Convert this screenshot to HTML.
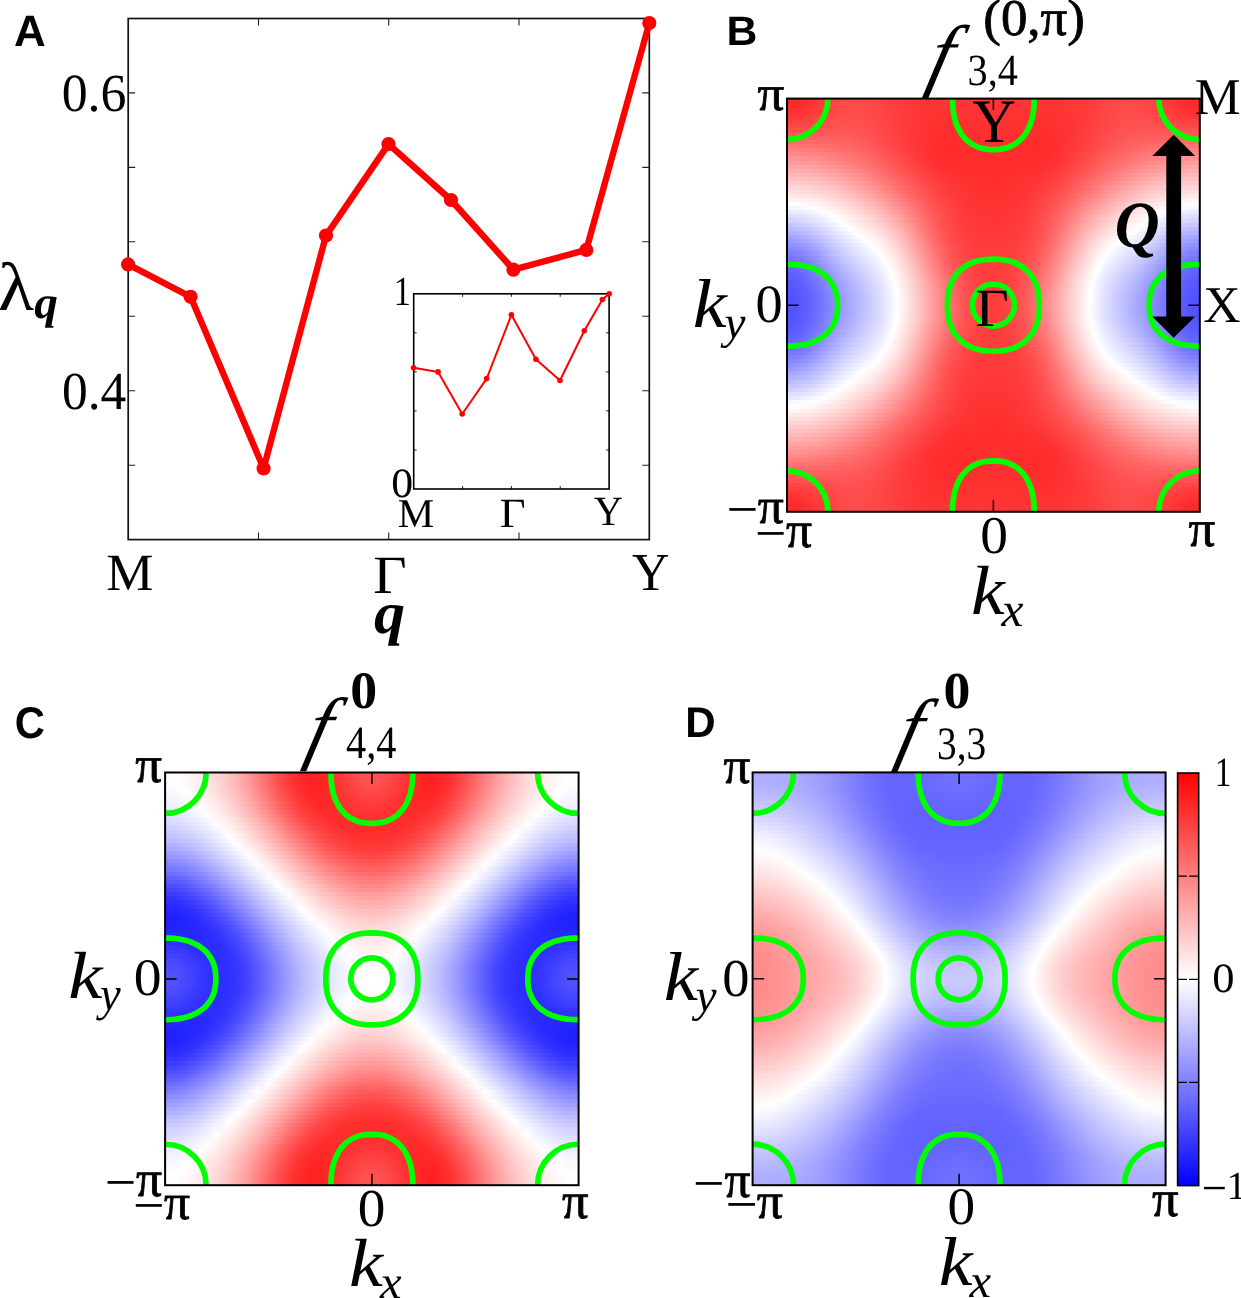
<!DOCTYPE html><html><head><meta charset="utf-8"><title>Figure</title><style>html,body{margin:0;padding:0;background:#fff}svg{display:block}</style></head><body><svg width="1241" height="1298" viewBox="0 0 1241 1298" text-rendering="geometricPrecision"><rect width="1241" height="1298" fill="#fff"/><defs><clipPath id="cp"><rect x="0" y="0" width="413.0" height="413.0"/></clipPath><g id="fs" fill="none" stroke="#00ff00" stroke-width="5.7" clip-path="url(#cp)"><circle cx="206.5" cy="206.5" r="21.0"/><path d="M252.5 206.5L252.3 212.0L251.9 216.5L251.1 220.7L250.1 224.6L248.7 228.3L247.1 231.7L245.2 234.9L243.0 237.8L240.5 240.5L237.8 243.0L234.9 245.2L231.7 247.1L228.3 248.7L224.6 250.1L220.7 251.1L216.5 251.9L212.0 252.3L206.5 252.5L201.0 252.3L196.5 251.9L192.3 251.1L188.4 250.1L184.7 248.7L181.3 247.1L178.1 245.2L175.2 243.0L172.5 240.5L170.0 237.8L167.8 234.9L165.9 231.7L164.3 228.3L162.9 224.6L161.9 220.7L161.1 216.5L160.7 212.0L160.5 206.5L160.7 201.0L161.1 196.5L161.9 192.3L162.9 188.4L164.3 184.7L165.9 181.3L167.8 178.1L170.0 175.2L172.5 172.5L175.2 170.0L178.1 167.8L181.3 165.9L184.7 164.3L188.4 162.9L192.3 161.9L196.5 161.1L201.0 160.7L206.5 160.5L212.0 160.7L216.5 161.1L220.7 161.9L224.6 162.9L228.3 164.3L231.7 165.9L234.9 167.8L237.8 170.0L240.5 172.5L243.0 175.2L245.2 178.1L247.1 181.3L248.7 184.7L250.1 188.4L251.1 192.3L251.9 196.5L252.3 201.0Z"/><path d="M50.7 206.5L50.5 211.4L50.0 215.4L49.2 219.1L48.0 222.6L46.5 225.8L44.7 228.8L42.6 231.7L40.2 234.3L37.5 236.7L34.5 238.9L31.3 240.8L27.7 242.5L24.0 244.0L19.9 245.2L15.7 246.1L11.1 246.8L6.1 247.2L0.0 247.3L-6.1 247.2L-11.1 246.8L-15.7 246.1L-19.9 245.2L-24.0 244.0L-27.7 242.5L-31.3 240.8L-34.5 238.9L-37.5 236.7L-40.2 234.3L-42.6 231.7L-44.7 228.8L-46.5 225.8L-48.0 222.6L-49.2 219.1L-50.0 215.4L-50.5 211.4L-50.7 206.5L-50.5 201.6L-50.0 197.6L-49.2 193.9L-48.0 190.4L-46.5 187.2L-44.7 184.2L-42.6 181.3L-40.2 178.7L-37.5 176.3L-34.5 174.1L-31.3 172.2L-27.7 170.5L-24.0 169.0L-19.9 167.8L-15.7 166.9L-11.1 166.2L-6.1 165.8L-0.0 165.7L6.1 165.8L11.1 166.2L15.7 166.9L19.9 167.8L24.0 169.0L27.7 170.5L31.3 172.2L34.5 174.1L37.5 176.3L40.2 178.7L42.6 181.3L44.7 184.2L46.5 187.2L48.0 190.4L49.2 193.9L50.0 197.6L50.5 201.6Z"/><path d="M463.7 206.5L463.5 211.4L463.0 215.4L462.2 219.1L461.0 222.6L459.5 225.8L457.7 228.8L455.6 231.7L453.2 234.3L450.5 236.7L447.5 238.9L444.3 240.8L440.7 242.5L437.0 244.0L432.9 245.2L428.7 246.1L424.1 246.8L419.1 247.2L413.0 247.3L406.9 247.2L401.9 246.8L397.3 246.1L393.1 245.2L389.0 244.0L385.3 242.5L381.7 240.8L378.5 238.9L375.5 236.7L372.8 234.3L370.4 231.7L368.3 228.8L366.5 225.8L365.0 222.6L363.8 219.1L363.0 215.4L362.5 211.4L362.3 206.5L362.5 201.6L363.0 197.6L363.8 193.9L365.0 190.4L366.5 187.2L368.3 184.2L370.4 181.3L372.8 178.7L375.5 176.3L378.5 174.1L381.7 172.2L385.3 170.5L389.0 169.0L393.1 167.8L397.3 166.9L401.9 166.2L406.9 165.8L413.0 165.7L419.1 165.8L424.1 166.2L428.7 166.9L432.9 167.8L437.0 169.0L440.7 170.5L444.3 172.2L447.5 174.1L450.5 176.3L453.2 178.7L455.6 181.3L457.7 184.2L459.5 187.2L461.0 190.4L462.2 193.9L463.0 197.6L463.5 201.6Z"/><path d="M247.3 0.0L247.2 6.1L246.8 11.1L246.1 15.7L245.2 20.0L244.0 24.1L242.5 27.9L240.8 31.4L238.9 34.7L236.7 37.7L234.3 40.4L231.7 42.8L228.8 44.9L225.8 46.7L222.6 48.2L219.1 49.4L215.4 50.2L211.4 50.7L206.5 50.9L201.6 50.7L197.6 50.2L193.9 49.4L190.4 48.2L187.2 46.7L184.2 44.9L181.3 42.8L178.7 40.4L176.3 37.7L174.1 34.7L172.2 31.4L170.5 27.9L169.0 24.1L167.8 20.0L166.9 15.7L166.2 11.1L165.8 6.1L165.7 0.0L165.8 -6.1L166.2 -11.1L166.9 -15.7L167.8 -20.0L169.0 -24.1L170.5 -27.9L172.2 -31.4L174.1 -34.7L176.3 -37.7L178.7 -40.4L181.3 -42.8L184.2 -44.9L187.2 -46.7L190.4 -48.2L193.9 -49.4L197.6 -50.2L201.6 -50.7L206.5 -50.9L211.4 -50.7L215.4 -50.2L219.1 -49.4L222.6 -48.2L225.8 -46.7L228.8 -44.9L231.7 -42.8L234.3 -40.4L236.7 -37.7L238.9 -34.7L240.8 -31.4L242.5 -27.9L244.0 -24.1L245.2 -20.0L246.1 -15.7L246.8 -11.1L247.2 -6.1Z"/><path d="M247.3 413.0L247.2 419.1L246.8 424.1L246.1 428.7L245.2 433.0L244.0 437.1L242.5 440.9L240.8 444.4L238.9 447.7L236.7 450.7L234.3 453.4L231.7 455.8L228.8 457.9L225.8 459.7L222.6 461.2L219.1 462.4L215.4 463.2L211.4 463.7L206.5 463.9L201.6 463.7L197.6 463.2L193.9 462.4L190.4 461.2L187.2 459.7L184.2 457.9L181.3 455.8L178.7 453.4L176.3 450.7L174.1 447.7L172.2 444.4L170.5 440.9L169.0 437.1L167.8 433.0L166.9 428.7L166.2 424.1L165.8 419.1L165.7 413.0L165.8 406.9L166.2 401.9L166.9 397.3L167.8 393.0L169.0 388.9L170.5 385.1L172.2 381.6L174.1 378.3L176.3 375.3L178.7 372.6L181.3 370.2L184.2 368.1L187.2 366.3L190.4 364.8L193.9 363.6L197.6 362.8L201.6 362.3L206.5 362.1L211.4 362.3L215.4 362.8L219.1 363.6L222.6 364.8L225.8 366.3L228.8 368.1L231.7 370.2L234.3 372.6L236.7 375.3L238.9 378.3L240.8 381.6L242.5 385.1L244.0 388.9L245.2 393.0L246.1 397.3L246.8 401.9L247.2 406.9Z"/><circle cx="0" cy="0" r="41"/><circle cx="0" cy="413.0" r="41"/><circle cx="413.0" cy="0" r="41"/><circle cx="413.0" cy="413.0" r="41"/></g><linearGradient id="b0" gradientUnits="userSpaceOnUse" x1="993.40" x2="1199.80" y1="0" y2="0" spreadMethod="reflect"><stop offset="0" stop-color="#ff3333"/><stop offset="0.05" stop-color="#ff3434"/><stop offset="0.1" stop-color="#ff3434"/><stop offset="0.15" stop-color="#ff3434"/><stop offset="0.2" stop-color="#ff3434"/><stop offset="0.25" stop-color="#ff3434"/><stop offset="0.3" stop-color="#ff3434"/><stop offset="0.35" stop-color="#ff3636"/><stop offset="0.4" stop-color="#ff3838"/><stop offset="0.45" stop-color="#ff3c3c"/><stop offset="0.5" stop-color="#ff4040"/><stop offset="0.55" stop-color="#ff4545"/><stop offset="0.6" stop-color="#ff4949"/><stop offset="0.65" stop-color="#ff4b4b"/><stop offset="0.7" stop-color="#ff4b4b"/><stop offset="0.75" stop-color="#ff4747"/><stop offset="0.8" stop-color="#ff4040"/><stop offset="0.85" stop-color="#ff3838"/><stop offset="0.9" stop-color="#ff3030"/><stop offset="0.95" stop-color="#ff2b2b"/><stop offset="1" stop-color="#ff2929"/></linearGradient><linearGradient id="b1" gradientUnits="userSpaceOnUse" x1="993.40" x2="1199.80" y1="0" y2="0" spreadMethod="reflect"><stop offset="0" stop-color="#ff3333"/><stop offset="0.05" stop-color="#ff3333"/><stop offset="0.1" stop-color="#ff3434"/><stop offset="0.15" stop-color="#ff3434"/><stop offset="0.2" stop-color="#ff3434"/><stop offset="0.25" stop-color="#ff3434"/><stop offset="0.3" stop-color="#ff3434"/><stop offset="0.35" stop-color="#ff3535"/><stop offset="0.4" stop-color="#ff3838"/><stop offset="0.45" stop-color="#ff3c3c"/><stop offset="0.5" stop-color="#ff4040"/><stop offset="0.55" stop-color="#ff4545"/><stop offset="0.6" stop-color="#ff4949"/><stop offset="0.65" stop-color="#ff4c4c"/><stop offset="0.7" stop-color="#ff4b4b"/><stop offset="0.75" stop-color="#ff4747"/><stop offset="0.8" stop-color="#ff4141"/><stop offset="0.85" stop-color="#ff3939"/><stop offset="0.9" stop-color="#ff3131"/><stop offset="0.95" stop-color="#ff2c2c"/><stop offset="1" stop-color="#ff2a2a"/></linearGradient><linearGradient id="b2" gradientUnits="userSpaceOnUse" x1="993.40" x2="1199.80" y1="0" y2="0" spreadMethod="reflect"><stop offset="0" stop-color="#ff3333"/><stop offset="0.05" stop-color="#ff3333"/><stop offset="0.1" stop-color="#ff3333"/><stop offset="0.15" stop-color="#ff3333"/><stop offset="0.2" stop-color="#ff3333"/><stop offset="0.25" stop-color="#ff3333"/><stop offset="0.3" stop-color="#ff3434"/><stop offset="0.35" stop-color="#ff3535"/><stop offset="0.4" stop-color="#ff3838"/><stop offset="0.45" stop-color="#ff3c3c"/><stop offset="0.5" stop-color="#ff4040"/><stop offset="0.55" stop-color="#ff4646"/><stop offset="0.6" stop-color="#ff4a4a"/><stop offset="0.65" stop-color="#ff4c4c"/><stop offset="0.7" stop-color="#ff4b4b"/><stop offset="0.75" stop-color="#ff4848"/><stop offset="0.8" stop-color="#ff4242"/><stop offset="0.85" stop-color="#ff3b3b"/><stop offset="0.9" stop-color="#ff3434"/><stop offset="0.95" stop-color="#ff2f2f"/><stop offset="1" stop-color="#ff2d2d"/></linearGradient><linearGradient id="b3" gradientUnits="userSpaceOnUse" x1="993.40" x2="1199.80" y1="0" y2="0" spreadMethod="reflect"><stop offset="0" stop-color="#ff3333"/><stop offset="0.05" stop-color="#ff3333"/><stop offset="0.1" stop-color="#ff3333"/><stop offset="0.15" stop-color="#ff3333"/><stop offset="0.2" stop-color="#ff3232"/><stop offset="0.25" stop-color="#ff3232"/><stop offset="0.3" stop-color="#ff3333"/><stop offset="0.35" stop-color="#ff3535"/><stop offset="0.4" stop-color="#ff3838"/><stop offset="0.45" stop-color="#ff3c3c"/><stop offset="0.5" stop-color="#ff4141"/><stop offset="0.55" stop-color="#ff4646"/><stop offset="0.6" stop-color="#ff4a4a"/><stop offset="0.65" stop-color="#ff4d4d"/><stop offset="0.7" stop-color="#ff4c4c"/><stop offset="0.75" stop-color="#ff4949"/><stop offset="0.8" stop-color="#ff4444"/><stop offset="0.85" stop-color="#ff3e3e"/><stop offset="0.9" stop-color="#ff3838"/><stop offset="0.95" stop-color="#ff3333"/><stop offset="1" stop-color="#ff3131"/></linearGradient><linearGradient id="b4" gradientUnits="userSpaceOnUse" x1="993.40" x2="1199.80" y1="0" y2="0" spreadMethod="reflect"><stop offset="0" stop-color="#ff3333"/><stop offset="0.05" stop-color="#ff3333"/><stop offset="0.1" stop-color="#ff3232"/><stop offset="0.15" stop-color="#ff3232"/><stop offset="0.2" stop-color="#ff3131"/><stop offset="0.25" stop-color="#ff3131"/><stop offset="0.3" stop-color="#ff3232"/><stop offset="0.35" stop-color="#ff3434"/><stop offset="0.4" stop-color="#ff3737"/><stop offset="0.45" stop-color="#ff3c3c"/><stop offset="0.5" stop-color="#ff4141"/><stop offset="0.55" stop-color="#ff4646"/><stop offset="0.6" stop-color="#ff4b4b"/><stop offset="0.65" stop-color="#ff4e4e"/><stop offset="0.7" stop-color="#ff4e4e"/><stop offset="0.75" stop-color="#ff4c4c"/><stop offset="0.8" stop-color="#ff4747"/><stop offset="0.85" stop-color="#ff4242"/><stop offset="0.9" stop-color="#ff3c3c"/><stop offset="0.95" stop-color="#ff3838"/><stop offset="1" stop-color="#ff3737"/></linearGradient><linearGradient id="b5" gradientUnits="userSpaceOnUse" x1="993.40" x2="1199.80" y1="0" y2="0" spreadMethod="reflect"><stop offset="0" stop-color="#ff3232"/><stop offset="0.05" stop-color="#ff3232"/><stop offset="0.1" stop-color="#ff3232"/><stop offset="0.15" stop-color="#ff3131"/><stop offset="0.2" stop-color="#ff3030"/><stop offset="0.25" stop-color="#ff3030"/><stop offset="0.3" stop-color="#ff3131"/><stop offset="0.35" stop-color="#ff3434"/><stop offset="0.4" stop-color="#ff3737"/><stop offset="0.45" stop-color="#ff3c3c"/><stop offset="0.5" stop-color="#ff4242"/><stop offset="0.55" stop-color="#ff4747"/><stop offset="0.6" stop-color="#ff4c4c"/><stop offset="0.65" stop-color="#ff4f4f"/><stop offset="0.7" stop-color="#ff5050"/><stop offset="0.75" stop-color="#ff4e4e"/><stop offset="0.8" stop-color="#ff4b4b"/><stop offset="0.85" stop-color="#ff4646"/><stop offset="0.9" stop-color="#ff4242"/><stop offset="0.95" stop-color="#ff3f3f"/><stop offset="1" stop-color="#ff3e3e"/></linearGradient><linearGradient id="b6" gradientUnits="userSpaceOnUse" x1="993.40" x2="1199.80" y1="0" y2="0" spreadMethod="reflect"><stop offset="0" stop-color="#ff3232"/><stop offset="0.05" stop-color="#ff3232"/><stop offset="0.1" stop-color="#ff3131"/><stop offset="0.15" stop-color="#ff3030"/><stop offset="0.2" stop-color="#ff2f2f"/><stop offset="0.25" stop-color="#ff2f2f"/><stop offset="0.3" stop-color="#ff3030"/><stop offset="0.35" stop-color="#ff3333"/><stop offset="0.4" stop-color="#ff3737"/><stop offset="0.45" stop-color="#ff3c3c"/><stop offset="0.5" stop-color="#ff4242"/><stop offset="0.55" stop-color="#ff4848"/><stop offset="0.6" stop-color="#ff4d4d"/><stop offset="0.65" stop-color="#ff5050"/><stop offset="0.7" stop-color="#ff5252"/><stop offset="0.75" stop-color="#ff5151"/><stop offset="0.8" stop-color="#ff4f4f"/><stop offset="0.85" stop-color="#ff4c4c"/><stop offset="0.9" stop-color="#ff4949"/><stop offset="0.95" stop-color="#ff4646"/><stop offset="1" stop-color="#ff4646"/></linearGradient><linearGradient id="b7" gradientUnits="userSpaceOnUse" x1="993.40" x2="1199.80" y1="0" y2="0" spreadMethod="reflect"><stop offset="0" stop-color="#ff3131"/><stop offset="0.05" stop-color="#ff3131"/><stop offset="0.1" stop-color="#ff3030"/><stop offset="0.15" stop-color="#ff2f2f"/><stop offset="0.2" stop-color="#ff2e2e"/><stop offset="0.25" stop-color="#ff2e2e"/><stop offset="0.3" stop-color="#ff3030"/><stop offset="0.35" stop-color="#ff3333"/><stop offset="0.4" stop-color="#ff3737"/><stop offset="0.45" stop-color="#ff3d3d"/><stop offset="0.5" stop-color="#ff4343"/><stop offset="0.55" stop-color="#ff4949"/><stop offset="0.6" stop-color="#ff4f4f"/><stop offset="0.65" stop-color="#ff5252"/><stop offset="0.7" stop-color="#ff5555"/><stop offset="0.75" stop-color="#ff5555"/><stop offset="0.8" stop-color="#ff5454"/><stop offset="0.85" stop-color="#ff5252"/><stop offset="0.9" stop-color="#ff5050"/><stop offset="0.95" stop-color="#ff4f4f"/><stop offset="1" stop-color="#ff4e4e"/></linearGradient><linearGradient id="b8" gradientUnits="userSpaceOnUse" x1="993.40" x2="1199.80" y1="0" y2="0" spreadMethod="reflect"><stop offset="0" stop-color="#ff3131"/><stop offset="0.05" stop-color="#ff3030"/><stop offset="0.1" stop-color="#ff2f2f"/><stop offset="0.15" stop-color="#ff2e2e"/><stop offset="0.2" stop-color="#ff2d2d"/><stop offset="0.25" stop-color="#ff2d2d"/><stop offset="0.3" stop-color="#ff2f2f"/><stop offset="0.35" stop-color="#ff3333"/><stop offset="0.4" stop-color="#ff3838"/><stop offset="0.45" stop-color="#ff3e3e"/><stop offset="0.5" stop-color="#ff4545"/><stop offset="0.55" stop-color="#ff4b4b"/><stop offset="0.6" stop-color="#ff5151"/><stop offset="0.65" stop-color="#ff5555"/><stop offset="0.7" stop-color="#ff5858"/><stop offset="0.75" stop-color="#ff5959"/><stop offset="0.8" stop-color="#ff5959"/><stop offset="0.85" stop-color="#ff5959"/><stop offset="0.9" stop-color="#ff5858"/><stop offset="0.95" stop-color="#ff5757"/><stop offset="1" stop-color="#ff5757"/></linearGradient><linearGradient id="b9" gradientUnits="userSpaceOnUse" x1="993.40" x2="1199.80" y1="0" y2="0" spreadMethod="reflect"><stop offset="0" stop-color="#ff3030"/><stop offset="0.05" stop-color="#ff3030"/><stop offset="0.1" stop-color="#ff2f2f"/><stop offset="0.15" stop-color="#ff2d2d"/><stop offset="0.2" stop-color="#ff2c2c"/><stop offset="0.25" stop-color="#ff2d2d"/><stop offset="0.3" stop-color="#ff2f2f"/><stop offset="0.35" stop-color="#ff3333"/><stop offset="0.4" stop-color="#ff3838"/><stop offset="0.45" stop-color="#ff3f3f"/><stop offset="0.5" stop-color="#ff4646"/><stop offset="0.55" stop-color="#ff4d4d"/><stop offset="0.6" stop-color="#ff5353"/><stop offset="0.65" stop-color="#ff5858"/><stop offset="0.7" stop-color="#ff5c5c"/><stop offset="0.75" stop-color="#ff5e5e"/><stop offset="0.8" stop-color="#ff5f5f"/><stop offset="0.85" stop-color="#ff6060"/><stop offset="0.9" stop-color="#ff6161"/><stop offset="0.95" stop-color="#ff6161"/><stop offset="1" stop-color="#ff6161"/></linearGradient><linearGradient id="b10" gradientUnits="userSpaceOnUse" x1="993.40" x2="1199.80" y1="0" y2="0" spreadMethod="reflect"><stop offset="0" stop-color="#ff3030"/><stop offset="0.05" stop-color="#ff2f2f"/><stop offset="0.1" stop-color="#ff2e2e"/><stop offset="0.15" stop-color="#ff2d2d"/><stop offset="0.2" stop-color="#ff2c2c"/><stop offset="0.25" stop-color="#ff2c2c"/><stop offset="0.3" stop-color="#ff2f2f"/><stop offset="0.35" stop-color="#ff3333"/><stop offset="0.4" stop-color="#ff3939"/><stop offset="0.45" stop-color="#ff4040"/><stop offset="0.5" stop-color="#ff4848"/><stop offset="0.55" stop-color="#ff4f4f"/><stop offset="0.6" stop-color="#ff5656"/><stop offset="0.65" stop-color="#ff5c5c"/><stop offset="0.7" stop-color="#ff6060"/><stop offset="0.75" stop-color="#ff6363"/><stop offset="0.8" stop-color="#ff6666"/><stop offset="0.85" stop-color="#ff6868"/><stop offset="0.9" stop-color="#ff6a6a"/><stop offset="0.95" stop-color="#ff6a6a"/><stop offset="1" stop-color="#ff6b6b"/></linearGradient><linearGradient id="b11" gradientUnits="userSpaceOnUse" x1="993.40" x2="1199.80" y1="0" y2="0" spreadMethod="reflect"><stop offset="0" stop-color="#ff2f2f"/><stop offset="0.05" stop-color="#ff2f2f"/><stop offset="0.1" stop-color="#ff2e2e"/><stop offset="0.15" stop-color="#ff2c2c"/><stop offset="0.2" stop-color="#ff2b2b"/><stop offset="0.25" stop-color="#ff2c2c"/><stop offset="0.3" stop-color="#ff2f2f"/><stop offset="0.35" stop-color="#ff3434"/><stop offset="0.4" stop-color="#ff3a3a"/><stop offset="0.45" stop-color="#ff4242"/><stop offset="0.5" stop-color="#ff4a4a"/><stop offset="0.55" stop-color="#ff5252"/><stop offset="0.6" stop-color="#ff5a5a"/><stop offset="0.65" stop-color="#ff6060"/><stop offset="0.7" stop-color="#ff6565"/><stop offset="0.75" stop-color="#ff6969"/><stop offset="0.8" stop-color="#ff6d6d"/><stop offset="0.85" stop-color="#ff7070"/><stop offset="0.9" stop-color="#ff7373"/><stop offset="0.95" stop-color="#ff7474"/><stop offset="1" stop-color="#ff7575"/></linearGradient><linearGradient id="b12" gradientUnits="userSpaceOnUse" x1="993.40" x2="1199.80" y1="0" y2="0" spreadMethod="reflect"><stop offset="0" stop-color="#ff2f2f"/><stop offset="0.05" stop-color="#ff2f2f"/><stop offset="0.1" stop-color="#ff2d2d"/><stop offset="0.15" stop-color="#ff2c2c"/><stop offset="0.2" stop-color="#ff2b2b"/><stop offset="0.25" stop-color="#ff2c2c"/><stop offset="0.3" stop-color="#ff2f2f"/><stop offset="0.35" stop-color="#ff3535"/><stop offset="0.4" stop-color="#ff3c3c"/><stop offset="0.45" stop-color="#ff4444"/><stop offset="0.5" stop-color="#ff4d4d"/><stop offset="0.55" stop-color="#ff5656"/><stop offset="0.6" stop-color="#ff5e5e"/><stop offset="0.65" stop-color="#ff6464"/><stop offset="0.7" stop-color="#ff6b6b"/><stop offset="0.75" stop-color="#ff7070"/><stop offset="0.8" stop-color="#ff7575"/><stop offset="0.85" stop-color="#ff7979"/><stop offset="0.9" stop-color="#ff7c7c"/><stop offset="0.95" stop-color="#ff7e7e"/><stop offset="1" stop-color="#ff7f7f"/></linearGradient><linearGradient id="b13" gradientUnits="userSpaceOnUse" x1="993.40" x2="1199.80" y1="0" y2="0" spreadMethod="reflect"><stop offset="0" stop-color="#ff2f2f"/><stop offset="0.05" stop-color="#ff2e2e"/><stop offset="0.1" stop-color="#ff2d2d"/><stop offset="0.15" stop-color="#ff2c2c"/><stop offset="0.2" stop-color="#ff2c2c"/><stop offset="0.25" stop-color="#ff2d2d"/><stop offset="0.3" stop-color="#ff3131"/><stop offset="0.35" stop-color="#ff3636"/><stop offset="0.4" stop-color="#ff3e3e"/><stop offset="0.45" stop-color="#ff4747"/><stop offset="0.5" stop-color="#ff5050"/><stop offset="0.55" stop-color="#ff5a5a"/><stop offset="0.6" stop-color="#ff6262"/><stop offset="0.65" stop-color="#ff6a6a"/><stop offset="0.7" stop-color="#ff7171"/><stop offset="0.75" stop-color="#ff7777"/><stop offset="0.8" stop-color="#ff7d7d"/><stop offset="0.85" stop-color="#ff8282"/><stop offset="0.9" stop-color="#ff8585"/><stop offset="0.95" stop-color="#ff8888"/><stop offset="1" stop-color="#ff8989"/></linearGradient><linearGradient id="b14" gradientUnits="userSpaceOnUse" x1="993.40" x2="1199.80" y1="0" y2="0" spreadMethod="reflect"><stop offset="0" stop-color="#ff2e2e"/><stop offset="0.05" stop-color="#ff2e2e"/><stop offset="0.1" stop-color="#ff2d2d"/><stop offset="0.15" stop-color="#ff2c2c"/><stop offset="0.2" stop-color="#ff2c2c"/><stop offset="0.25" stop-color="#ff2e2e"/><stop offset="0.3" stop-color="#ff3232"/><stop offset="0.35" stop-color="#ff3838"/><stop offset="0.4" stop-color="#ff4141"/><stop offset="0.45" stop-color="#ff4a4a"/><stop offset="0.5" stop-color="#ff5454"/><stop offset="0.55" stop-color="#ff5e5e"/><stop offset="0.6" stop-color="#ff6767"/><stop offset="0.65" stop-color="#ff7070"/><stop offset="0.7" stop-color="#ff7878"/><stop offset="0.75" stop-color="#ff7f7f"/><stop offset="0.8" stop-color="#ff8585"/><stop offset="0.85" stop-color="#ff8b8b"/><stop offset="0.9" stop-color="#ff8f8f"/><stop offset="0.95" stop-color="#ff9292"/><stop offset="1" stop-color="#ff9393"/></linearGradient><linearGradient id="b15" gradientUnits="userSpaceOnUse" x1="993.40" x2="1199.80" y1="0" y2="0" spreadMethod="reflect"><stop offset="0" stop-color="#ff2e2e"/><stop offset="0.05" stop-color="#ff2e2e"/><stop offset="0.1" stop-color="#ff2d2d"/><stop offset="0.15" stop-color="#ff2d2d"/><stop offset="0.2" stop-color="#ff2d2d"/><stop offset="0.25" stop-color="#ff3030"/><stop offset="0.3" stop-color="#ff3434"/><stop offset="0.35" stop-color="#ff3b3b"/><stop offset="0.4" stop-color="#ff4444"/><stop offset="0.45" stop-color="#ff4e4e"/><stop offset="0.5" stop-color="#ff5858"/><stop offset="0.55" stop-color="#ff6363"/><stop offset="0.6" stop-color="#ff6d6d"/><stop offset="0.65" stop-color="#ff7676"/><stop offset="0.7" stop-color="#ff7f7f"/><stop offset="0.75" stop-color="#ff8787"/><stop offset="0.8" stop-color="#ff8e8e"/><stop offset="0.85" stop-color="#ff9494"/><stop offset="0.9" stop-color="#ff9898"/><stop offset="0.95" stop-color="#ff9b9b"/><stop offset="1" stop-color="#ff9c9c"/></linearGradient><linearGradient id="b16" gradientUnits="userSpaceOnUse" x1="993.40" x2="1199.80" y1="0" y2="0" spreadMethod="reflect"><stop offset="0" stop-color="#ff2e2e"/><stop offset="0.05" stop-color="#ff2e2e"/><stop offset="0.1" stop-color="#ff2d2d"/><stop offset="0.15" stop-color="#ff2d2d"/><stop offset="0.2" stop-color="#ff2e2e"/><stop offset="0.25" stop-color="#ff3131"/><stop offset="0.3" stop-color="#ff3636"/><stop offset="0.35" stop-color="#ff3e3e"/><stop offset="0.4" stop-color="#ff4747"/><stop offset="0.45" stop-color="#ff5252"/><stop offset="0.5" stop-color="#ff5d5d"/><stop offset="0.55" stop-color="#ff6868"/><stop offset="0.6" stop-color="#ff7373"/><stop offset="0.65" stop-color="#ff7d7d"/><stop offset="0.7" stop-color="#ff8686"/><stop offset="0.75" stop-color="#ff8f8f"/><stop offset="0.8" stop-color="#ff9696"/><stop offset="0.85" stop-color="#ff9d9d"/><stop offset="0.9" stop-color="#ffa2a2"/><stop offset="0.95" stop-color="#ffa5a5"/><stop offset="1" stop-color="#ffa6a6"/></linearGradient><linearGradient id="b17" gradientUnits="userSpaceOnUse" x1="993.40" x2="1199.80" y1="0" y2="0" spreadMethod="reflect"><stop offset="0" stop-color="#ff2e2e"/><stop offset="0.05" stop-color="#ff2e2e"/><stop offset="0.1" stop-color="#ff2e2e"/><stop offset="0.15" stop-color="#ff2e2e"/><stop offset="0.2" stop-color="#ff3030"/><stop offset="0.25" stop-color="#ff3333"/><stop offset="0.3" stop-color="#ff3939"/><stop offset="0.35" stop-color="#ff4141"/><stop offset="0.4" stop-color="#ff4b4b"/><stop offset="0.45" stop-color="#ff5656"/><stop offset="0.5" stop-color="#ff6262"/><stop offset="0.55" stop-color="#ff6e6e"/><stop offset="0.6" stop-color="#ff7a7a"/><stop offset="0.65" stop-color="#ff8585"/><stop offset="0.7" stop-color="#ff8f8f"/><stop offset="0.75" stop-color="#ff9898"/><stop offset="0.8" stop-color="#ff9f9f"/><stop offset="0.85" stop-color="#ffa6a6"/><stop offset="0.9" stop-color="#ffabab"/><stop offset="0.95" stop-color="#ffaeae"/><stop offset="1" stop-color="#ffafaf"/></linearGradient><linearGradient id="b18" gradientUnits="userSpaceOnUse" x1="993.40" x2="1199.80" y1="0" y2="0" spreadMethod="reflect"><stop offset="0" stop-color="#ff2e2e"/><stop offset="0.05" stop-color="#ff2e2e"/><stop offset="0.1" stop-color="#ff2e2e"/><stop offset="0.15" stop-color="#ff2f2f"/><stop offset="0.2" stop-color="#ff3232"/><stop offset="0.25" stop-color="#ff3636"/><stop offset="0.3" stop-color="#ff3c3c"/><stop offset="0.35" stop-color="#ff4545"/><stop offset="0.4" stop-color="#ff4f4f"/><stop offset="0.45" stop-color="#ff5b5b"/><stop offset="0.5" stop-color="#ff6868"/><stop offset="0.55" stop-color="#ff7474"/><stop offset="0.6" stop-color="#ff8181"/><stop offset="0.65" stop-color="#ff8c8c"/><stop offset="0.7" stop-color="#ff9797"/><stop offset="0.75" stop-color="#ffa0a0"/><stop offset="0.8" stop-color="#ffa9a9"/><stop offset="0.85" stop-color="#ffafaf"/><stop offset="0.9" stop-color="#ffb4b4"/><stop offset="0.95" stop-color="#ffb8b8"/><stop offset="1" stop-color="#ffb9b9"/></linearGradient><linearGradient id="b19" gradientUnits="userSpaceOnUse" x1="993.40" x2="1199.80" y1="0" y2="0" spreadMethod="reflect"><stop offset="0" stop-color="#ff2e2e"/><stop offset="0.05" stop-color="#ff2f2f"/><stop offset="0.1" stop-color="#ff2f2f"/><stop offset="0.15" stop-color="#ff3131"/><stop offset="0.2" stop-color="#ff3333"/><stop offset="0.25" stop-color="#ff3838"/><stop offset="0.3" stop-color="#ff3f3f"/><stop offset="0.35" stop-color="#ff4949"/><stop offset="0.4" stop-color="#ff5454"/><stop offset="0.45" stop-color="#ff6060"/><stop offset="0.5" stop-color="#ff6e6e"/><stop offset="0.55" stop-color="#ff7b7b"/><stop offset="0.6" stop-color="#ff8888"/><stop offset="0.65" stop-color="#ff9494"/><stop offset="0.7" stop-color="#ffa0a0"/><stop offset="0.75" stop-color="#ffa9a9"/><stop offset="0.8" stop-color="#ffb2b2"/><stop offset="0.85" stop-color="#ffb9b9"/><stop offset="0.9" stop-color="#ffbebe"/><stop offset="0.95" stop-color="#ffc1c1"/><stop offset="1" stop-color="#ffc2c2"/></linearGradient><linearGradient id="b20" gradientUnits="userSpaceOnUse" x1="993.40" x2="1199.80" y1="0" y2="0" spreadMethod="reflect"><stop offset="0" stop-color="#ff2f2f"/><stop offset="0.05" stop-color="#ff2f2f"/><stop offset="0.1" stop-color="#ff3030"/><stop offset="0.15" stop-color="#ff3232"/><stop offset="0.2" stop-color="#ff3535"/><stop offset="0.25" stop-color="#ff3b3b"/><stop offset="0.3" stop-color="#ff4343"/><stop offset="0.35" stop-color="#ff4d4d"/><stop offset="0.4" stop-color="#ff5959"/><stop offset="0.45" stop-color="#ff6666"/><stop offset="0.5" stop-color="#ff7474"/><stop offset="0.55" stop-color="#ff8282"/><stop offset="0.6" stop-color="#ff9090"/><stop offset="0.65" stop-color="#ff9d9d"/><stop offset="0.7" stop-color="#ffa8a8"/><stop offset="0.75" stop-color="#ffb2b2"/><stop offset="0.8" stop-color="#ffbbbb"/><stop offset="0.85" stop-color="#ffc2c2"/><stop offset="0.9" stop-color="#ffc7c7"/><stop offset="0.95" stop-color="#ffcaca"/><stop offset="1" stop-color="#ffcbcb"/></linearGradient><linearGradient id="b21" gradientUnits="userSpaceOnUse" x1="993.40" x2="1199.80" y1="0" y2="0" spreadMethod="reflect"><stop offset="0" stop-color="#ff2f2f"/><stop offset="0.05" stop-color="#ff3030"/><stop offset="0.1" stop-color="#ff3131"/><stop offset="0.15" stop-color="#ff3333"/><stop offset="0.2" stop-color="#ff3737"/><stop offset="0.25" stop-color="#ff3e3e"/><stop offset="0.3" stop-color="#ff4646"/><stop offset="0.35" stop-color="#ff5151"/><stop offset="0.4" stop-color="#ff5e5e"/><stop offset="0.45" stop-color="#ff6c6c"/><stop offset="0.5" stop-color="#ff7b7b"/><stop offset="0.55" stop-color="#ff8a8a"/><stop offset="0.6" stop-color="#ff9898"/><stop offset="0.65" stop-color="#ffa5a5"/><stop offset="0.7" stop-color="#ffb1b1"/><stop offset="0.75" stop-color="#ffbcbc"/><stop offset="0.8" stop-color="#ffc4c4"/><stop offset="0.85" stop-color="#ffcbcb"/><stop offset="0.9" stop-color="#ffd1d1"/><stop offset="0.95" stop-color="#ffd4d4"/><stop offset="1" stop-color="#ffd5d5"/></linearGradient><linearGradient id="b22" gradientUnits="userSpaceOnUse" x1="993.40" x2="1199.80" y1="0" y2="0" spreadMethod="reflect"><stop offset="0" stop-color="#ff3030"/><stop offset="0.05" stop-color="#ff3030"/><stop offset="0.1" stop-color="#ff3232"/><stop offset="0.15" stop-color="#ff3535"/><stop offset="0.2" stop-color="#ff3939"/><stop offset="0.25" stop-color="#ff4040"/><stop offset="0.3" stop-color="#ff4a4a"/><stop offset="0.35" stop-color="#ff5656"/><stop offset="0.4" stop-color="#ff6363"/><stop offset="0.45" stop-color="#ff7272"/><stop offset="0.5" stop-color="#ff8282"/><stop offset="0.55" stop-color="#ff9191"/><stop offset="0.6" stop-color="#ffa0a0"/><stop offset="0.65" stop-color="#ffaeae"/><stop offset="0.7" stop-color="#ffbaba"/><stop offset="0.75" stop-color="#ffc5c5"/><stop offset="0.8" stop-color="#ffcece"/><stop offset="0.85" stop-color="#ffd5d5"/><stop offset="0.9" stop-color="#ffdada"/><stop offset="0.95" stop-color="#ffdede"/><stop offset="1" stop-color="#ffdfdf"/></linearGradient><linearGradient id="b23" gradientUnits="userSpaceOnUse" x1="993.40" x2="1199.80" y1="0" y2="0" spreadMethod="reflect"><stop offset="0" stop-color="#ff3030"/><stop offset="0.05" stop-color="#ff3131"/><stop offset="0.1" stop-color="#ff3333"/><stop offset="0.15" stop-color="#ff3636"/><stop offset="0.2" stop-color="#ff3b3b"/><stop offset="0.25" stop-color="#ff4343"/><stop offset="0.3" stop-color="#ff4d4d"/><stop offset="0.35" stop-color="#ff5a5a"/><stop offset="0.4" stop-color="#ff6969"/><stop offset="0.45" stop-color="#ff7979"/><stop offset="0.5" stop-color="#ff8989"/><stop offset="0.55" stop-color="#ff9999"/><stop offset="0.6" stop-color="#ffa8a8"/><stop offset="0.65" stop-color="#ffb6b6"/><stop offset="0.7" stop-color="#ffc3c3"/><stop offset="0.75" stop-color="#ffcece"/><stop offset="0.8" stop-color="#ffd7d7"/><stop offset="0.85" stop-color="#ffdede"/><stop offset="0.9" stop-color="#ffe4e4"/><stop offset="0.95" stop-color="#ffe8e8"/><stop offset="1" stop-color="#ffe9e9"/></linearGradient><linearGradient id="b24" gradientUnits="userSpaceOnUse" x1="993.40" x2="1199.80" y1="0" y2="0" spreadMethod="reflect"><stop offset="0" stop-color="#ff3131"/><stop offset="0.05" stop-color="#ff3232"/><stop offset="0.1" stop-color="#ff3333"/><stop offset="0.15" stop-color="#ff3737"/><stop offset="0.2" stop-color="#ff3d3d"/><stop offset="0.25" stop-color="#ff4646"/><stop offset="0.3" stop-color="#ff5151"/><stop offset="0.35" stop-color="#ff5f5f"/><stop offset="0.4" stop-color="#ff6f6f"/><stop offset="0.45" stop-color="#ff8080"/><stop offset="0.5" stop-color="#ff9191"/><stop offset="0.55" stop-color="#ffa1a1"/><stop offset="0.6" stop-color="#ffb1b1"/><stop offset="0.65" stop-color="#ffbfbf"/><stop offset="0.7" stop-color="#ffcbcb"/><stop offset="0.75" stop-color="#ffd6d6"/><stop offset="0.8" stop-color="#ffe0e0"/><stop offset="0.85" stop-color="#ffe8e8"/><stop offset="0.9" stop-color="#ffeeee"/><stop offset="0.95" stop-color="#fff2f2"/><stop offset="1" stop-color="#fff3f3"/></linearGradient><linearGradient id="b25" gradientUnits="userSpaceOnUse" x1="993.40" x2="1199.80" y1="0" y2="0" spreadMethod="reflect"><stop offset="0" stop-color="#ff3232"/><stop offset="0.05" stop-color="#ff3232"/><stop offset="0.1" stop-color="#ff3434"/><stop offset="0.15" stop-color="#ff3838"/><stop offset="0.2" stop-color="#ff3f3f"/><stop offset="0.25" stop-color="#ff4848"/><stop offset="0.3" stop-color="#ff5454"/><stop offset="0.35" stop-color="#ff6464"/><stop offset="0.4" stop-color="#ff7575"/><stop offset="0.45" stop-color="#ff8787"/><stop offset="0.5" stop-color="#ff9898"/><stop offset="0.55" stop-color="#ffa9a9"/><stop offset="0.6" stop-color="#ffb9b9"/><stop offset="0.65" stop-color="#ffc7c7"/><stop offset="0.7" stop-color="#ffd4d4"/><stop offset="0.75" stop-color="#ffdfdf"/><stop offset="0.8" stop-color="#ffe9e9"/><stop offset="0.85" stop-color="#fff2f2"/><stop offset="0.9" stop-color="#fff8f8"/><stop offset="0.95" stop-color="#fffdfd"/><stop offset="1" stop-color="#fffefe"/></linearGradient><linearGradient id="b26" gradientUnits="userSpaceOnUse" x1="993.40" x2="1199.80" y1="0" y2="0" spreadMethod="reflect"><stop offset="0" stop-color="#ff3333"/><stop offset="0.05" stop-color="#ff3333"/><stop offset="0.1" stop-color="#ff3535"/><stop offset="0.15" stop-color="#ff3939"/><stop offset="0.2" stop-color="#ff4040"/><stop offset="0.25" stop-color="#ff4a4a"/><stop offset="0.3" stop-color="#ff5858"/><stop offset="0.35" stop-color="#ff6868"/><stop offset="0.4" stop-color="#ff7b7b"/><stop offset="0.45" stop-color="#ff8e8e"/><stop offset="0.5" stop-color="#ffa0a0"/><stop offset="0.55" stop-color="#ffb1b1"/><stop offset="0.6" stop-color="#ffc1c1"/><stop offset="0.65" stop-color="#ffcfcf"/><stop offset="0.7" stop-color="#ffdcdc"/><stop offset="0.75" stop-color="#ffe7e7"/><stop offset="0.8" stop-color="#fff2f2"/><stop offset="0.85" stop-color="#fffbfb"/><stop offset="0.8736" stop-color="#ffffff"/><stop offset="0.9" stop-color="#fbfbff"/><stop offset="0.95" stop-color="#f7f7ff"/><stop offset="1" stop-color="#f5f5ff"/></linearGradient><linearGradient id="b27" gradientUnits="userSpaceOnUse" x1="993.40" x2="1199.80" y1="0" y2="0" spreadMethod="reflect"><stop offset="0" stop-color="#ff3333"/><stop offset="0.05" stop-color="#ff3434"/><stop offset="0.1" stop-color="#ff3636"/><stop offset="0.15" stop-color="#ff3a3a"/><stop offset="0.2" stop-color="#ff4242"/><stop offset="0.25" stop-color="#ff4d4d"/><stop offset="0.3" stop-color="#ff5b5b"/><stop offset="0.35" stop-color="#ff6d6d"/><stop offset="0.4" stop-color="#ff8181"/><stop offset="0.45" stop-color="#ff9595"/><stop offset="0.5" stop-color="#ffa8a8"/><stop offset="0.55" stop-color="#ffb9b9"/><stop offset="0.6" stop-color="#ffc9c9"/><stop offset="0.65" stop-color="#ffd7d7"/><stop offset="0.7" stop-color="#ffe4e4"/><stop offset="0.75" stop-color="#fff0f0"/><stop offset="0.8" stop-color="#fffbfb"/><stop offset="0.82" stop-color="#ffffff"/><stop offset="0.85" stop-color="#f9f9ff"/><stop offset="0.9" stop-color="#f1f1ff"/><stop offset="0.95" stop-color="#ebebff"/><stop offset="1" stop-color="#eaeaff"/></linearGradient><linearGradient id="b28" gradientUnits="userSpaceOnUse" x1="993.40" x2="1199.80" y1="0" y2="0" spreadMethod="reflect"><stop offset="0" stop-color="#ff3434"/><stop offset="0.05" stop-color="#ff3535"/><stop offset="0.1" stop-color="#ff3737"/><stop offset="0.15" stop-color="#ff3b3b"/><stop offset="0.2" stop-color="#ff4343"/><stop offset="0.25" stop-color="#ff4f4f"/><stop offset="0.3" stop-color="#ff5f5f"/><stop offset="0.35" stop-color="#ff7272"/><stop offset="0.4" stop-color="#ff8686"/><stop offset="0.45" stop-color="#ff9c9c"/><stop offset="0.5" stop-color="#ffafaf"/><stop offset="0.55" stop-color="#ffc1c1"/><stop offset="0.6" stop-color="#ffd1d1"/><stop offset="0.65" stop-color="#ffdfdf"/><stop offset="0.7" stop-color="#ffebeb"/><stop offset="0.75" stop-color="#fff8f8"/><stop offset="0.781" stop-color="#ffffff"/><stop offset="0.8" stop-color="#fbfbff"/><stop offset="0.85" stop-color="#efefff"/><stop offset="0.9" stop-color="#e6e6ff"/><stop offset="0.95" stop-color="#e0e0ff"/><stop offset="1" stop-color="#dedeff"/></linearGradient><linearGradient id="b29" gradientUnits="userSpaceOnUse" x1="993.40" x2="1199.80" y1="0" y2="0" spreadMethod="reflect"><stop offset="0" stop-color="#ff3535"/><stop offset="0.05" stop-color="#ff3636"/><stop offset="0.1" stop-color="#ff3838"/><stop offset="0.15" stop-color="#ff3c3c"/><stop offset="0.2" stop-color="#ff4545"/><stop offset="0.25" stop-color="#ff5151"/><stop offset="0.3" stop-color="#ff6262"/><stop offset="0.35" stop-color="#ff7676"/><stop offset="0.4" stop-color="#ff8c8c"/><stop offset="0.45" stop-color="#ffa3a3"/><stop offset="0.5" stop-color="#ffb7b7"/><stop offset="0.55" stop-color="#ffc9c9"/><stop offset="0.6" stop-color="#ffd9d9"/><stop offset="0.65" stop-color="#ffe6e6"/><stop offset="0.7" stop-color="#fff3f3"/><stop offset="0.7485" stop-color="#ffffff"/><stop offset="0.75" stop-color="#ffffff"/><stop offset="0.8" stop-color="#f2f2ff"/><stop offset="0.85" stop-color="#e6e6ff"/><stop offset="0.9" stop-color="#dcdcff"/><stop offset="0.95" stop-color="#d5d5ff"/><stop offset="1" stop-color="#d2d2ff"/></linearGradient><linearGradient id="b30" gradientUnits="userSpaceOnUse" x1="993.40" x2="1199.80" y1="0" y2="0" spreadMethod="reflect"><stop offset="0" stop-color="#ff3636"/><stop offset="0.05" stop-color="#ff3737"/><stop offset="0.1" stop-color="#ff3939"/><stop offset="0.15" stop-color="#ff3d3d"/><stop offset="0.2" stop-color="#ff4646"/><stop offset="0.25" stop-color="#ff5353"/><stop offset="0.3" stop-color="#ff6565"/><stop offset="0.35" stop-color="#ff7b7b"/><stop offset="0.4" stop-color="#ff9292"/><stop offset="0.45" stop-color="#ffa9a9"/><stop offset="0.5" stop-color="#ffbfbf"/><stop offset="0.55" stop-color="#ffd1d1"/><stop offset="0.6" stop-color="#ffe0e0"/><stop offset="0.65" stop-color="#ffeded"/><stop offset="0.7" stop-color="#fffafa"/><stop offset="0.7194" stop-color="#ffffff"/><stop offset="0.75" stop-color="#f7f7ff"/><stop offset="0.8" stop-color="#eaeaff"/><stop offset="0.85" stop-color="#dcdcff"/><stop offset="0.9" stop-color="#d1d1ff"/><stop offset="0.95" stop-color="#c9c9ff"/><stop offset="1" stop-color="#c6c6ff"/></linearGradient><linearGradient id="b31" gradientUnits="userSpaceOnUse" x1="993.40" x2="1199.80" y1="0" y2="0" spreadMethod="reflect"><stop offset="0" stop-color="#ff3737"/><stop offset="0.05" stop-color="#ff3737"/><stop offset="0.1" stop-color="#ff3939"/><stop offset="0.15" stop-color="#ff3e3e"/><stop offset="0.2" stop-color="#ff4747"/><stop offset="0.25" stop-color="#ff5555"/><stop offset="0.3" stop-color="#ff6868"/><stop offset="0.35" stop-color="#ff7f7f"/><stop offset="0.4" stop-color="#ff9898"/><stop offset="0.45" stop-color="#ffb0b0"/><stop offset="0.5" stop-color="#ffc6c6"/><stop offset="0.55" stop-color="#ffd8d8"/><stop offset="0.6" stop-color="#ffe7e7"/><stop offset="0.65" stop-color="#fff4f4"/><stop offset="0.6919" stop-color="#ffffff"/><stop offset="0.7" stop-color="#fdfdff"/><stop offset="0.75" stop-color="#f0f0ff"/><stop offset="0.8" stop-color="#e1e1ff"/><stop offset="0.85" stop-color="#d3d3ff"/><stop offset="0.9" stop-color="#c6c6ff"/><stop offset="0.95" stop-color="#bebeff"/><stop offset="1" stop-color="#bbbbff"/></linearGradient><linearGradient id="b32" gradientUnits="userSpaceOnUse" x1="993.40" x2="1199.80" y1="0" y2="0" spreadMethod="reflect"><stop offset="0" stop-color="#ff3838"/><stop offset="0.05" stop-color="#ff3838"/><stop offset="0.1" stop-color="#ff3a3a"/><stop offset="0.15" stop-color="#ff3f3f"/><stop offset="0.2" stop-color="#ff4949"/><stop offset="0.25" stop-color="#ff5858"/><stop offset="0.3" stop-color="#ff6c6c"/><stop offset="0.35" stop-color="#ff8484"/><stop offset="0.4" stop-color="#ff9e9e"/><stop offset="0.45" stop-color="#ffb7b7"/><stop offset="0.5" stop-color="#ffcdcd"/><stop offset="0.55" stop-color="#ffdfdf"/><stop offset="0.6" stop-color="#ffeeee"/><stop offset="0.65" stop-color="#fffbfb"/><stop offset="0.665" stop-color="#ffffff"/><stop offset="0.7" stop-color="#f6f6ff"/><stop offset="0.75" stop-color="#e8e8ff"/><stop offset="0.8" stop-color="#d9d9ff"/><stop offset="0.85" stop-color="#cacaff"/><stop offset="0.9" stop-color="#bcbcff"/><stop offset="0.95" stop-color="#b3b3ff"/><stop offset="1" stop-color="#afafff"/></linearGradient><linearGradient id="b33" gradientUnits="userSpaceOnUse" x1="993.40" x2="1199.80" y1="0" y2="0" spreadMethod="reflect"><stop offset="0" stop-color="#ff3838"/><stop offset="0.05" stop-color="#ff3939"/><stop offset="0.1" stop-color="#ff3b3b"/><stop offset="0.15" stop-color="#ff4040"/><stop offset="0.2" stop-color="#ff4a4a"/><stop offset="0.25" stop-color="#ff5a5a"/><stop offset="0.3" stop-color="#ff6f6f"/><stop offset="0.35" stop-color="#ff8888"/><stop offset="0.4" stop-color="#ffa3a3"/><stop offset="0.45" stop-color="#ffbdbd"/><stop offset="0.5" stop-color="#ffd4d4"/><stop offset="0.55" stop-color="#ffe6e6"/><stop offset="0.6" stop-color="#fff5f5"/><stop offset="0.6386" stop-color="#ffffff"/><stop offset="0.65" stop-color="#fcfcff"/><stop offset="0.7" stop-color="#efefff"/><stop offset="0.75" stop-color="#e1e1ff"/><stop offset="0.8" stop-color="#d1d1ff"/><stop offset="0.85" stop-color="#c1c1ff"/><stop offset="0.9" stop-color="#b2b2ff"/><stop offset="0.95" stop-color="#a8a8ff"/><stop offset="1" stop-color="#a4a4ff"/></linearGradient><linearGradient id="b34" gradientUnits="userSpaceOnUse" x1="993.40" x2="1199.80" y1="0" y2="0" spreadMethod="reflect"><stop offset="0" stop-color="#ff3939"/><stop offset="0.05" stop-color="#ff3a3a"/><stop offset="0.1" stop-color="#ff3c3c"/><stop offset="0.15" stop-color="#ff4242"/><stop offset="0.2" stop-color="#ff4c4c"/><stop offset="0.25" stop-color="#ff5c5c"/><stop offset="0.3" stop-color="#ff7373"/><stop offset="0.35" stop-color="#ff8d8d"/><stop offset="0.4" stop-color="#ffa9a9"/><stop offset="0.45" stop-color="#ffc3c3"/><stop offset="0.5" stop-color="#ffdada"/><stop offset="0.55" stop-color="#ffeded"/><stop offset="0.6" stop-color="#fffcfc"/><stop offset="0.6132" stop-color="#ffffff"/><stop offset="0.65" stop-color="#f6f6ff"/><stop offset="0.7" stop-color="#e9e9ff"/><stop offset="0.75" stop-color="#dadaff"/><stop offset="0.8" stop-color="#c9c9ff"/><stop offset="0.85" stop-color="#b8b8ff"/><stop offset="0.9" stop-color="#a8a8ff"/><stop offset="0.95" stop-color="#9d9dff"/><stop offset="1" stop-color="#9999ff"/></linearGradient><linearGradient id="b35" gradientUnits="userSpaceOnUse" x1="993.40" x2="1199.80" y1="0" y2="0" spreadMethod="reflect"><stop offset="0" stop-color="#ff3a3a"/><stop offset="0.05" stop-color="#ff3a3a"/><stop offset="0.1" stop-color="#ff3d3d"/><stop offset="0.15" stop-color="#ff4343"/><stop offset="0.2" stop-color="#ff4e4e"/><stop offset="0.25" stop-color="#ff5f5f"/><stop offset="0.3" stop-color="#ff7676"/><stop offset="0.35" stop-color="#ff9191"/><stop offset="0.4" stop-color="#ffaeae"/><stop offset="0.45" stop-color="#ffc9c9"/><stop offset="0.5" stop-color="#ffe0e0"/><stop offset="0.55" stop-color="#fff3f3"/><stop offset="0.5897" stop-color="#ffffff"/><stop offset="0.6" stop-color="#fcfcff"/><stop offset="0.65" stop-color="#efefff"/><stop offset="0.7" stop-color="#e2e2ff"/><stop offset="0.75" stop-color="#d3d3ff"/><stop offset="0.8" stop-color="#c2c2ff"/><stop offset="0.85" stop-color="#afafff"/><stop offset="0.9" stop-color="#9f9fff"/><stop offset="0.95" stop-color="#9393ff"/><stop offset="1" stop-color="#8f8fff"/></linearGradient><linearGradient id="b36" gradientUnits="userSpaceOnUse" x1="993.40" x2="1199.80" y1="0" y2="0" spreadMethod="reflect"><stop offset="0" stop-color="#ff3a3a"/><stop offset="0.05" stop-color="#ff3b3b"/><stop offset="0.1" stop-color="#ff3e3e"/><stop offset="0.15" stop-color="#ff4545"/><stop offset="0.2" stop-color="#ff5050"/><stop offset="0.25" stop-color="#ff6262"/><stop offset="0.3" stop-color="#ff7a7a"/><stop offset="0.35" stop-color="#ff9696"/><stop offset="0.4" stop-color="#ffb3b3"/><stop offset="0.45" stop-color="#ffcfcf"/><stop offset="0.5" stop-color="#ffe6e6"/><stop offset="0.55" stop-color="#fff9f9"/><stop offset="0.5688" stop-color="#ffffff"/><stop offset="0.6" stop-color="#f6f6ff"/><stop offset="0.65" stop-color="#e9e9ff"/><stop offset="0.7" stop-color="#dcdcff"/><stop offset="0.75" stop-color="#ccccff"/><stop offset="0.8" stop-color="#babaff"/><stop offset="0.85" stop-color="#a7a7ff"/><stop offset="0.9" stop-color="#9696ff"/><stop offset="0.95" stop-color="#8a8aff"/><stop offset="1" stop-color="#8686ff"/></linearGradient><linearGradient id="b37" gradientUnits="userSpaceOnUse" x1="993.40" x2="1199.80" y1="0" y2="0" spreadMethod="reflect"><stop offset="0" stop-color="#ff3b3b"/><stop offset="0.05" stop-color="#ff3c3c"/><stop offset="0.1" stop-color="#ff3f3f"/><stop offset="0.15" stop-color="#ff4646"/><stop offset="0.2" stop-color="#ff5353"/><stop offset="0.25" stop-color="#ff6565"/><stop offset="0.3" stop-color="#ff7e7e"/><stop offset="0.35" stop-color="#ff9b9b"/><stop offset="0.4" stop-color="#ffb8b8"/><stop offset="0.45" stop-color="#ffd4d4"/><stop offset="0.5" stop-color="#ffecec"/><stop offset="0.55" stop-color="#ffffff"/><stop offset="0.5509" stop-color="#ffffff"/><stop offset="0.6" stop-color="#f0f0ff"/><stop offset="0.65" stop-color="#e3e3ff"/><stop offset="0.7" stop-color="#d6d6ff"/><stop offset="0.75" stop-color="#c6c6ff"/><stop offset="0.8" stop-color="#b3b3ff"/><stop offset="0.85" stop-color="#9f9fff"/><stop offset="0.9" stop-color="#8e8eff"/><stop offset="0.95" stop-color="#8181ff"/><stop offset="1" stop-color="#7d7dff"/></linearGradient><linearGradient id="b38" gradientUnits="userSpaceOnUse" x1="993.40" x2="1199.80" y1="0" y2="0" spreadMethod="reflect"><stop offset="0" stop-color="#ff3b3b"/><stop offset="0.05" stop-color="#ff3c3c"/><stop offset="0.1" stop-color="#ff4040"/><stop offset="0.15" stop-color="#ff4848"/><stop offset="0.2" stop-color="#ff5555"/><stop offset="0.25" stop-color="#ff6969"/><stop offset="0.3" stop-color="#ff8282"/><stop offset="0.35" stop-color="#ff9f9f"/><stop offset="0.4" stop-color="#ffbdbd"/><stop offset="0.45" stop-color="#ffd9d9"/><stop offset="0.5" stop-color="#fff1f1"/><stop offset="0.5355" stop-color="#ffffff"/><stop offset="0.55" stop-color="#fafaff"/><stop offset="0.6" stop-color="#ebebff"/><stop offset="0.65" stop-color="#dedeff"/><stop offset="0.7" stop-color="#d0d0ff"/><stop offset="0.75" stop-color="#bfbfff"/><stop offset="0.8" stop-color="#acacff"/><stop offset="0.85" stop-color="#9898ff"/><stop offset="0.9" stop-color="#8686ff"/><stop offset="0.95" stop-color="#7a7aff"/><stop offset="1" stop-color="#7575ff"/></linearGradient><linearGradient id="b39" gradientUnits="userSpaceOnUse" x1="993.40" x2="1199.80" y1="0" y2="0" spreadMethod="reflect"><stop offset="0" stop-color="#ff3c3c"/><stop offset="0.05" stop-color="#ff3d3d"/><stop offset="0.1" stop-color="#ff4141"/><stop offset="0.15" stop-color="#ff4a4a"/><stop offset="0.2" stop-color="#ff5858"/><stop offset="0.25" stop-color="#ff6c6c"/><stop offset="0.3" stop-color="#ff8686"/><stop offset="0.35" stop-color="#ffa4a4"/><stop offset="0.4" stop-color="#ffc2c2"/><stop offset="0.45" stop-color="#ffdede"/><stop offset="0.5" stop-color="#fff6f6"/><stop offset="0.5225" stop-color="#ffffff"/><stop offset="0.55" stop-color="#f5f5ff"/><stop offset="0.6" stop-color="#e6e6ff"/><stop offset="0.65" stop-color="#d8d8ff"/><stop offset="0.7" stop-color="#cacaff"/><stop offset="0.75" stop-color="#b9b9ff"/><stop offset="0.8" stop-color="#a6a6ff"/><stop offset="0.85" stop-color="#9191ff"/><stop offset="0.9" stop-color="#7f7fff"/><stop offset="0.95" stop-color="#7373ff"/><stop offset="1" stop-color="#6e6eff"/></linearGradient><linearGradient id="b40" gradientUnits="userSpaceOnUse" x1="993.40" x2="1199.80" y1="0" y2="0" spreadMethod="reflect"><stop offset="0" stop-color="#ff3c3c"/><stop offset="0.05" stop-color="#ff3d3d"/><stop offset="0.1" stop-color="#ff4242"/><stop offset="0.15" stop-color="#ff4c4c"/><stop offset="0.2" stop-color="#ff5b5b"/><stop offset="0.25" stop-color="#ff7070"/><stop offset="0.3" stop-color="#ff8a8a"/><stop offset="0.35" stop-color="#ffa8a8"/><stop offset="0.4" stop-color="#ffc6c6"/><stop offset="0.45" stop-color="#ffe2e2"/><stop offset="0.5" stop-color="#fffafa"/><stop offset="0.5113" stop-color="#ffffff"/><stop offset="0.55" stop-color="#f1f1ff"/><stop offset="0.6" stop-color="#e1e1ff"/><stop offset="0.65" stop-color="#d3d3ff"/><stop offset="0.7" stop-color="#c4c4ff"/><stop offset="0.75" stop-color="#b3b3ff"/><stop offset="0.8" stop-color="#9f9fff"/><stop offset="0.85" stop-color="#8b8bff"/><stop offset="0.9" stop-color="#7979ff"/><stop offset="0.95" stop-color="#6c6cff"/><stop offset="1" stop-color="#6868ff"/></linearGradient><linearGradient id="b41" gradientUnits="userSpaceOnUse" x1="993.40" x2="1199.80" y1="0" y2="0" spreadMethod="reflect"><stop offset="0" stop-color="#ff3c3c"/><stop offset="0.05" stop-color="#ff3e3e"/><stop offset="0.1" stop-color="#ff4343"/><stop offset="0.15" stop-color="#ff4e4e"/><stop offset="0.2" stop-color="#ff5e5e"/><stop offset="0.25" stop-color="#ff7474"/><stop offset="0.3" stop-color="#ff8e8e"/><stop offset="0.35" stop-color="#ffacac"/><stop offset="0.4" stop-color="#ffcbcb"/><stop offset="0.45" stop-color="#ffe6e6"/><stop offset="0.5" stop-color="#fffefe"/><stop offset="0.5018" stop-color="#ffffff"/><stop offset="0.55" stop-color="#ececff"/><stop offset="0.6" stop-color="#ddddff"/><stop offset="0.65" stop-color="#ceceff"/><stop offset="0.7" stop-color="#bfbfff"/><stop offset="0.75" stop-color="#adadff"/><stop offset="0.8" stop-color="#9a9aff"/><stop offset="0.85" stop-color="#8585ff"/><stop offset="0.9" stop-color="#7373ff"/><stop offset="0.95" stop-color="#6767ff"/><stop offset="1" stop-color="#6363ff"/></linearGradient><linearGradient id="b42" gradientUnits="userSpaceOnUse" x1="993.40" x2="1199.80" y1="0" y2="0" spreadMethod="reflect"><stop offset="0" stop-color="#ff3c3c"/><stop offset="0.05" stop-color="#ff3e3e"/><stop offset="0.1" stop-color="#ff4444"/><stop offset="0.15" stop-color="#ff5050"/><stop offset="0.2" stop-color="#ff6161"/><stop offset="0.25" stop-color="#ff7777"/><stop offset="0.3" stop-color="#ff9292"/><stop offset="0.35" stop-color="#ffb0b0"/><stop offset="0.4" stop-color="#ffcece"/><stop offset="0.45" stop-color="#ffeaea"/><stop offset="0.4936" stop-color="#ffffff"/><stop offset="0.5" stop-color="#fcfcff"/><stop offset="0.55" stop-color="#e9e9ff"/><stop offset="0.6" stop-color="#d8d8ff"/><stop offset="0.65" stop-color="#c9c9ff"/><stop offset="0.7" stop-color="#babaff"/><stop offset="0.75" stop-color="#a8a8ff"/><stop offset="0.8" stop-color="#9494ff"/><stop offset="0.85" stop-color="#8080ff"/><stop offset="0.9" stop-color="#6f6fff"/><stop offset="0.95" stop-color="#6262ff"/><stop offset="1" stop-color="#5e5eff"/></linearGradient><linearGradient id="b43" gradientUnits="userSpaceOnUse" x1="993.40" x2="1199.80" y1="0" y2="0" spreadMethod="reflect"><stop offset="0" stop-color="#ff3c3c"/><stop offset="0.05" stop-color="#ff3f3f"/><stop offset="0.1" stop-color="#ff4545"/><stop offset="0.15" stop-color="#ff5252"/><stop offset="0.2" stop-color="#ff6363"/><stop offset="0.25" stop-color="#ff7b7b"/><stop offset="0.3" stop-color="#ff9696"/><stop offset="0.35" stop-color="#ffb4b4"/><stop offset="0.4" stop-color="#ffd2d2"/><stop offset="0.45" stop-color="#ffeded"/><stop offset="0.4866" stop-color="#ffffff"/><stop offset="0.5" stop-color="#f9f9ff"/><stop offset="0.55" stop-color="#e5e5ff"/><stop offset="0.6" stop-color="#d5d5ff"/><stop offset="0.65" stop-color="#c5c5ff"/><stop offset="0.7" stop-color="#b5b5ff"/><stop offset="0.75" stop-color="#a3a3ff"/><stop offset="0.8" stop-color="#8f8fff"/><stop offset="0.85" stop-color="#7c7cff"/><stop offset="0.9" stop-color="#6a6aff"/><stop offset="0.95" stop-color="#5f5fff"/><stop offset="1" stop-color="#5a5aff"/></linearGradient><linearGradient id="b44" gradientUnits="userSpaceOnUse" x1="993.40" x2="1199.80" y1="0" y2="0" spreadMethod="reflect"><stop offset="0" stop-color="#ff3c3c"/><stop offset="0.05" stop-color="#ff3f3f"/><stop offset="0.1" stop-color="#ff4646"/><stop offset="0.15" stop-color="#ff5353"/><stop offset="0.2" stop-color="#ff6666"/><stop offset="0.25" stop-color="#ff7e7e"/><stop offset="0.3" stop-color="#ff9999"/><stop offset="0.35" stop-color="#ffb7b7"/><stop offset="0.4" stop-color="#ffd5d5"/><stop offset="0.45" stop-color="#fff0f0"/><stop offset="0.4807" stop-color="#ffffff"/><stop offset="0.5" stop-color="#f6f6ff"/><stop offset="0.55" stop-color="#e3e3ff"/><stop offset="0.6" stop-color="#d2d2ff"/><stop offset="0.65" stop-color="#c2c2ff"/><stop offset="0.7" stop-color="#b1b1ff"/><stop offset="0.75" stop-color="#9f9fff"/><stop offset="0.8" stop-color="#8b8bff"/><stop offset="0.85" stop-color="#7878ff"/><stop offset="0.9" stop-color="#6767ff"/><stop offset="0.95" stop-color="#5b5bff"/><stop offset="1" stop-color="#5757ff"/></linearGradient><linearGradient id="b45" gradientUnits="userSpaceOnUse" x1="993.40" x2="1199.80" y1="0" y2="0" spreadMethod="reflect"><stop offset="0" stop-color="#ff3c3c"/><stop offset="0.05" stop-color="#ff3f3f"/><stop offset="0.1" stop-color="#ff4747"/><stop offset="0.15" stop-color="#ff5555"/><stop offset="0.2" stop-color="#ff6868"/><stop offset="0.25" stop-color="#ff8181"/><stop offset="0.3" stop-color="#ff9c9c"/><stop offset="0.35" stop-color="#ffbaba"/><stop offset="0.4" stop-color="#ffd7d7"/><stop offset="0.45" stop-color="#fff2f2"/><stop offset="0.4758" stop-color="#ffffff"/><stop offset="0.5" stop-color="#f4f4ff"/><stop offset="0.55" stop-color="#e0e0ff"/><stop offset="0.6" stop-color="#cfcfff"/><stop offset="0.65" stop-color="#bebeff"/><stop offset="0.7" stop-color="#adadff"/><stop offset="0.75" stop-color="#9b9bff"/><stop offset="0.8" stop-color="#8888ff"/><stop offset="0.85" stop-color="#7575ff"/><stop offset="0.9" stop-color="#6464ff"/><stop offset="0.95" stop-color="#5959ff"/><stop offset="1" stop-color="#5555ff"/></linearGradient><linearGradient id="b46" gradientUnits="userSpaceOnUse" x1="993.40" x2="1199.80" y1="0" y2="0" spreadMethod="reflect"><stop offset="0" stop-color="#ff3c3c"/><stop offset="0.05" stop-color="#ff3f3f"/><stop offset="0.1" stop-color="#ff4848"/><stop offset="0.15" stop-color="#ff5656"/><stop offset="0.2" stop-color="#ff6a6a"/><stop offset="0.25" stop-color="#ff8383"/><stop offset="0.3" stop-color="#ff9f9f"/><stop offset="0.35" stop-color="#ffbdbd"/><stop offset="0.4" stop-color="#ffdada"/><stop offset="0.45" stop-color="#fff4f4"/><stop offset="0.4719" stop-color="#ffffff"/><stop offset="0.5" stop-color="#f2f2ff"/><stop offset="0.55" stop-color="#dedeff"/><stop offset="0.6" stop-color="#cdcdff"/><stop offset="0.65" stop-color="#bcbcff"/><stop offset="0.7" stop-color="#ababff"/><stop offset="0.75" stop-color="#9898ff"/><stop offset="0.8" stop-color="#8585ff"/><stop offset="0.85" stop-color="#7272ff"/><stop offset="0.9" stop-color="#6262ff"/><stop offset="0.95" stop-color="#5757ff"/><stop offset="1" stop-color="#5353ff"/></linearGradient><linearGradient id="b47" gradientUnits="userSpaceOnUse" x1="993.40" x2="1199.80" y1="0" y2="0" spreadMethod="reflect"><stop offset="0" stop-color="#ff3c3c"/><stop offset="0.05" stop-color="#ff3f3f"/><stop offset="0.1" stop-color="#ff4848"/><stop offset="0.15" stop-color="#ff5757"/><stop offset="0.2" stop-color="#ff6c6c"/><stop offset="0.25" stop-color="#ff8585"/><stop offset="0.3" stop-color="#ffa1a1"/><stop offset="0.35" stop-color="#ffbebe"/><stop offset="0.4" stop-color="#ffdbdb"/><stop offset="0.45" stop-color="#fff6f6"/><stop offset="0.469" stop-color="#ffffff"/><stop offset="0.5" stop-color="#f1f1ff"/><stop offset="0.55" stop-color="#ddddff"/><stop offset="0.6" stop-color="#cbcbff"/><stop offset="0.65" stop-color="#babaff"/><stop offset="0.7" stop-color="#a8a8ff"/><stop offset="0.75" stop-color="#9696ff"/><stop offset="0.8" stop-color="#8383ff"/><stop offset="0.85" stop-color="#7070ff"/><stop offset="0.9" stop-color="#6060ff"/><stop offset="0.95" stop-color="#5656ff"/><stop offset="1" stop-color="#5252ff"/></linearGradient><linearGradient id="b48" gradientUnits="userSpaceOnUse" x1="993.40" x2="1199.80" y1="0" y2="0" spreadMethod="reflect"><stop offset="0" stop-color="#ff3c3c"/><stop offset="0.05" stop-color="#ff4040"/><stop offset="0.1" stop-color="#ff4949"/><stop offset="0.15" stop-color="#ff5858"/><stop offset="0.2" stop-color="#ff6d6d"/><stop offset="0.25" stop-color="#ff8686"/><stop offset="0.3" stop-color="#ffa2a2"/><stop offset="0.35" stop-color="#ffc0c0"/><stop offset="0.4" stop-color="#ffdcdc"/><stop offset="0.45" stop-color="#fff7f7"/><stop offset="0.467" stop-color="#ffffff"/><stop offset="0.5" stop-color="#f0f0ff"/><stop offset="0.55" stop-color="#dcdcff"/><stop offset="0.6" stop-color="#cacaff"/><stop offset="0.65" stop-color="#b8b8ff"/><stop offset="0.7" stop-color="#a7a7ff"/><stop offset="0.75" stop-color="#9494ff"/><stop offset="0.8" stop-color="#8181ff"/><stop offset="0.85" stop-color="#6f6fff"/><stop offset="0.9" stop-color="#5f5fff"/><stop offset="0.95" stop-color="#5555ff"/><stop offset="1" stop-color="#5151ff"/></linearGradient><linearGradient id="b49" gradientUnits="userSpaceOnUse" x1="993.40" x2="1199.80" y1="0" y2="0" spreadMethod="reflect"><stop offset="0" stop-color="#ff3c3c"/><stop offset="0.05" stop-color="#ff4040"/><stop offset="0.1" stop-color="#ff4949"/><stop offset="0.15" stop-color="#ff5858"/><stop offset="0.2" stop-color="#ff6d6d"/><stop offset="0.25" stop-color="#ff8787"/><stop offset="0.3" stop-color="#ffa3a3"/><stop offset="0.35" stop-color="#ffc0c0"/><stop offset="0.4" stop-color="#ffdddd"/><stop offset="0.45" stop-color="#fff7f7"/><stop offset="0.466" stop-color="#ffffff"/><stop offset="0.5" stop-color="#f0f0ff"/><stop offset="0.55" stop-color="#dbdbff"/><stop offset="0.6" stop-color="#c9c9ff"/><stop offset="0.65" stop-color="#b8b8ff"/><stop offset="0.7" stop-color="#a6a6ff"/><stop offset="0.75" stop-color="#9393ff"/><stop offset="0.8" stop-color="#8080ff"/><stop offset="0.85" stop-color="#6e6eff"/><stop offset="0.9" stop-color="#5f5fff"/><stop offset="0.95" stop-color="#5454ff"/><stop offset="1" stop-color="#5151ff"/></linearGradient><linearGradient id="c0" gradientUnits="userSpaceOnUse" x1="371.85" x2="578.60" y1="0" y2="0" spreadMethod="reflect"><stop offset="0" stop-color="#ff5353"/><stop offset="0.05" stop-color="#ff5050"/><stop offset="0.1" stop-color="#ff4646"/><stop offset="0.15" stop-color="#ff3838"/><stop offset="0.2" stop-color="#ff2b2b"/><stop offset="0.25" stop-color="#ff2222"/><stop offset="0.3" stop-color="#ff2121"/><stop offset="0.35" stop-color="#ff2828"/><stop offset="0.4" stop-color="#ff3737"/><stop offset="0.45" stop-color="#ff4c4c"/><stop offset="0.5" stop-color="#ff6666"/><stop offset="0.55" stop-color="#ff8181"/><stop offset="0.6" stop-color="#ff9a9a"/><stop offset="0.65" stop-color="#ffb1b1"/><stop offset="0.7" stop-color="#ffc5c5"/><stop offset="0.75" stop-color="#ffd6d6"/><stop offset="0.8" stop-color="#ffe4e4"/><stop offset="0.85" stop-color="#fff0f0"/><stop offset="0.9" stop-color="#fff8f8"/><stop offset="0.95" stop-color="#fffdfd"/><stop offset="1" stop-color="#ffffff"/></linearGradient><linearGradient id="c1" gradientUnits="userSpaceOnUse" x1="371.85" x2="578.60" y1="0" y2="0" spreadMethod="reflect"><stop offset="0" stop-color="#ff5252"/><stop offset="0.05" stop-color="#ff4f4f"/><stop offset="0.1" stop-color="#ff4545"/><stop offset="0.15" stop-color="#ff3838"/><stop offset="0.2" stop-color="#ff2b2b"/><stop offset="0.25" stop-color="#ff2323"/><stop offset="0.3" stop-color="#ff2121"/><stop offset="0.35" stop-color="#ff2828"/><stop offset="0.4" stop-color="#ff3838"/><stop offset="0.45" stop-color="#ff4d4d"/><stop offset="0.5" stop-color="#ff6767"/><stop offset="0.55" stop-color="#ff8181"/><stop offset="0.6" stop-color="#ff9b9b"/><stop offset="0.65" stop-color="#ffb2b2"/><stop offset="0.7" stop-color="#ffc6c6"/><stop offset="0.75" stop-color="#ffd7d7"/><stop offset="0.8" stop-color="#ffe5e5"/><stop offset="0.85" stop-color="#fff0f0"/><stop offset="0.9" stop-color="#fff9f9"/><stop offset="0.95" stop-color="#fffefe"/><stop offset="1" stop-color="#fefeff"/></linearGradient><linearGradient id="c2" gradientUnits="userSpaceOnUse" x1="371.85" x2="578.60" y1="0" y2="0" spreadMethod="reflect"><stop offset="0" stop-color="#ff5050"/><stop offset="0.05" stop-color="#ff4d4d"/><stop offset="0.1" stop-color="#ff4444"/><stop offset="0.15" stop-color="#ff3737"/><stop offset="0.2" stop-color="#ff2b2b"/><stop offset="0.25" stop-color="#ff2323"/><stop offset="0.3" stop-color="#ff2222"/><stop offset="0.35" stop-color="#ff2a2a"/><stop offset="0.4" stop-color="#ff3939"/><stop offset="0.45" stop-color="#ff4f4f"/><stop offset="0.5" stop-color="#ff6969"/><stop offset="0.55" stop-color="#ff8383"/><stop offset="0.6" stop-color="#ff9d9d"/><stop offset="0.65" stop-color="#ffb4b4"/><stop offset="0.7" stop-color="#ffc7c7"/><stop offset="0.75" stop-color="#ffd8d8"/><stop offset="0.8" stop-color="#ffe6e6"/><stop offset="0.85" stop-color="#fff1f1"/><stop offset="0.9" stop-color="#fffafa"/><stop offset="0.95" stop-color="#ffffff"/><stop offset="1" stop-color="#fdfdff"/></linearGradient><linearGradient id="c3" gradientUnits="userSpaceOnUse" x1="371.85" x2="578.60" y1="0" y2="0" spreadMethod="reflect"><stop offset="0" stop-color="#ff4e4e"/><stop offset="0.05" stop-color="#ff4a4a"/><stop offset="0.1" stop-color="#ff4141"/><stop offset="0.15" stop-color="#ff3535"/><stop offset="0.2" stop-color="#ff2a2a"/><stop offset="0.25" stop-color="#ff2323"/><stop offset="0.3" stop-color="#ff2323"/><stop offset="0.35" stop-color="#ff2c2c"/><stop offset="0.4" stop-color="#ff3c3c"/><stop offset="0.45" stop-color="#ff5252"/><stop offset="0.5" stop-color="#ff6b6b"/><stop offset="0.55" stop-color="#ff8686"/><stop offset="0.6" stop-color="#ff9f9f"/><stop offset="0.65" stop-color="#ffb6b6"/><stop offset="0.7" stop-color="#ffc9c9"/><stop offset="0.75" stop-color="#ffdada"/><stop offset="0.8" stop-color="#ffe8e8"/><stop offset="0.85" stop-color="#fff3f3"/><stop offset="0.9" stop-color="#fffbfb"/><stop offset="0.93" stop-color="#ffffff"/><stop offset="0.95" stop-color="#fdfdff"/><stop offset="1" stop-color="#fcfcff"/></linearGradient><linearGradient id="c4" gradientUnits="userSpaceOnUse" x1="371.85" x2="578.60" y1="0" y2="0" spreadMethod="reflect"><stop offset="0" stop-color="#ff4a4a"/><stop offset="0.05" stop-color="#ff4747"/><stop offset="0.1" stop-color="#ff3f3f"/><stop offset="0.15" stop-color="#ff3434"/><stop offset="0.2" stop-color="#ff2a2a"/><stop offset="0.25" stop-color="#ff2424"/><stop offset="0.3" stop-color="#ff2525"/><stop offset="0.35" stop-color="#ff2e2e"/><stop offset="0.4" stop-color="#ff3f3f"/><stop offset="0.45" stop-color="#ff5555"/><stop offset="0.5" stop-color="#ff6f6f"/><stop offset="0.55" stop-color="#ff8989"/><stop offset="0.6" stop-color="#ffa2a2"/><stop offset="0.65" stop-color="#ffb9b9"/><stop offset="0.7" stop-color="#ffcccc"/><stop offset="0.75" stop-color="#ffdcdc"/><stop offset="0.8" stop-color="#ffeaea"/><stop offset="0.85" stop-color="#fff5f5"/><stop offset="0.9" stop-color="#fffefe"/><stop offset="0.95" stop-color="#fbfbff"/><stop offset="1" stop-color="#f9f9ff"/></linearGradient><linearGradient id="c5" gradientUnits="userSpaceOnUse" x1="371.85" x2="578.60" y1="0" y2="0" spreadMethod="reflect"><stop offset="0" stop-color="#ff4646"/><stop offset="0.05" stop-color="#ff4343"/><stop offset="0.1" stop-color="#ff3c3c"/><stop offset="0.15" stop-color="#ff3232"/><stop offset="0.2" stop-color="#ff2929"/><stop offset="0.25" stop-color="#ff2525"/><stop offset="0.3" stop-color="#ff2727"/><stop offset="0.35" stop-color="#ff3131"/><stop offset="0.4" stop-color="#ff4343"/><stop offset="0.45" stop-color="#ff5a5a"/><stop offset="0.5" stop-color="#ff7373"/><stop offset="0.55" stop-color="#ff8d8d"/><stop offset="0.6" stop-color="#ffa6a6"/><stop offset="0.65" stop-color="#ffbcbc"/><stop offset="0.7" stop-color="#ffcfcf"/><stop offset="0.75" stop-color="#ffdfdf"/><stop offset="0.8" stop-color="#ffeded"/><stop offset="0.85" stop-color="#fff8f8"/><stop offset="0.9" stop-color="#fefeff"/><stop offset="0.95" stop-color="#f8f8ff"/><stop offset="1" stop-color="#f7f7ff"/></linearGradient><linearGradient id="c6" gradientUnits="userSpaceOnUse" x1="371.85" x2="578.60" y1="0" y2="0" spreadMethod="reflect"><stop offset="0" stop-color="#ff4242"/><stop offset="0.05" stop-color="#ff3f3f"/><stop offset="0.1" stop-color="#ff3939"/><stop offset="0.15" stop-color="#ff3030"/><stop offset="0.2" stop-color="#ff2929"/><stop offset="0.25" stop-color="#ff2626"/><stop offset="0.3" stop-color="#ff2a2a"/><stop offset="0.35" stop-color="#ff3535"/><stop offset="0.4" stop-color="#ff4747"/><stop offset="0.45" stop-color="#ff5e5e"/><stop offset="0.5" stop-color="#ff7878"/><stop offset="0.55" stop-color="#ff9292"/><stop offset="0.6" stop-color="#ffaaaa"/><stop offset="0.65" stop-color="#ffc0c0"/><stop offset="0.7" stop-color="#ffd3d3"/><stop offset="0.75" stop-color="#ffe3e3"/><stop offset="0.8" stop-color="#fff0f0"/><stop offset="0.85" stop-color="#fffbfb"/><stop offset="0.9" stop-color="#fafaff"/><stop offset="0.95" stop-color="#f5f5ff"/><stop offset="1" stop-color="#f3f3ff"/></linearGradient><linearGradient id="c7" gradientUnits="userSpaceOnUse" x1="371.85" x2="578.60" y1="0" y2="0" spreadMethod="reflect"><stop offset="0" stop-color="#ff3d3d"/><stop offset="0.05" stop-color="#ff3b3b"/><stop offset="0.1" stop-color="#ff3636"/><stop offset="0.15" stop-color="#ff2e2e"/><stop offset="0.2" stop-color="#ff2929"/><stop offset="0.25" stop-color="#ff2828"/><stop offset="0.3" stop-color="#ff2d2d"/><stop offset="0.35" stop-color="#ff3a3a"/><stop offset="0.4" stop-color="#ff4d4d"/><stop offset="0.45" stop-color="#ff6464"/><stop offset="0.5" stop-color="#ff7e7e"/><stop offset="0.55" stop-color="#ff9797"/><stop offset="0.6" stop-color="#ffafaf"/><stop offset="0.65" stop-color="#ffc5c5"/><stop offset="0.7" stop-color="#ffd7d7"/><stop offset="0.75" stop-color="#ffe7e7"/><stop offset="0.8" stop-color="#fff4f4"/><stop offset="0.85" stop-color="#ffffff"/><stop offset="0.9" stop-color="#f7f7ff"/><stop offset="0.95" stop-color="#f1f1ff"/><stop offset="1" stop-color="#f0f0ff"/></linearGradient><linearGradient id="c8" gradientUnits="userSpaceOnUse" x1="371.85" x2="578.60" y1="0" y2="0" spreadMethod="reflect"><stop offset="0" stop-color="#ff3939"/><stop offset="0.05" stop-color="#ff3737"/><stop offset="0.1" stop-color="#ff3333"/><stop offset="0.15" stop-color="#ff2d2d"/><stop offset="0.2" stop-color="#ff2929"/><stop offset="0.25" stop-color="#ff2a2a"/><stop offset="0.3" stop-color="#ff3131"/><stop offset="0.35" stop-color="#ff3f3f"/><stop offset="0.4" stop-color="#ff5353"/><stop offset="0.45" stop-color="#ff6a6a"/><stop offset="0.5" stop-color="#ff8484"/><stop offset="0.55" stop-color="#ff9d9d"/><stop offset="0.6" stop-color="#ffb5b5"/><stop offset="0.65" stop-color="#ffc9c9"/><stop offset="0.7" stop-color="#ffdbdb"/><stop offset="0.75" stop-color="#ffebeb"/><stop offset="0.8" stop-color="#fff8f8"/><stop offset="0.83" stop-color="#ffffff"/><stop offset="0.85" stop-color="#fbfbff"/><stop offset="0.9" stop-color="#f3f3ff"/><stop offset="0.95" stop-color="#ededff"/><stop offset="1" stop-color="#ebebff"/></linearGradient><linearGradient id="c9" gradientUnits="userSpaceOnUse" x1="371.85" x2="578.60" y1="0" y2="0" spreadMethod="reflect"><stop offset="0" stop-color="#ff3535"/><stop offset="0.05" stop-color="#ff3434"/><stop offset="0.1" stop-color="#ff3030"/><stop offset="0.15" stop-color="#ff2c2c"/><stop offset="0.2" stop-color="#ff2a2a"/><stop offset="0.25" stop-color="#ff2d2d"/><stop offset="0.3" stop-color="#ff3535"/><stop offset="0.35" stop-color="#ff4444"/><stop offset="0.4" stop-color="#ff5959"/><stop offset="0.45" stop-color="#ff7171"/><stop offset="0.5" stop-color="#ff8b8b"/><stop offset="0.55" stop-color="#ffa3a3"/><stop offset="0.6" stop-color="#ffbaba"/><stop offset="0.65" stop-color="#ffcfcf"/><stop offset="0.7" stop-color="#ffe0e0"/><stop offset="0.75" stop-color="#fff0f0"/><stop offset="0.8" stop-color="#fffdfd"/><stop offset="0.85" stop-color="#f6f6ff"/><stop offset="0.9" stop-color="#eeeeff"/><stop offset="0.95" stop-color="#e9e9ff"/><stop offset="1" stop-color="#e7e7ff"/></linearGradient><linearGradient id="c10" gradientUnits="userSpaceOnUse" x1="371.85" x2="578.60" y1="0" y2="0" spreadMethod="reflect"><stop offset="0" stop-color="#ff3232"/><stop offset="0.05" stop-color="#ff3131"/><stop offset="0.1" stop-color="#ff2e2e"/><stop offset="0.15" stop-color="#ff2c2c"/><stop offset="0.2" stop-color="#ff2c2c"/><stop offset="0.25" stop-color="#ff3030"/><stop offset="0.3" stop-color="#ff3b3b"/><stop offset="0.35" stop-color="#ff4b4b"/><stop offset="0.4" stop-color="#ff6060"/><stop offset="0.45" stop-color="#ff7878"/><stop offset="0.5" stop-color="#ff9191"/><stop offset="0.55" stop-color="#ffaaaa"/><stop offset="0.6" stop-color="#ffc0c0"/><stop offset="0.65" stop-color="#ffd4d4"/><stop offset="0.7" stop-color="#ffe5e5"/><stop offset="0.75" stop-color="#fff4f4"/><stop offset="0.8" stop-color="#fdfdff"/><stop offset="0.85" stop-color="#f2f2ff"/><stop offset="0.9" stop-color="#e9e9ff"/><stop offset="0.95" stop-color="#e4e4ff"/><stop offset="1" stop-color="#e2e2ff"/></linearGradient><linearGradient id="c11" gradientUnits="userSpaceOnUse" x1="371.85" x2="578.60" y1="0" y2="0" spreadMethod="reflect"><stop offset="0" stop-color="#ff2f2f"/><stop offset="0.05" stop-color="#ff2e2e"/><stop offset="0.1" stop-color="#ff2d2d"/><stop offset="0.15" stop-color="#ff2c2c"/><stop offset="0.2" stop-color="#ff2e2e"/><stop offset="0.25" stop-color="#ff3434"/><stop offset="0.3" stop-color="#ff4040"/><stop offset="0.35" stop-color="#ff5252"/><stop offset="0.4" stop-color="#ff6767"/><stop offset="0.45" stop-color="#ff8080"/><stop offset="0.5" stop-color="#ff9999"/><stop offset="0.55" stop-color="#ffb1b1"/><stop offset="0.6" stop-color="#ffc7c7"/><stop offset="0.65" stop-color="#ffdada"/><stop offset="0.7" stop-color="#ffebeb"/><stop offset="0.75" stop-color="#fffafa"/><stop offset="0.8" stop-color="#f7f7ff"/><stop offset="0.85" stop-color="#ececff"/><stop offset="0.9" stop-color="#e4e4ff"/><stop offset="0.95" stop-color="#dedeff"/><stop offset="1" stop-color="#dcdcff"/></linearGradient><linearGradient id="c12" gradientUnits="userSpaceOnUse" x1="371.85" x2="578.60" y1="0" y2="0" spreadMethod="reflect"><stop offset="0" stop-color="#ff2d2d"/><stop offset="0.05" stop-color="#ff2d2d"/><stop offset="0.1" stop-color="#ff2c2c"/><stop offset="0.15" stop-color="#ff2d2d"/><stop offset="0.2" stop-color="#ff3131"/><stop offset="0.25" stop-color="#ff3939"/><stop offset="0.3" stop-color="#ff4646"/><stop offset="0.35" stop-color="#ff5959"/><stop offset="0.4" stop-color="#ff6f6f"/><stop offset="0.45" stop-color="#ff8787"/><stop offset="0.5" stop-color="#ffa0a0"/><stop offset="0.55" stop-color="#ffb8b8"/><stop offset="0.6" stop-color="#ffcdcd"/><stop offset="0.65" stop-color="#ffe0e0"/><stop offset="0.7" stop-color="#fff0f0"/><stop offset="0.75" stop-color="#ffffff"/><stop offset="0.8" stop-color="#f2f2ff"/><stop offset="0.85" stop-color="#e7e7ff"/><stop offset="0.9" stop-color="#dedeff"/><stop offset="0.95" stop-color="#d8d8ff"/><stop offset="1" stop-color="#d6d6ff"/></linearGradient><linearGradient id="c13" gradientUnits="userSpaceOnUse" x1="371.85" x2="578.60" y1="0" y2="0" spreadMethod="reflect"><stop offset="0" stop-color="#ff2c2c"/><stop offset="0.05" stop-color="#ff2d2d"/><stop offset="0.1" stop-color="#ff2d2d"/><stop offset="0.15" stop-color="#ff2f2f"/><stop offset="0.2" stop-color="#ff3535"/><stop offset="0.25" stop-color="#ff3f3f"/><stop offset="0.3" stop-color="#ff4d4d"/><stop offset="0.35" stop-color="#ff6060"/><stop offset="0.4" stop-color="#ff7777"/><stop offset="0.45" stop-color="#ff8f8f"/><stop offset="0.5" stop-color="#ffa8a8"/><stop offset="0.55" stop-color="#ffbfbf"/><stop offset="0.6" stop-color="#ffd3d3"/><stop offset="0.65" stop-color="#ffe6e6"/><stop offset="0.7" stop-color="#fff6f6"/><stop offset="0.75" stop-color="#f9f9ff"/><stop offset="0.8" stop-color="#ececff"/><stop offset="0.85" stop-color="#e1e1ff"/><stop offset="0.9" stop-color="#d8d8ff"/><stop offset="0.95" stop-color="#d2d2ff"/><stop offset="1" stop-color="#d0d0ff"/></linearGradient><linearGradient id="c14" gradientUnits="userSpaceOnUse" x1="371.85" x2="578.60" y1="0" y2="0" spreadMethod="reflect"><stop offset="0" stop-color="#ff2d2d"/><stop offset="0.05" stop-color="#ff2d2d"/><stop offset="0.1" stop-color="#ff2f2f"/><stop offset="0.15" stop-color="#ff3333"/><stop offset="0.2" stop-color="#ff3a3a"/><stop offset="0.25" stop-color="#ff4545"/><stop offset="0.3" stop-color="#ff5555"/><stop offset="0.35" stop-color="#ff6969"/><stop offset="0.4" stop-color="#ff7f7f"/><stop offset="0.45" stop-color="#ff9898"/><stop offset="0.5" stop-color="#ffafaf"/><stop offset="0.55" stop-color="#ffc6c6"/><stop offset="0.6" stop-color="#ffdada"/><stop offset="0.65" stop-color="#ffecec"/><stop offset="0.7" stop-color="#fffcfc"/><stop offset="0.75" stop-color="#f3f3ff"/><stop offset="0.8" stop-color="#e6e6ff"/><stop offset="0.85" stop-color="#dadaff"/><stop offset="0.9" stop-color="#d1d1ff"/><stop offset="0.95" stop-color="#cbcbff"/><stop offset="1" stop-color="#c9c9ff"/></linearGradient><linearGradient id="c15" gradientUnits="userSpaceOnUse" x1="371.85" x2="578.60" y1="0" y2="0" spreadMethod="reflect"><stop offset="0" stop-color="#ff2f2f"/><stop offset="0.05" stop-color="#ff2f2f"/><stop offset="0.1" stop-color="#ff3232"/><stop offset="0.15" stop-color="#ff3737"/><stop offset="0.2" stop-color="#ff3f3f"/><stop offset="0.25" stop-color="#ff4c4c"/><stop offset="0.3" stop-color="#ff5d5d"/><stop offset="0.35" stop-color="#ff7171"/><stop offset="0.4" stop-color="#ff8888"/><stop offset="0.45" stop-color="#ffa0a0"/><stop offset="0.5" stop-color="#ffb7b7"/><stop offset="0.55" stop-color="#ffcdcd"/><stop offset="0.6" stop-color="#ffe0e0"/><stop offset="0.65" stop-color="#fff2f2"/><stop offset="0.69" stop-color="#ffffff"/><stop offset="0.7" stop-color="#fcfcff"/><stop offset="0.75" stop-color="#ededff"/><stop offset="0.8" stop-color="#dfdfff"/><stop offset="0.85" stop-color="#d3d3ff"/><stop offset="0.9" stop-color="#cacaff"/><stop offset="0.95" stop-color="#c4c4ff"/><stop offset="1" stop-color="#c1c1ff"/></linearGradient><linearGradient id="c16" gradientUnits="userSpaceOnUse" x1="371.85" x2="578.60" y1="0" y2="0" spreadMethod="reflect"><stop offset="0" stop-color="#ff3131"/><stop offset="0.05" stop-color="#ff3232"/><stop offset="0.1" stop-color="#ff3636"/><stop offset="0.15" stop-color="#ff3c3c"/><stop offset="0.2" stop-color="#ff4545"/><stop offset="0.25" stop-color="#ff5353"/><stop offset="0.3" stop-color="#ff6565"/><stop offset="0.35" stop-color="#ff7a7a"/><stop offset="0.4" stop-color="#ff9191"/><stop offset="0.45" stop-color="#ffa8a8"/><stop offset="0.5" stop-color="#ffbfbf"/><stop offset="0.55" stop-color="#ffd4d4"/><stop offset="0.6" stop-color="#ffe7e7"/><stop offset="0.65" stop-color="#fff8f8"/><stop offset="0.67" stop-color="#ffffff"/><stop offset="0.7" stop-color="#f6f6ff"/><stop offset="0.75" stop-color="#e7e7ff"/><stop offset="0.8" stop-color="#d9d9ff"/><stop offset="0.85" stop-color="#ccccff"/><stop offset="0.9" stop-color="#c2c2ff"/><stop offset="0.95" stop-color="#bcbcff"/><stop offset="1" stop-color="#babaff"/></linearGradient><linearGradient id="c17" gradientUnits="userSpaceOnUse" x1="371.85" x2="578.60" y1="0" y2="0" spreadMethod="reflect"><stop offset="0" stop-color="#ff3636"/><stop offset="0.05" stop-color="#ff3737"/><stop offset="0.1" stop-color="#ff3b3b"/><stop offset="0.15" stop-color="#ff4242"/><stop offset="0.2" stop-color="#ff4d4d"/><stop offset="0.25" stop-color="#ff5b5b"/><stop offset="0.3" stop-color="#ff6e6e"/><stop offset="0.35" stop-color="#ff8383"/><stop offset="0.4" stop-color="#ff9999"/><stop offset="0.45" stop-color="#ffb0b0"/><stop offset="0.5" stop-color="#ffc7c7"/><stop offset="0.55" stop-color="#ffdbdb"/><stop offset="0.6" stop-color="#ffeeee"/><stop offset="0.65" stop-color="#ffffff"/><stop offset="0.7" stop-color="#efefff"/><stop offset="0.75" stop-color="#e0e0ff"/><stop offset="0.8" stop-color="#d1d1ff"/><stop offset="0.85" stop-color="#c5c5ff"/><stop offset="0.9" stop-color="#babaff"/><stop offset="0.95" stop-color="#b4b4ff"/><stop offset="1" stop-color="#b1b1ff"/></linearGradient><linearGradient id="c18" gradientUnits="userSpaceOnUse" x1="371.85" x2="578.60" y1="0" y2="0" spreadMethod="reflect"><stop offset="0" stop-color="#ff3b3b"/><stop offset="0.05" stop-color="#ff3c3c"/><stop offset="0.1" stop-color="#ff4141"/><stop offset="0.15" stop-color="#ff4949"/><stop offset="0.2" stop-color="#ff5454"/><stop offset="0.25" stop-color="#ff6464"/><stop offset="0.3" stop-color="#ff7777"/><stop offset="0.35" stop-color="#ff8c8c"/><stop offset="0.4" stop-color="#ffa2a2"/><stop offset="0.45" stop-color="#ffb9b9"/><stop offset="0.5" stop-color="#ffcece"/><stop offset="0.55" stop-color="#ffe2e2"/><stop offset="0.6" stop-color="#fff5f5"/><stop offset="0.65" stop-color="#f8f8ff"/><stop offset="0.7" stop-color="#e8e8ff"/><stop offset="0.75" stop-color="#d8d8ff"/><stop offset="0.8" stop-color="#cacaff"/><stop offset="0.85" stop-color="#bcbcff"/><stop offset="0.9" stop-color="#b2b2ff"/><stop offset="0.95" stop-color="#ababff"/><stop offset="1" stop-color="#a8a8ff"/></linearGradient><linearGradient id="c19" gradientUnits="userSpaceOnUse" x1="371.85" x2="578.60" y1="0" y2="0" spreadMethod="reflect"><stop offset="0" stop-color="#ff4141"/><stop offset="0.05" stop-color="#ff4343"/><stop offset="0.1" stop-color="#ff4848"/><stop offset="0.15" stop-color="#ff5151"/><stop offset="0.2" stop-color="#ff5d5d"/><stop offset="0.25" stop-color="#ff6d6d"/><stop offset="0.3" stop-color="#ff8080"/><stop offset="0.35" stop-color="#ff9595"/><stop offset="0.4" stop-color="#ffabab"/><stop offset="0.45" stop-color="#ffc1c1"/><stop offset="0.5" stop-color="#ffd6d6"/><stop offset="0.55" stop-color="#ffe9e9"/><stop offset="0.6" stop-color="#fffcfc"/><stop offset="0.65" stop-color="#f1f1ff"/><stop offset="0.7" stop-color="#e1e1ff"/><stop offset="0.75" stop-color="#d1d1ff"/><stop offset="0.8" stop-color="#c2c2ff"/><stop offset="0.85" stop-color="#b4b4ff"/><stop offset="0.9" stop-color="#a9a9ff"/><stop offset="0.95" stop-color="#a1a1ff"/><stop offset="1" stop-color="#9f9fff"/></linearGradient><linearGradient id="c20" gradientUnits="userSpaceOnUse" x1="371.85" x2="578.60" y1="0" y2="0" spreadMethod="reflect"><stop offset="0" stop-color="#ff4848"/><stop offset="0.05" stop-color="#ff4a4a"/><stop offset="0.1" stop-color="#ff5050"/><stop offset="0.15" stop-color="#ff5959"/><stop offset="0.2" stop-color="#ff6666"/><stop offset="0.25" stop-color="#ff7676"/><stop offset="0.3" stop-color="#ff8989"/><stop offset="0.35" stop-color="#ff9e9e"/><stop offset="0.4" stop-color="#ffb4b4"/><stop offset="0.45" stop-color="#ffc9c9"/><stop offset="0.5" stop-color="#ffdddd"/><stop offset="0.55" stop-color="#fff1f1"/><stop offset="0.59" stop-color="#ffffff"/><stop offset="0.6" stop-color="#fbfbff"/><stop offset="0.65" stop-color="#eaeaff"/><stop offset="0.7" stop-color="#d9d9ff"/><stop offset="0.75" stop-color="#c9c9ff"/><stop offset="0.8" stop-color="#b9b9ff"/><stop offset="0.85" stop-color="#ababff"/><stop offset="0.9" stop-color="#9f9fff"/><stop offset="0.95" stop-color="#9898ff"/><stop offset="1" stop-color="#9595ff"/></linearGradient><linearGradient id="c21" gradientUnits="userSpaceOnUse" x1="371.85" x2="578.60" y1="0" y2="0" spreadMethod="reflect"><stop offset="0" stop-color="#ff5050"/><stop offset="0.05" stop-color="#ff5252"/><stop offset="0.1" stop-color="#ff5858"/><stop offset="0.15" stop-color="#ff6262"/><stop offset="0.2" stop-color="#ff6f6f"/><stop offset="0.25" stop-color="#ff8080"/><stop offset="0.3" stop-color="#ff9393"/><stop offset="0.35" stop-color="#ffa7a7"/><stop offset="0.4" stop-color="#ffbcbc"/><stop offset="0.45" stop-color="#ffd1d1"/><stop offset="0.5" stop-color="#ffe5e5"/><stop offset="0.55" stop-color="#fff8f8"/><stop offset="0.6" stop-color="#f4f4ff"/><stop offset="0.65" stop-color="#e3e3ff"/><stop offset="0.7" stop-color="#d1d1ff"/><stop offset="0.75" stop-color="#c0c0ff"/><stop offset="0.8" stop-color="#b0b0ff"/><stop offset="0.85" stop-color="#a1a1ff"/><stop offset="0.9" stop-color="#9595ff"/><stop offset="0.95" stop-color="#8e8eff"/><stop offset="1" stop-color="#8b8bff"/></linearGradient><linearGradient id="c22" gradientUnits="userSpaceOnUse" x1="371.85" x2="578.60" y1="0" y2="0" spreadMethod="reflect"><stop offset="0" stop-color="#ff5959"/><stop offset="0.05" stop-color="#ff5b5b"/><stop offset="0.1" stop-color="#ff6161"/><stop offset="0.15" stop-color="#ff6b6b"/><stop offset="0.2" stop-color="#ff7979"/><stop offset="0.25" stop-color="#ff8989"/><stop offset="0.3" stop-color="#ff9c9c"/><stop offset="0.35" stop-color="#ffb0b0"/><stop offset="0.4" stop-color="#ffc5c5"/><stop offset="0.45" stop-color="#ffd9d9"/><stop offset="0.5" stop-color="#ffecec"/><stop offset="0.55" stop-color="#ffffff"/><stop offset="0.6" stop-color="#ededff"/><stop offset="0.65" stop-color="#dbdbff"/><stop offset="0.7" stop-color="#c9c9ff"/><stop offset="0.75" stop-color="#b8b8ff"/><stop offset="0.8" stop-color="#a7a7ff"/><stop offset="0.85" stop-color="#9797ff"/><stop offset="0.9" stop-color="#8b8bff"/><stop offset="0.95" stop-color="#8383ff"/><stop offset="1" stop-color="#8080ff"/></linearGradient><linearGradient id="c23" gradientUnits="userSpaceOnUse" x1="371.85" x2="578.60" y1="0" y2="0" spreadMethod="reflect"><stop offset="0" stop-color="#ff6262"/><stop offset="0.05" stop-color="#ff6464"/><stop offset="0.1" stop-color="#ff6a6a"/><stop offset="0.15" stop-color="#ff7575"/><stop offset="0.2" stop-color="#ff8282"/><stop offset="0.25" stop-color="#ff9393"/><stop offset="0.3" stop-color="#ffa5a5"/><stop offset="0.35" stop-color="#ffb9b9"/><stop offset="0.4" stop-color="#ffcdcd"/><stop offset="0.45" stop-color="#ffe1e1"/><stop offset="0.5" stop-color="#fff4f4"/><stop offset="0.55" stop-color="#f8f8ff"/><stop offset="0.6" stop-color="#e5e5ff"/><stop offset="0.65" stop-color="#d3d3ff"/><stop offset="0.7" stop-color="#c1c1ff"/><stop offset="0.75" stop-color="#aeaeff"/><stop offset="0.8" stop-color="#9d9dff"/><stop offset="0.85" stop-color="#8d8dff"/><stop offset="0.9" stop-color="#8181ff"/><stop offset="0.95" stop-color="#7979ff"/><stop offset="1" stop-color="#7676ff"/></linearGradient><linearGradient id="c24" gradientUnits="userSpaceOnUse" x1="371.85" x2="578.60" y1="0" y2="0" spreadMethod="reflect"><stop offset="0" stop-color="#ff6b6b"/><stop offset="0.05" stop-color="#ff6e6e"/><stop offset="0.1" stop-color="#ff7474"/><stop offset="0.15" stop-color="#ff7e7e"/><stop offset="0.2" stop-color="#ff8c8c"/><stop offset="0.25" stop-color="#ff9c9c"/><stop offset="0.3" stop-color="#ffaeae"/><stop offset="0.35" stop-color="#ffc2c2"/><stop offset="0.4" stop-color="#ffd5d5"/><stop offset="0.45" stop-color="#ffe8e8"/><stop offset="0.5" stop-color="#fffbfb"/><stop offset="0.55" stop-color="#f0f0ff"/><stop offset="0.6" stop-color="#dedeff"/><stop offset="0.65" stop-color="#cbcbff"/><stop offset="0.7" stop-color="#b8b8ff"/><stop offset="0.75" stop-color="#a5a5ff"/><stop offset="0.8" stop-color="#9393ff"/><stop offset="0.85" stop-color="#8383ff"/><stop offset="0.9" stop-color="#7676ff"/><stop offset="0.95" stop-color="#6e6eff"/><stop offset="1" stop-color="#6b6bff"/></linearGradient><linearGradient id="c25" gradientUnits="userSpaceOnUse" x1="371.85" x2="578.60" y1="0" y2="0" spreadMethod="reflect"><stop offset="0" stop-color="#ff7575"/><stop offset="0.05" stop-color="#ff7777"/><stop offset="0.1" stop-color="#ff7e7e"/><stop offset="0.15" stop-color="#ff8888"/><stop offset="0.2" stop-color="#ff9696"/><stop offset="0.25" stop-color="#ffa6a6"/><stop offset="0.3" stop-color="#ffb7b7"/><stop offset="0.35" stop-color="#ffcaca"/><stop offset="0.4" stop-color="#ffdddd"/><stop offset="0.45" stop-color="#fff0f0"/><stop offset="0.5" stop-color="#fbfbff"/><stop offset="0.55" stop-color="#e9e9ff"/><stop offset="0.6" stop-color="#d6d6ff"/><stop offset="0.65" stop-color="#c2c2ff"/><stop offset="0.7" stop-color="#afafff"/><stop offset="0.75" stop-color="#9b9bff"/><stop offset="0.8" stop-color="#8989ff"/><stop offset="0.85" stop-color="#7979ff"/><stop offset="0.9" stop-color="#6c6cff"/><stop offset="0.95" stop-color="#6363ff"/><stop offset="1" stop-color="#6161ff"/></linearGradient><linearGradient id="c26" gradientUnits="userSpaceOnUse" x1="371.85" x2="578.60" y1="0" y2="0" spreadMethod="reflect"><stop offset="0" stop-color="#ff7f7f"/><stop offset="0.05" stop-color="#ff8181"/><stop offset="0.1" stop-color="#ff8787"/><stop offset="0.15" stop-color="#ff9292"/><stop offset="0.2" stop-color="#ff9f9f"/><stop offset="0.25" stop-color="#ffafaf"/><stop offset="0.3" stop-color="#ffc0c0"/><stop offset="0.35" stop-color="#ffd2d2"/><stop offset="0.4" stop-color="#ffe5e5"/><stop offset="0.45" stop-color="#fff8f8"/><stop offset="0.47" stop-color="#ffffff"/><stop offset="0.5" stop-color="#f4f4ff"/><stop offset="0.55" stop-color="#e1e1ff"/><stop offset="0.6" stop-color="#cdcdff"/><stop offset="0.65" stop-color="#b9b9ff"/><stop offset="0.7" stop-color="#a5a5ff"/><stop offset="0.75" stop-color="#9191ff"/><stop offset="0.8" stop-color="#7f7fff"/><stop offset="0.85" stop-color="#6e6eff"/><stop offset="0.9" stop-color="#6161ff"/><stop offset="0.95" stop-color="#5959ff"/><stop offset="1" stop-color="#5656ff"/></linearGradient><linearGradient id="c27" gradientUnits="userSpaceOnUse" x1="371.85" x2="578.60" y1="0" y2="0" spreadMethod="reflect"><stop offset="0" stop-color="#ff8888"/><stop offset="0.05" stop-color="#ff8a8a"/><stop offset="0.1" stop-color="#ff9191"/><stop offset="0.15" stop-color="#ff9b9b"/><stop offset="0.2" stop-color="#ffa8a8"/><stop offset="0.25" stop-color="#ffb8b8"/><stop offset="0.3" stop-color="#ffc9c9"/><stop offset="0.35" stop-color="#ffdada"/><stop offset="0.4" stop-color="#ffecec"/><stop offset="0.45" stop-color="#ffffff"/><stop offset="0.45" stop-color="#ffffff"/><stop offset="0.5" stop-color="#ececff"/><stop offset="0.55" stop-color="#d9d9ff"/><stop offset="0.6" stop-color="#c5c5ff"/><stop offset="0.65" stop-color="#b0b0ff"/><stop offset="0.7" stop-color="#9c9cff"/><stop offset="0.75" stop-color="#8787ff"/><stop offset="0.8" stop-color="#7575ff"/><stop offset="0.85" stop-color="#6464ff"/><stop offset="0.9" stop-color="#5757ff"/><stop offset="0.95" stop-color="#4f4fff"/><stop offset="1" stop-color="#4c4cff"/></linearGradient><linearGradient id="c28" gradientUnits="userSpaceOnUse" x1="371.85" x2="578.60" y1="0" y2="0" spreadMethod="reflect"><stop offset="0" stop-color="#ff9191"/><stop offset="0.05" stop-color="#ff9494"/><stop offset="0.1" stop-color="#ff9a9a"/><stop offset="0.15" stop-color="#ffa4a4"/><stop offset="0.2" stop-color="#ffb1b1"/><stop offset="0.25" stop-color="#ffc0c0"/><stop offset="0.3" stop-color="#ffd1d1"/><stop offset="0.35" stop-color="#ffe2e2"/><stop offset="0.4" stop-color="#fff4f4"/><stop offset="0.43" stop-color="#ffffff"/><stop offset="0.45" stop-color="#f8f8ff"/><stop offset="0.5" stop-color="#e5e5ff"/><stop offset="0.55" stop-color="#d1d1ff"/><stop offset="0.6" stop-color="#bcbcff"/><stop offset="0.65" stop-color="#a7a7ff"/><stop offset="0.7" stop-color="#9292ff"/><stop offset="0.75" stop-color="#7e7eff"/><stop offset="0.8" stop-color="#6b6bff"/><stop offset="0.85" stop-color="#5a5aff"/><stop offset="0.9" stop-color="#4e4eff"/><stop offset="0.95" stop-color="#4646ff"/><stop offset="1" stop-color="#4343ff"/></linearGradient><linearGradient id="c29" gradientUnits="userSpaceOnUse" x1="371.85" x2="578.60" y1="0" y2="0" spreadMethod="reflect"><stop offset="0" stop-color="#ff9b9b"/><stop offset="0.05" stop-color="#ff9d9d"/><stop offset="0.1" stop-color="#ffa3a3"/><stop offset="0.15" stop-color="#ffadad"/><stop offset="0.2" stop-color="#ffbaba"/><stop offset="0.25" stop-color="#ffc8c8"/><stop offset="0.3" stop-color="#ffd9d9"/><stop offset="0.35" stop-color="#ffeaea"/><stop offset="0.4" stop-color="#fffbfb"/><stop offset="0.45" stop-color="#f0f0ff"/><stop offset="0.5" stop-color="#ddddff"/><stop offset="0.55" stop-color="#c9c9ff"/><stop offset="0.6" stop-color="#b4b4ff"/><stop offset="0.65" stop-color="#9e9eff"/><stop offset="0.7" stop-color="#8888ff"/><stop offset="0.75" stop-color="#7474ff"/><stop offset="0.8" stop-color="#6161ff"/><stop offset="0.85" stop-color="#5151ff"/><stop offset="0.9" stop-color="#4545ff"/><stop offset="0.95" stop-color="#3d3dff"/><stop offset="1" stop-color="#3b3bff"/></linearGradient><linearGradient id="c30" gradientUnits="userSpaceOnUse" x1="371.85" x2="578.60" y1="0" y2="0" spreadMethod="reflect"><stop offset="0" stop-color="#ffa3a3"/><stop offset="0.05" stop-color="#ffa5a5"/><stop offset="0.1" stop-color="#ffacac"/><stop offset="0.15" stop-color="#ffb5b5"/><stop offset="0.2" stop-color="#ffc2c2"/><stop offset="0.25" stop-color="#ffd0d0"/><stop offset="0.3" stop-color="#ffe0e0"/><stop offset="0.35" stop-color="#fff1f1"/><stop offset="0.4" stop-color="#fbfbff"/><stop offset="0.45" stop-color="#e9e9ff"/><stop offset="0.5" stop-color="#d5d5ff"/><stop offset="0.55" stop-color="#c0c0ff"/><stop offset="0.6" stop-color="#ababff"/><stop offset="0.65" stop-color="#9595ff"/><stop offset="0.7" stop-color="#7f7fff"/><stop offset="0.75" stop-color="#6a6aff"/><stop offset="0.8" stop-color="#5858ff"/><stop offset="0.85" stop-color="#4848ff"/><stop offset="0.9" stop-color="#3d3dff"/><stop offset="0.95" stop-color="#3636ff"/><stop offset="1" stop-color="#3333ff"/></linearGradient><linearGradient id="c31" gradientUnits="userSpaceOnUse" x1="371.85" x2="578.60" y1="0" y2="0" spreadMethod="reflect"><stop offset="0" stop-color="#ffacac"/><stop offset="0.05" stop-color="#ffaeae"/><stop offset="0.1" stop-color="#ffb4b4"/><stop offset="0.15" stop-color="#ffbdbd"/><stop offset="0.2" stop-color="#ffcaca"/><stop offset="0.25" stop-color="#ffd8d8"/><stop offset="0.3" stop-color="#ffe7e7"/><stop offset="0.35" stop-color="#fff8f8"/><stop offset="0.4" stop-color="#f4f4ff"/><stop offset="0.45" stop-color="#e2e2ff"/><stop offset="0.5" stop-color="#ceceff"/><stop offset="0.55" stop-color="#b8b8ff"/><stop offset="0.6" stop-color="#a2a2ff"/><stop offset="0.65" stop-color="#8c8cff"/><stop offset="0.7" stop-color="#7676ff"/><stop offset="0.75" stop-color="#6161ff"/><stop offset="0.8" stop-color="#4f4fff"/><stop offset="0.85" stop-color="#4141ff"/><stop offset="0.9" stop-color="#3636ff"/><stop offset="0.95" stop-color="#2f2fff"/><stop offset="1" stop-color="#2d2dff"/></linearGradient><linearGradient id="c32" gradientUnits="userSpaceOnUse" x1="371.85" x2="578.60" y1="0" y2="0" spreadMethod="reflect"><stop offset="0" stop-color="#ffb4b4"/><stop offset="0.05" stop-color="#ffb6b6"/><stop offset="0.1" stop-color="#ffbcbc"/><stop offset="0.15" stop-color="#ffc5c5"/><stop offset="0.2" stop-color="#ffd1d1"/><stop offset="0.25" stop-color="#ffdfdf"/><stop offset="0.3" stop-color="#ffeeee"/><stop offset="0.35" stop-color="#ffffff"/><stop offset="0.4" stop-color="#ededff"/><stop offset="0.45" stop-color="#dadaff"/><stop offset="0.5" stop-color="#c6c6ff"/><stop offset="0.55" stop-color="#b0b0ff"/><stop offset="0.6" stop-color="#9999ff"/><stop offset="0.65" stop-color="#8383ff"/><stop offset="0.7" stop-color="#6d6dff"/><stop offset="0.75" stop-color="#5959ff"/><stop offset="0.8" stop-color="#4848ff"/><stop offset="0.85" stop-color="#3a3aff"/><stop offset="0.9" stop-color="#3030ff"/><stop offset="0.95" stop-color="#2a2aff"/><stop offset="1" stop-color="#2828ff"/></linearGradient><linearGradient id="c33" gradientUnits="userSpaceOnUse" x1="371.85" x2="578.60" y1="0" y2="0" spreadMethod="reflect"><stop offset="0" stop-color="#ffbbbb"/><stop offset="0.05" stop-color="#ffbdbd"/><stop offset="0.1" stop-color="#ffc3c3"/><stop offset="0.15" stop-color="#ffcccc"/><stop offset="0.2" stop-color="#ffd8d8"/><stop offset="0.25" stop-color="#ffe6e6"/><stop offset="0.3" stop-color="#fff5f5"/><stop offset="0.33" stop-color="#ffffff"/><stop offset="0.35" stop-color="#f8f8ff"/><stop offset="0.4" stop-color="#e6e6ff"/><stop offset="0.45" stop-color="#d3d3ff"/><stop offset="0.5" stop-color="#bebeff"/><stop offset="0.55" stop-color="#a8a8ff"/><stop offset="0.6" stop-color="#9191ff"/><stop offset="0.65" stop-color="#7a7aff"/><stop offset="0.7" stop-color="#6464ff"/><stop offset="0.75" stop-color="#5151ff"/><stop offset="0.8" stop-color="#4141ff"/><stop offset="0.85" stop-color="#3434ff"/><stop offset="0.9" stop-color="#2b2bff"/><stop offset="0.95" stop-color="#2626ff"/><stop offset="1" stop-color="#2424ff"/></linearGradient><linearGradient id="c34" gradientUnits="userSpaceOnUse" x1="371.85" x2="578.60" y1="0" y2="0" spreadMethod="reflect"><stop offset="0" stop-color="#ffc2c2"/><stop offset="0.05" stop-color="#ffc4c4"/><stop offset="0.1" stop-color="#ffcaca"/><stop offset="0.15" stop-color="#ffd3d3"/><stop offset="0.2" stop-color="#ffdfdf"/><stop offset="0.25" stop-color="#ffeded"/><stop offset="0.3" stop-color="#fffcfc"/><stop offset="0.31" stop-color="#ffffff"/><stop offset="0.35" stop-color="#f2f2ff"/><stop offset="0.4" stop-color="#e0e0ff"/><stop offset="0.45" stop-color="#ccccff"/><stop offset="0.5" stop-color="#b7b7ff"/><stop offset="0.55" stop-color="#a0a0ff"/><stop offset="0.6" stop-color="#8888ff"/><stop offset="0.65" stop-color="#7272ff"/><stop offset="0.7" stop-color="#5c5cff"/><stop offset="0.75" stop-color="#4a4aff"/><stop offset="0.8" stop-color="#3b3bff"/><stop offset="0.85" stop-color="#2f2fff"/><stop offset="0.9" stop-color="#2727ff"/><stop offset="0.95" stop-color="#2323ff"/><stop offset="1" stop-color="#2121ff"/></linearGradient><linearGradient id="c35" gradientUnits="userSpaceOnUse" x1="371.85" x2="578.60" y1="0" y2="0" spreadMethod="reflect"><stop offset="0" stop-color="#ffc9c9"/><stop offset="0.05" stop-color="#ffcbcb"/><stop offset="0.1" stop-color="#ffd1d1"/><stop offset="0.15" stop-color="#ffdada"/><stop offset="0.2" stop-color="#ffe6e6"/><stop offset="0.25" stop-color="#fff3f3"/><stop offset="0.29" stop-color="#ffffff"/><stop offset="0.3" stop-color="#fcfcff"/><stop offset="0.35" stop-color="#ebebff"/><stop offset="0.4" stop-color="#d9d9ff"/><stop offset="0.45" stop-color="#c5c5ff"/><stop offset="0.5" stop-color="#afafff"/><stop offset="0.55" stop-color="#9898ff"/><stop offset="0.6" stop-color="#8080ff"/><stop offset="0.65" stop-color="#6a6aff"/><stop offset="0.7" stop-color="#5555ff"/><stop offset="0.75" stop-color="#4343ff"/><stop offset="0.8" stop-color="#3636ff"/><stop offset="0.85" stop-color="#2c2cff"/><stop offset="0.9" stop-color="#2525ff"/><stop offset="0.95" stop-color="#2222ff"/><stop offset="1" stop-color="#2020ff"/></linearGradient><linearGradient id="c36" gradientUnits="userSpaceOnUse" x1="371.85" x2="578.60" y1="0" y2="0" spreadMethod="reflect"><stop offset="0" stop-color="#ffd0d0"/><stop offset="0.05" stop-color="#ffd2d2"/><stop offset="0.1" stop-color="#ffd7d7"/><stop offset="0.15" stop-color="#ffe0e0"/><stop offset="0.2" stop-color="#ffecec"/><stop offset="0.25" stop-color="#fff9f9"/><stop offset="0.3" stop-color="#f6f6ff"/><stop offset="0.35" stop-color="#e5e5ff"/><stop offset="0.4" stop-color="#d3d3ff"/><stop offset="0.45" stop-color="#bebeff"/><stop offset="0.5" stop-color="#a8a8ff"/><stop offset="0.55" stop-color="#9090ff"/><stop offset="0.6" stop-color="#7979ff"/><stop offset="0.65" stop-color="#6262ff"/><stop offset="0.7" stop-color="#4e4eff"/><stop offset="0.75" stop-color="#3e3eff"/><stop offset="0.8" stop-color="#3232ff"/><stop offset="0.85" stop-color="#2929ff"/><stop offset="0.9" stop-color="#2424ff"/><stop offset="0.95" stop-color="#2222ff"/><stop offset="1" stop-color="#2121ff"/></linearGradient><linearGradient id="c37" gradientUnits="userSpaceOnUse" x1="371.85" x2="578.60" y1="0" y2="0" spreadMethod="reflect"><stop offset="0" stop-color="#ffd6d6"/><stop offset="0.05" stop-color="#ffd8d8"/><stop offset="0.1" stop-color="#ffdddd"/><stop offset="0.15" stop-color="#ffe6e6"/><stop offset="0.2" stop-color="#fff2f2"/><stop offset="0.25" stop-color="#ffffff"/><stop offset="0.3" stop-color="#f0f0ff"/><stop offset="0.35" stop-color="#dfdfff"/><stop offset="0.4" stop-color="#ccccff"/><stop offset="0.45" stop-color="#b8b8ff"/><stop offset="0.5" stop-color="#a1a1ff"/><stop offset="0.55" stop-color="#8989ff"/><stop offset="0.6" stop-color="#7171ff"/><stop offset="0.65" stop-color="#5b5bff"/><stop offset="0.7" stop-color="#4848ff"/><stop offset="0.75" stop-color="#3939ff"/><stop offset="0.8" stop-color="#2e2eff"/><stop offset="0.85" stop-color="#2828ff"/><stop offset="0.9" stop-color="#2424ff"/><stop offset="0.95" stop-color="#2323ff"/><stop offset="1" stop-color="#2222ff"/></linearGradient><linearGradient id="c38" gradientUnits="userSpaceOnUse" x1="371.85" x2="578.60" y1="0" y2="0" spreadMethod="reflect"><stop offset="0" stop-color="#ffdcdc"/><stop offset="0.05" stop-color="#ffdddd"/><stop offset="0.1" stop-color="#ffe3e3"/><stop offset="0.15" stop-color="#ffecec"/><stop offset="0.2" stop-color="#fff7f7"/><stop offset="0.23" stop-color="#ffffff"/><stop offset="0.25" stop-color="#f9f9ff"/><stop offset="0.3" stop-color="#eaeaff"/><stop offset="0.35" stop-color="#d9d9ff"/><stop offset="0.4" stop-color="#c6c6ff"/><stop offset="0.45" stop-color="#b1b1ff"/><stop offset="0.5" stop-color="#9a9aff"/><stop offset="0.55" stop-color="#8282ff"/><stop offset="0.6" stop-color="#6b6bff"/><stop offset="0.65" stop-color="#5555ff"/><stop offset="0.7" stop-color="#4343ff"/><stop offset="0.75" stop-color="#3535ff"/><stop offset="0.8" stop-color="#2c2cff"/><stop offset="0.85" stop-color="#2828ff"/><stop offset="0.9" stop-color="#2626ff"/><stop offset="0.95" stop-color="#2525ff"/><stop offset="1" stop-color="#2525ff"/></linearGradient><linearGradient id="c39" gradientUnits="userSpaceOnUse" x1="371.85" x2="578.60" y1="0" y2="0" spreadMethod="reflect"><stop offset="0" stop-color="#ffe1e1"/><stop offset="0.05" stop-color="#ffe3e3"/><stop offset="0.1" stop-color="#ffe8e8"/><stop offset="0.15" stop-color="#fff1f1"/><stop offset="0.2" stop-color="#fffcfc"/><stop offset="0.25" stop-color="#f4f4ff"/><stop offset="0.3" stop-color="#e5e5ff"/><stop offset="0.35" stop-color="#d4d4ff"/><stop offset="0.4" stop-color="#c1c1ff"/><stop offset="0.45" stop-color="#ababff"/><stop offset="0.5" stop-color="#9494ff"/><stop offset="0.55" stop-color="#7c7cff"/><stop offset="0.6" stop-color="#6464ff"/><stop offset="0.65" stop-color="#4f4fff"/><stop offset="0.7" stop-color="#3e3eff"/><stop offset="0.75" stop-color="#3232ff"/><stop offset="0.8" stop-color="#2b2bff"/><stop offset="0.85" stop-color="#2828ff"/><stop offset="0.9" stop-color="#2828ff"/><stop offset="0.95" stop-color="#2929ff"/><stop offset="1" stop-color="#2929ff"/></linearGradient><linearGradient id="c40" gradientUnits="userSpaceOnUse" x1="371.85" x2="578.60" y1="0" y2="0" spreadMethod="reflect"><stop offset="0" stop-color="#ffe6e6"/><stop offset="0.05" stop-color="#ffe8e8"/><stop offset="0.1" stop-color="#ffeded"/><stop offset="0.15" stop-color="#fff6f6"/><stop offset="0.19" stop-color="#ffffff"/><stop offset="0.2" stop-color="#fdfdff"/><stop offset="0.25" stop-color="#efefff"/><stop offset="0.3" stop-color="#e0e0ff"/><stop offset="0.35" stop-color="#cfcfff"/><stop offset="0.4" stop-color="#bbbbff"/><stop offset="0.45" stop-color="#a5a5ff"/><stop offset="0.5" stop-color="#8e8eff"/><stop offset="0.55" stop-color="#7676ff"/><stop offset="0.6" stop-color="#5e5eff"/><stop offset="0.65" stop-color="#4a4aff"/><stop offset="0.7" stop-color="#3a3aff"/><stop offset="0.75" stop-color="#3030ff"/><stop offset="0.8" stop-color="#2b2bff"/><stop offset="0.85" stop-color="#2a2aff"/><stop offset="0.9" stop-color="#2b2bff"/><stop offset="0.95" stop-color="#2d2dff"/><stop offset="1" stop-color="#2e2eff"/></linearGradient><linearGradient id="c41" gradientUnits="userSpaceOnUse" x1="371.85" x2="578.60" y1="0" y2="0" spreadMethod="reflect"><stop offset="0" stop-color="#ffebeb"/><stop offset="0.05" stop-color="#ffecec"/><stop offset="0.1" stop-color="#fff2f2"/><stop offset="0.15" stop-color="#fffbfb"/><stop offset="0.2" stop-color="#f8f8ff"/><stop offset="0.25" stop-color="#ebebff"/><stop offset="0.3" stop-color="#dbdbff"/><stop offset="0.35" stop-color="#cacaff"/><stop offset="0.4" stop-color="#b6b6ff"/><stop offset="0.45" stop-color="#a0a0ff"/><stop offset="0.5" stop-color="#8888ff"/><stop offset="0.55" stop-color="#7070ff"/><stop offset="0.6" stop-color="#5959ff"/><stop offset="0.65" stop-color="#4646ff"/><stop offset="0.7" stop-color="#3737ff"/><stop offset="0.75" stop-color="#2e2eff"/><stop offset="0.8" stop-color="#2b2bff"/><stop offset="0.85" stop-color="#2c2cff"/><stop offset="0.9" stop-color="#2f2fff"/><stop offset="0.95" stop-color="#3232ff"/><stop offset="1" stop-color="#3333ff"/></linearGradient><linearGradient id="c42" gradientUnits="userSpaceOnUse" x1="371.85" x2="578.60" y1="0" y2="0" spreadMethod="reflect"><stop offset="0" stop-color="#ffefef"/><stop offset="0.05" stop-color="#fff1f1"/><stop offset="0.1" stop-color="#fff6f6"/><stop offset="0.15" stop-color="#ffffff"/><stop offset="0.15" stop-color="#ffffff"/><stop offset="0.2" stop-color="#f4f4ff"/><stop offset="0.25" stop-color="#e6e6ff"/><stop offset="0.3" stop-color="#d7d7ff"/><stop offset="0.35" stop-color="#c5c5ff"/><stop offset="0.4" stop-color="#b1b1ff"/><stop offset="0.45" stop-color="#9b9bff"/><stop offset="0.5" stop-color="#8383ff"/><stop offset="0.55" stop-color="#6b6bff"/><stop offset="0.6" stop-color="#5555ff"/><stop offset="0.65" stop-color="#4242ff"/><stop offset="0.7" stop-color="#3535ff"/><stop offset="0.75" stop-color="#2d2dff"/><stop offset="0.8" stop-color="#2c2cff"/><stop offset="0.85" stop-color="#2e2eff"/><stop offset="0.9" stop-color="#3333ff"/><stop offset="0.95" stop-color="#3737ff"/><stop offset="1" stop-color="#3838ff"/></linearGradient><linearGradient id="c43" gradientUnits="userSpaceOnUse" x1="371.85" x2="578.60" y1="0" y2="0" spreadMethod="reflect"><stop offset="0" stop-color="#fff3f3"/><stop offset="0.05" stop-color="#fff5f5"/><stop offset="0.1" stop-color="#fffafa"/><stop offset="0.15" stop-color="#fbfbff"/><stop offset="0.2" stop-color="#f0f0ff"/><stop offset="0.25" stop-color="#e2e2ff"/><stop offset="0.3" stop-color="#d3d3ff"/><stop offset="0.35" stop-color="#c1c1ff"/><stop offset="0.4" stop-color="#adadff"/><stop offset="0.45" stop-color="#9696ff"/><stop offset="0.5" stop-color="#7f7fff"/><stop offset="0.55" stop-color="#6767ff"/><stop offset="0.6" stop-color="#5151ff"/><stop offset="0.65" stop-color="#3f3fff"/><stop offset="0.7" stop-color="#3232ff"/><stop offset="0.75" stop-color="#2d2dff"/><stop offset="0.8" stop-color="#2d2dff"/><stop offset="0.85" stop-color="#3131ff"/><stop offset="0.9" stop-color="#3737ff"/><stop offset="0.95" stop-color="#3c3cff"/><stop offset="1" stop-color="#3e3eff"/></linearGradient><linearGradient id="c44" gradientUnits="userSpaceOnUse" x1="371.85" x2="578.60" y1="0" y2="0" spreadMethod="reflect"><stop offset="0" stop-color="#fff6f6"/><stop offset="0.05" stop-color="#fff8f8"/><stop offset="0.1" stop-color="#fffdfd"/><stop offset="0.11" stop-color="#ffffff"/><stop offset="0.15" stop-color="#f8f8ff"/><stop offset="0.2" stop-color="#ececff"/><stop offset="0.25" stop-color="#dfdfff"/><stop offset="0.3" stop-color="#cfcfff"/><stop offset="0.35" stop-color="#bdbdff"/><stop offset="0.4" stop-color="#a9a9ff"/><stop offset="0.45" stop-color="#9393ff"/><stop offset="0.5" stop-color="#7b7bff"/><stop offset="0.55" stop-color="#6363ff"/><stop offset="0.6" stop-color="#4d4dff"/><stop offset="0.65" stop-color="#3c3cff"/><stop offset="0.7" stop-color="#3131ff"/><stop offset="0.75" stop-color="#2c2cff"/><stop offset="0.8" stop-color="#2e2eff"/><stop offset="0.85" stop-color="#3434ff"/><stop offset="0.9" stop-color="#3b3bff"/><stop offset="0.95" stop-color="#4141ff"/><stop offset="1" stop-color="#4343ff"/></linearGradient><linearGradient id="c45" gradientUnits="userSpaceOnUse" x1="371.85" x2="578.60" y1="0" y2="0" spreadMethod="reflect"><stop offset="0" stop-color="#fff9f9"/><stop offset="0.05" stop-color="#fffbfb"/><stop offset="0.09" stop-color="#ffffff"/><stop offset="0.1" stop-color="#fefeff"/><stop offset="0.15" stop-color="#f5f5ff"/><stop offset="0.2" stop-color="#eaeaff"/><stop offset="0.25" stop-color="#dcdcff"/><stop offset="0.3" stop-color="#ccccff"/><stop offset="0.35" stop-color="#babaff"/><stop offset="0.4" stop-color="#a6a6ff"/><stop offset="0.45" stop-color="#8f8fff"/><stop offset="0.5" stop-color="#7777ff"/><stop offset="0.55" stop-color="#6060ff"/><stop offset="0.6" stop-color="#4a4aff"/><stop offset="0.65" stop-color="#3a3aff"/><stop offset="0.7" stop-color="#3030ff"/><stop offset="0.75" stop-color="#2d2dff"/><stop offset="0.8" stop-color="#3030ff"/><stop offset="0.85" stop-color="#3737ff"/><stop offset="0.9" stop-color="#3f3fff"/><stop offset="0.95" stop-color="#4646ff"/><stop offset="1" stop-color="#4848ff"/></linearGradient><linearGradient id="c46" gradientUnits="userSpaceOnUse" x1="371.85" x2="578.60" y1="0" y2="0" spreadMethod="reflect"><stop offset="0" stop-color="#fffbfb"/><stop offset="0.05" stop-color="#fffdfd"/><stop offset="0.07" stop-color="#ffffff"/><stop offset="0.1" stop-color="#fbfbff"/><stop offset="0.15" stop-color="#f3f3ff"/><stop offset="0.2" stop-color="#e7e7ff"/><stop offset="0.25" stop-color="#dadaff"/><stop offset="0.3" stop-color="#cacaff"/><stop offset="0.35" stop-color="#b8b8ff"/><stop offset="0.4" stop-color="#a3a3ff"/><stop offset="0.45" stop-color="#8c8cff"/><stop offset="0.5" stop-color="#7474ff"/><stop offset="0.55" stop-color="#5d5dff"/><stop offset="0.6" stop-color="#4848ff"/><stop offset="0.65" stop-color="#3838ff"/><stop offset="0.7" stop-color="#2f2fff"/><stop offset="0.75" stop-color="#2d2dff"/><stop offset="0.8" stop-color="#3131ff"/><stop offset="0.85" stop-color="#3939ff"/><stop offset="0.9" stop-color="#4343ff"/><stop offset="0.95" stop-color="#4a4aff"/><stop offset="1" stop-color="#4c4cff"/></linearGradient><linearGradient id="c47" gradientUnits="userSpaceOnUse" x1="371.85" x2="578.60" y1="0" y2="0" spreadMethod="reflect"><stop offset="0" stop-color="#fffdfd"/><stop offset="0.05" stop-color="#ffffff"/><stop offset="0.05" stop-color="#ffffff"/><stop offset="0.1" stop-color="#f9f9ff"/><stop offset="0.15" stop-color="#f1f1ff"/><stop offset="0.2" stop-color="#e5e5ff"/><stop offset="0.25" stop-color="#d8d8ff"/><stop offset="0.3" stop-color="#c8c8ff"/><stop offset="0.35" stop-color="#b6b6ff"/><stop offset="0.4" stop-color="#a1a1ff"/><stop offset="0.45" stop-color="#8a8aff"/><stop offset="0.5" stop-color="#7272ff"/><stop offset="0.55" stop-color="#5b5bff"/><stop offset="0.6" stop-color="#4646ff"/><stop offset="0.65" stop-color="#3737ff"/><stop offset="0.7" stop-color="#2e2eff"/><stop offset="0.75" stop-color="#2d2dff"/><stop offset="0.8" stop-color="#3232ff"/><stop offset="0.85" stop-color="#3b3bff"/><stop offset="0.9" stop-color="#4545ff"/><stop offset="0.95" stop-color="#4d4dff"/><stop offset="1" stop-color="#5050ff"/></linearGradient><linearGradient id="c48" gradientUnits="userSpaceOnUse" x1="371.85" x2="578.60" y1="0" y2="0" spreadMethod="reflect"><stop offset="0" stop-color="#fffefe"/><stop offset="0.03" stop-color="#ffffff"/><stop offset="0.05" stop-color="#fefeff"/><stop offset="0.1" stop-color="#f8f8ff"/><stop offset="0.15" stop-color="#f0f0ff"/><stop offset="0.2" stop-color="#e4e4ff"/><stop offset="0.25" stop-color="#d6d6ff"/><stop offset="0.3" stop-color="#c7c7ff"/><stop offset="0.35" stop-color="#b4b4ff"/><stop offset="0.4" stop-color="#a0a0ff"/><stop offset="0.45" stop-color="#8989ff"/><stop offset="0.5" stop-color="#7171ff"/><stop offset="0.55" stop-color="#5a5aff"/><stop offset="0.6" stop-color="#4545ff"/><stop offset="0.65" stop-color="#3636ff"/><stop offset="0.7" stop-color="#2e2eff"/><stop offset="0.75" stop-color="#2d2dff"/><stop offset="0.8" stop-color="#3333ff"/><stop offset="0.85" stop-color="#3d3dff"/><stop offset="0.9" stop-color="#4747ff"/><stop offset="0.95" stop-color="#4f4fff"/><stop offset="1" stop-color="#5252ff"/></linearGradient><linearGradient id="c49" gradientUnits="userSpaceOnUse" x1="371.85" x2="578.60" y1="0" y2="0" spreadMethod="reflect"><stop offset="0" stop-color="#ffffff"/><stop offset="0.01" stop-color="#ffffff"/><stop offset="0.05" stop-color="#fdfdff"/><stop offset="0.1" stop-color="#f8f8ff"/><stop offset="0.15" stop-color="#efefff"/><stop offset="0.2" stop-color="#e4e4ff"/><stop offset="0.25" stop-color="#d6d6ff"/><stop offset="0.3" stop-color="#c6c6ff"/><stop offset="0.35" stop-color="#b4b4ff"/><stop offset="0.4" stop-color="#9f9fff"/><stop offset="0.45" stop-color="#8888ff"/><stop offset="0.5" stop-color="#7070ff"/><stop offset="0.55" stop-color="#5959ff"/><stop offset="0.6" stop-color="#4545ff"/><stop offset="0.65" stop-color="#3636ff"/><stop offset="0.7" stop-color="#2e2eff"/><stop offset="0.75" stop-color="#2d2dff"/><stop offset="0.8" stop-color="#3333ff"/><stop offset="0.85" stop-color="#3d3dff"/><stop offset="0.9" stop-color="#4848ff"/><stop offset="0.95" stop-color="#5050ff"/><stop offset="1" stop-color="#5353ff"/></linearGradient><linearGradient id="d0" gradientUnits="userSpaceOnUse" x1="959.10" x2="1165.60" y1="0" y2="0" spreadMethod="reflect"><stop offset="0" stop-color="#7171ff"/><stop offset="0.05" stop-color="#7070ff"/><stop offset="0.1" stop-color="#6d6dff"/><stop offset="0.15" stop-color="#6a6aff"/><stop offset="0.2" stop-color="#6767ff"/><stop offset="0.25" stop-color="#6464ff"/><stop offset="0.3" stop-color="#6464ff"/><stop offset="0.35" stop-color="#6767ff"/><stop offset="0.4" stop-color="#6c6cff"/><stop offset="0.45" stop-color="#7373ff"/><stop offset="0.5" stop-color="#7d7dff"/><stop offset="0.55" stop-color="#8686ff"/><stop offset="0.6" stop-color="#9090ff"/><stop offset="0.65" stop-color="#9999ff"/><stop offset="0.7" stop-color="#a0a0ff"/><stop offset="0.75" stop-color="#a6a6ff"/><stop offset="0.8" stop-color="#aaaaff"/><stop offset="0.85" stop-color="#acacff"/><stop offset="0.9" stop-color="#adadff"/><stop offset="0.95" stop-color="#aeaeff"/><stop offset="1" stop-color="#aeaeff"/></linearGradient><linearGradient id="d1" gradientUnits="userSpaceOnUse" x1="959.10" x2="1165.60" y1="0" y2="0" spreadMethod="reflect"><stop offset="0" stop-color="#7070ff"/><stop offset="0.05" stop-color="#7070ff"/><stop offset="0.1" stop-color="#6d6dff"/><stop offset="0.15" stop-color="#6a6aff"/><stop offset="0.2" stop-color="#6666ff"/><stop offset="0.25" stop-color="#6464ff"/><stop offset="0.3" stop-color="#6464ff"/><stop offset="0.35" stop-color="#6767ff"/><stop offset="0.4" stop-color="#6c6cff"/><stop offset="0.45" stop-color="#7373ff"/><stop offset="0.5" stop-color="#7d7dff"/><stop offset="0.55" stop-color="#8787ff"/><stop offset="0.6" stop-color="#9191ff"/><stop offset="0.65" stop-color="#9a9aff"/><stop offset="0.7" stop-color="#a1a1ff"/><stop offset="0.75" stop-color="#a6a6ff"/><stop offset="0.8" stop-color="#aaaaff"/><stop offset="0.85" stop-color="#adadff"/><stop offset="0.9" stop-color="#aeaeff"/><stop offset="0.95" stop-color="#aeaeff"/><stop offset="1" stop-color="#afafff"/></linearGradient><linearGradient id="d2" gradientUnits="userSpaceOnUse" x1="959.10" x2="1165.60" y1="0" y2="0" spreadMethod="reflect"><stop offset="0" stop-color="#7070ff"/><stop offset="0.05" stop-color="#6f6fff"/><stop offset="0.1" stop-color="#6c6cff"/><stop offset="0.15" stop-color="#6969ff"/><stop offset="0.2" stop-color="#6666ff"/><stop offset="0.25" stop-color="#6464ff"/><stop offset="0.3" stop-color="#6464ff"/><stop offset="0.35" stop-color="#6767ff"/><stop offset="0.4" stop-color="#6c6cff"/><stop offset="0.45" stop-color="#7474ff"/><stop offset="0.5" stop-color="#7d7dff"/><stop offset="0.55" stop-color="#8787ff"/><stop offset="0.6" stop-color="#9191ff"/><stop offset="0.65" stop-color="#9a9aff"/><stop offset="0.7" stop-color="#a2a2ff"/><stop offset="0.75" stop-color="#a8a8ff"/><stop offset="0.8" stop-color="#acacff"/><stop offset="0.85" stop-color="#aeaeff"/><stop offset="0.9" stop-color="#afafff"/><stop offset="0.95" stop-color="#b0b0ff"/><stop offset="1" stop-color="#b0b0ff"/></linearGradient><linearGradient id="d3" gradientUnits="userSpaceOnUse" x1="959.10" x2="1165.60" y1="0" y2="0" spreadMethod="reflect"><stop offset="0" stop-color="#6f6fff"/><stop offset="0.05" stop-color="#6e6eff"/><stop offset="0.1" stop-color="#6c6cff"/><stop offset="0.15" stop-color="#6969ff"/><stop offset="0.2" stop-color="#6666ff"/><stop offset="0.25" stop-color="#6464ff"/><stop offset="0.3" stop-color="#6464ff"/><stop offset="0.35" stop-color="#6767ff"/><stop offset="0.4" stop-color="#6d6dff"/><stop offset="0.45" stop-color="#7474ff"/><stop offset="0.5" stop-color="#7e7eff"/><stop offset="0.55" stop-color="#8888ff"/><stop offset="0.6" stop-color="#9292ff"/><stop offset="0.65" stop-color="#9c9cff"/><stop offset="0.7" stop-color="#a3a3ff"/><stop offset="0.75" stop-color="#a9a9ff"/><stop offset="0.8" stop-color="#adadff"/><stop offset="0.85" stop-color="#b0b0ff"/><stop offset="0.9" stop-color="#b2b2ff"/><stop offset="0.95" stop-color="#b3b3ff"/><stop offset="1" stop-color="#b3b3ff"/></linearGradient><linearGradient id="d4" gradientUnits="userSpaceOnUse" x1="959.10" x2="1165.60" y1="0" y2="0" spreadMethod="reflect"><stop offset="0" stop-color="#6e6eff"/><stop offset="0.05" stop-color="#6d6dff"/><stop offset="0.1" stop-color="#6b6bff"/><stop offset="0.15" stop-color="#6868ff"/><stop offset="0.2" stop-color="#6565ff"/><stop offset="0.25" stop-color="#6464ff"/><stop offset="0.3" stop-color="#6464ff"/><stop offset="0.35" stop-color="#6767ff"/><stop offset="0.4" stop-color="#6d6dff"/><stop offset="0.45" stop-color="#7575ff"/><stop offset="0.5" stop-color="#7f7fff"/><stop offset="0.55" stop-color="#8989ff"/><stop offset="0.6" stop-color="#9494ff"/><stop offset="0.65" stop-color="#9d9dff"/><stop offset="0.7" stop-color="#a5a5ff"/><stop offset="0.75" stop-color="#ababff"/><stop offset="0.8" stop-color="#b0b0ff"/><stop offset="0.85" stop-color="#b3b3ff"/><stop offset="0.9" stop-color="#b5b5ff"/><stop offset="0.95" stop-color="#b6b6ff"/><stop offset="1" stop-color="#b6b6ff"/></linearGradient><linearGradient id="d5" gradientUnits="userSpaceOnUse" x1="959.10" x2="1165.60" y1="0" y2="0" spreadMethod="reflect"><stop offset="0" stop-color="#6c6cff"/><stop offset="0.05" stop-color="#6b6bff"/><stop offset="0.1" stop-color="#6969ff"/><stop offset="0.15" stop-color="#6767ff"/><stop offset="0.2" stop-color="#6464ff"/><stop offset="0.25" stop-color="#6363ff"/><stop offset="0.3" stop-color="#6464ff"/><stop offset="0.35" stop-color="#6868ff"/><stop offset="0.4" stop-color="#6e6eff"/><stop offset="0.45" stop-color="#7676ff"/><stop offset="0.5" stop-color="#8080ff"/><stop offset="0.55" stop-color="#8b8bff"/><stop offset="0.6" stop-color="#9595ff"/><stop offset="0.65" stop-color="#9f9fff"/><stop offset="0.7" stop-color="#a7a7ff"/><stop offset="0.75" stop-color="#aeaeff"/><stop offset="0.8" stop-color="#b3b3ff"/><stop offset="0.85" stop-color="#b6b6ff"/><stop offset="0.9" stop-color="#b8b8ff"/><stop offset="0.95" stop-color="#babaff"/><stop offset="1" stop-color="#babaff"/></linearGradient><linearGradient id="d6" gradientUnits="userSpaceOnUse" x1="959.10" x2="1165.60" y1="0" y2="0" spreadMethod="reflect"><stop offset="0" stop-color="#6b6bff"/><stop offset="0.05" stop-color="#6a6aff"/><stop offset="0.1" stop-color="#6868ff"/><stop offset="0.15" stop-color="#6666ff"/><stop offset="0.2" stop-color="#6464ff"/><stop offset="0.25" stop-color="#6363ff"/><stop offset="0.3" stop-color="#6464ff"/><stop offset="0.35" stop-color="#6868ff"/><stop offset="0.4" stop-color="#6f6fff"/><stop offset="0.45" stop-color="#7777ff"/><stop offset="0.5" stop-color="#8282ff"/><stop offset="0.55" stop-color="#8d8dff"/><stop offset="0.6" stop-color="#9797ff"/><stop offset="0.65" stop-color="#a1a1ff"/><stop offset="0.7" stop-color="#aaaaff"/><stop offset="0.75" stop-color="#b1b1ff"/><stop offset="0.8" stop-color="#b6b6ff"/><stop offset="0.85" stop-color="#babaff"/><stop offset="0.9" stop-color="#bdbdff"/><stop offset="0.95" stop-color="#bebeff"/><stop offset="1" stop-color="#bebeff"/></linearGradient><linearGradient id="d7" gradientUnits="userSpaceOnUse" x1="959.10" x2="1165.60" y1="0" y2="0" spreadMethod="reflect"><stop offset="0" stop-color="#6969ff"/><stop offset="0.05" stop-color="#6868ff"/><stop offset="0.1" stop-color="#6767ff"/><stop offset="0.15" stop-color="#6565ff"/><stop offset="0.2" stop-color="#6363ff"/><stop offset="0.25" stop-color="#6363ff"/><stop offset="0.3" stop-color="#6464ff"/><stop offset="0.35" stop-color="#6969ff"/><stop offset="0.4" stop-color="#7070ff"/><stop offset="0.45" stop-color="#7979ff"/><stop offset="0.5" stop-color="#8383ff"/><stop offset="0.55" stop-color="#8f8fff"/><stop offset="0.6" stop-color="#9a9aff"/><stop offset="0.65" stop-color="#a4a4ff"/><stop offset="0.7" stop-color="#adadff"/><stop offset="0.75" stop-color="#b4b4ff"/><stop offset="0.8" stop-color="#babaff"/><stop offset="0.85" stop-color="#bebeff"/><stop offset="0.9" stop-color="#c1c1ff"/><stop offset="0.95" stop-color="#c3c3ff"/><stop offset="1" stop-color="#c3c3ff"/></linearGradient><linearGradient id="d8" gradientUnits="userSpaceOnUse" x1="959.10" x2="1165.60" y1="0" y2="0" spreadMethod="reflect"><stop offset="0" stop-color="#6868ff"/><stop offset="0.05" stop-color="#6767ff"/><stop offset="0.1" stop-color="#6666ff"/><stop offset="0.15" stop-color="#6464ff"/><stop offset="0.2" stop-color="#6262ff"/><stop offset="0.25" stop-color="#6262ff"/><stop offset="0.3" stop-color="#6565ff"/><stop offset="0.35" stop-color="#6a6aff"/><stop offset="0.4" stop-color="#7171ff"/><stop offset="0.45" stop-color="#7b7bff"/><stop offset="0.5" stop-color="#8686ff"/><stop offset="0.55" stop-color="#9191ff"/><stop offset="0.6" stop-color="#9c9cff"/><stop offset="0.65" stop-color="#a7a7ff"/><stop offset="0.7" stop-color="#b0b0ff"/><stop offset="0.75" stop-color="#b8b8ff"/><stop offset="0.8" stop-color="#bebeff"/><stop offset="0.85" stop-color="#c3c3ff"/><stop offset="0.9" stop-color="#c6c6ff"/><stop offset="0.95" stop-color="#c8c8ff"/><stop offset="1" stop-color="#c8c8ff"/></linearGradient><linearGradient id="d9" gradientUnits="userSpaceOnUse" x1="959.10" x2="1165.60" y1="0" y2="0" spreadMethod="reflect"><stop offset="0" stop-color="#6666ff"/><stop offset="0.05" stop-color="#6666ff"/><stop offset="0.1" stop-color="#6464ff"/><stop offset="0.15" stop-color="#6363ff"/><stop offset="0.2" stop-color="#6262ff"/><stop offset="0.25" stop-color="#6262ff"/><stop offset="0.3" stop-color="#6565ff"/><stop offset="0.35" stop-color="#6b6bff"/><stop offset="0.4" stop-color="#7373ff"/><stop offset="0.45" stop-color="#7d7dff"/><stop offset="0.5" stop-color="#8888ff"/><stop offset="0.55" stop-color="#9494ff"/><stop offset="0.6" stop-color="#9f9fff"/><stop offset="0.65" stop-color="#aaaaff"/><stop offset="0.7" stop-color="#b4b4ff"/><stop offset="0.75" stop-color="#bcbcff"/><stop offset="0.8" stop-color="#c2c2ff"/><stop offset="0.85" stop-color="#c7c7ff"/><stop offset="0.9" stop-color="#cbcbff"/><stop offset="0.95" stop-color="#cdcdff"/><stop offset="1" stop-color="#ceceff"/></linearGradient><linearGradient id="d10" gradientUnits="userSpaceOnUse" x1="959.10" x2="1165.60" y1="0" y2="0" spreadMethod="reflect"><stop offset="0" stop-color="#6565ff"/><stop offset="0.05" stop-color="#6565ff"/><stop offset="0.1" stop-color="#6464ff"/><stop offset="0.15" stop-color="#6262ff"/><stop offset="0.2" stop-color="#6262ff"/><stop offset="0.25" stop-color="#6363ff"/><stop offset="0.3" stop-color="#6666ff"/><stop offset="0.35" stop-color="#6c6cff"/><stop offset="0.4" stop-color="#7575ff"/><stop offset="0.45" stop-color="#7f7fff"/><stop offset="0.5" stop-color="#8b8bff"/><stop offset="0.55" stop-color="#9797ff"/><stop offset="0.6" stop-color="#a3a3ff"/><stop offset="0.65" stop-color="#aeaeff"/><stop offset="0.7" stop-color="#b7b7ff"/><stop offset="0.75" stop-color="#c0c0ff"/><stop offset="0.8" stop-color="#c7c7ff"/><stop offset="0.85" stop-color="#ccccff"/><stop offset="0.9" stop-color="#d0d0ff"/><stop offset="0.95" stop-color="#d3d3ff"/><stop offset="1" stop-color="#d4d4ff"/></linearGradient><linearGradient id="d11" gradientUnits="userSpaceOnUse" x1="959.10" x2="1165.60" y1="0" y2="0" spreadMethod="reflect"><stop offset="0" stop-color="#6464ff"/><stop offset="0.05" stop-color="#6464ff"/><stop offset="0.1" stop-color="#6363ff"/><stop offset="0.15" stop-color="#6262ff"/><stop offset="0.2" stop-color="#6262ff"/><stop offset="0.25" stop-color="#6363ff"/><stop offset="0.3" stop-color="#6767ff"/><stop offset="0.35" stop-color="#6e6eff"/><stop offset="0.4" stop-color="#7777ff"/><stop offset="0.45" stop-color="#8282ff"/><stop offset="0.5" stop-color="#8e8eff"/><stop offset="0.55" stop-color="#9a9aff"/><stop offset="0.6" stop-color="#a6a6ff"/><stop offset="0.65" stop-color="#b1b1ff"/><stop offset="0.7" stop-color="#bbbbff"/><stop offset="0.75" stop-color="#c4c4ff"/><stop offset="0.8" stop-color="#cbcbff"/><stop offset="0.85" stop-color="#d1d1ff"/><stop offset="0.9" stop-color="#d6d6ff"/><stop offset="0.95" stop-color="#d8d8ff"/><stop offset="1" stop-color="#d9d9ff"/></linearGradient><linearGradient id="d12" gradientUnits="userSpaceOnUse" x1="959.10" x2="1165.60" y1="0" y2="0" spreadMethod="reflect"><stop offset="0" stop-color="#6464ff"/><stop offset="0.05" stop-color="#6363ff"/><stop offset="0.1" stop-color="#6262ff"/><stop offset="0.15" stop-color="#6262ff"/><stop offset="0.2" stop-color="#6262ff"/><stop offset="0.25" stop-color="#6464ff"/><stop offset="0.3" stop-color="#6969ff"/><stop offset="0.35" stop-color="#7070ff"/><stop offset="0.4" stop-color="#7979ff"/><stop offset="0.45" stop-color="#8585ff"/><stop offset="0.5" stop-color="#9191ff"/><stop offset="0.55" stop-color="#9e9eff"/><stop offset="0.6" stop-color="#aaaaff"/><stop offset="0.65" stop-color="#b5b5ff"/><stop offset="0.7" stop-color="#bfbfff"/><stop offset="0.75" stop-color="#c8c8ff"/><stop offset="0.8" stop-color="#d0d0ff"/><stop offset="0.85" stop-color="#d6d6ff"/><stop offset="0.9" stop-color="#dbdbff"/><stop offset="0.95" stop-color="#dedeff"/><stop offset="1" stop-color="#dfdfff"/></linearGradient><linearGradient id="d13" gradientUnits="userSpaceOnUse" x1="959.10" x2="1165.60" y1="0" y2="0" spreadMethod="reflect"><stop offset="0" stop-color="#6363ff"/><stop offset="0.05" stop-color="#6363ff"/><stop offset="0.1" stop-color="#6262ff"/><stop offset="0.15" stop-color="#6262ff"/><stop offset="0.2" stop-color="#6262ff"/><stop offset="0.25" stop-color="#6565ff"/><stop offset="0.3" stop-color="#6a6aff"/><stop offset="0.35" stop-color="#7272ff"/><stop offset="0.4" stop-color="#7c7cff"/><stop offset="0.45" stop-color="#8888ff"/><stop offset="0.5" stop-color="#9595ff"/><stop offset="0.55" stop-color="#a1a1ff"/><stop offset="0.6" stop-color="#aeaeff"/><stop offset="0.65" stop-color="#b9b9ff"/><stop offset="0.7" stop-color="#c3c3ff"/><stop offset="0.75" stop-color="#cdcdff"/><stop offset="0.8" stop-color="#d5d5ff"/><stop offset="0.85" stop-color="#dbdbff"/><stop offset="0.9" stop-color="#e0e0ff"/><stop offset="0.95" stop-color="#e4e4ff"/><stop offset="1" stop-color="#e5e5ff"/></linearGradient><linearGradient id="d14" gradientUnits="userSpaceOnUse" x1="959.10" x2="1165.60" y1="0" y2="0" spreadMethod="reflect"><stop offset="0" stop-color="#6363ff"/><stop offset="0.05" stop-color="#6363ff"/><stop offset="0.1" stop-color="#6262ff"/><stop offset="0.15" stop-color="#6262ff"/><stop offset="0.2" stop-color="#6363ff"/><stop offset="0.25" stop-color="#6666ff"/><stop offset="0.3" stop-color="#6c6cff"/><stop offset="0.35" stop-color="#7474ff"/><stop offset="0.4" stop-color="#7f7fff"/><stop offset="0.45" stop-color="#8b8bff"/><stop offset="0.5" stop-color="#9898ff"/><stop offset="0.55" stop-color="#a5a5ff"/><stop offset="0.6" stop-color="#b2b2ff"/><stop offset="0.65" stop-color="#bdbdff"/><stop offset="0.7" stop-color="#c8c8ff"/><stop offset="0.75" stop-color="#d1d1ff"/><stop offset="0.8" stop-color="#d9d9ff"/><stop offset="0.85" stop-color="#e0e0ff"/><stop offset="0.9" stop-color="#e6e6ff"/><stop offset="0.95" stop-color="#e9e9ff"/><stop offset="1" stop-color="#eaeaff"/></linearGradient><linearGradient id="d15" gradientUnits="userSpaceOnUse" x1="959.10" x2="1165.60" y1="0" y2="0" spreadMethod="reflect"><stop offset="0" stop-color="#6464ff"/><stop offset="0.05" stop-color="#6363ff"/><stop offset="0.1" stop-color="#6363ff"/><stop offset="0.15" stop-color="#6363ff"/><stop offset="0.2" stop-color="#6464ff"/><stop offset="0.25" stop-color="#6868ff"/><stop offset="0.3" stop-color="#6e6eff"/><stop offset="0.35" stop-color="#7777ff"/><stop offset="0.4" stop-color="#8282ff"/><stop offset="0.45" stop-color="#8f8fff"/><stop offset="0.5" stop-color="#9d9dff"/><stop offset="0.55" stop-color="#aaaaff"/><stop offset="0.6" stop-color="#b6b6ff"/><stop offset="0.65" stop-color="#c2c2ff"/><stop offset="0.7" stop-color="#ccccff"/><stop offset="0.75" stop-color="#d6d6ff"/><stop offset="0.8" stop-color="#dedeff"/><stop offset="0.85" stop-color="#e5e5ff"/><stop offset="0.9" stop-color="#ebebff"/><stop offset="0.95" stop-color="#eeeeff"/><stop offset="1" stop-color="#efefff"/></linearGradient><linearGradient id="d16" gradientUnits="userSpaceOnUse" x1="959.10" x2="1165.60" y1="0" y2="0" spreadMethod="reflect"><stop offset="0" stop-color="#6464ff"/><stop offset="0.05" stop-color="#6464ff"/><stop offset="0.1" stop-color="#6464ff"/><stop offset="0.15" stop-color="#6464ff"/><stop offset="0.2" stop-color="#6666ff"/><stop offset="0.25" stop-color="#6a6aff"/><stop offset="0.3" stop-color="#7171ff"/><stop offset="0.35" stop-color="#7a7aff"/><stop offset="0.4" stop-color="#8686ff"/><stop offset="0.45" stop-color="#9393ff"/><stop offset="0.5" stop-color="#a1a1ff"/><stop offset="0.55" stop-color="#aeaeff"/><stop offset="0.6" stop-color="#bbbbff"/><stop offset="0.65" stop-color="#c6c6ff"/><stop offset="0.7" stop-color="#d1d1ff"/><stop offset="0.75" stop-color="#dadaff"/><stop offset="0.8" stop-color="#e3e3ff"/><stop offset="0.85" stop-color="#eaeaff"/><stop offset="0.9" stop-color="#f0f0ff"/><stop offset="0.95" stop-color="#f3f3ff"/><stop offset="1" stop-color="#f5f5ff"/></linearGradient><linearGradient id="d17" gradientUnits="userSpaceOnUse" x1="959.10" x2="1165.60" y1="0" y2="0" spreadMethod="reflect"><stop offset="0" stop-color="#6565ff"/><stop offset="0.05" stop-color="#6565ff"/><stop offset="0.1" stop-color="#6565ff"/><stop offset="0.15" stop-color="#6565ff"/><stop offset="0.2" stop-color="#6767ff"/><stop offset="0.25" stop-color="#6c6cff"/><stop offset="0.3" stop-color="#7373ff"/><stop offset="0.35" stop-color="#7d7dff"/><stop offset="0.4" stop-color="#8a8aff"/><stop offset="0.45" stop-color="#9797ff"/><stop offset="0.5" stop-color="#a5a5ff"/><stop offset="0.55" stop-color="#b3b3ff"/><stop offset="0.6" stop-color="#bfbfff"/><stop offset="0.65" stop-color="#cbcbff"/><stop offset="0.7" stop-color="#d5d5ff"/><stop offset="0.75" stop-color="#dfdfff"/><stop offset="0.8" stop-color="#e7e7ff"/><stop offset="0.85" stop-color="#efefff"/><stop offset="0.9" stop-color="#f5f5ff"/><stop offset="0.95" stop-color="#f8f8ff"/><stop offset="1" stop-color="#fafaff"/></linearGradient><linearGradient id="d18" gradientUnits="userSpaceOnUse" x1="959.10" x2="1165.60" y1="0" y2="0" spreadMethod="reflect"><stop offset="0" stop-color="#6666ff"/><stop offset="0.05" stop-color="#6666ff"/><stop offset="0.1" stop-color="#6666ff"/><stop offset="0.15" stop-color="#6666ff"/><stop offset="0.2" stop-color="#6969ff"/><stop offset="0.25" stop-color="#6e6eff"/><stop offset="0.3" stop-color="#7676ff"/><stop offset="0.35" stop-color="#8181ff"/><stop offset="0.4" stop-color="#8d8dff"/><stop offset="0.45" stop-color="#9b9bff"/><stop offset="0.5" stop-color="#aaaaff"/><stop offset="0.55" stop-color="#b7b7ff"/><stop offset="0.6" stop-color="#c4c4ff"/><stop offset="0.65" stop-color="#cfcfff"/><stop offset="0.7" stop-color="#dadaff"/><stop offset="0.75" stop-color="#e3e3ff"/><stop offset="0.8" stop-color="#ececff"/><stop offset="0.85" stop-color="#f3f3ff"/><stop offset="0.9" stop-color="#fafaff"/><stop offset="0.95" stop-color="#fdfdff"/><stop offset="1" stop-color="#ffffff"/></linearGradient><linearGradient id="d19" gradientUnits="userSpaceOnUse" x1="959.10" x2="1165.60" y1="0" y2="0" spreadMethod="reflect"><stop offset="0" stop-color="#6767ff"/><stop offset="0.05" stop-color="#6767ff"/><stop offset="0.1" stop-color="#6767ff"/><stop offset="0.15" stop-color="#6868ff"/><stop offset="0.2" stop-color="#6b6bff"/><stop offset="0.25" stop-color="#7070ff"/><stop offset="0.3" stop-color="#7979ff"/><stop offset="0.35" stop-color="#8484ff"/><stop offset="0.4" stop-color="#9191ff"/><stop offset="0.45" stop-color="#a0a0ff"/><stop offset="0.5" stop-color="#aeaeff"/><stop offset="0.55" stop-color="#bcbcff"/><stop offset="0.6" stop-color="#c8c8ff"/><stop offset="0.65" stop-color="#d4d4ff"/><stop offset="0.7" stop-color="#dedeff"/><stop offset="0.75" stop-color="#e8e8ff"/><stop offset="0.8" stop-color="#f0f0ff"/><stop offset="0.85" stop-color="#f8f8ff"/><stop offset="0.9" stop-color="#fefeff"/><stop offset="0.9067" stop-color="#ffffff"/><stop offset="0.95" stop-color="#fffcfc"/><stop offset="1" stop-color="#fffafa"/></linearGradient><linearGradient id="d20" gradientUnits="userSpaceOnUse" x1="959.10" x2="1165.60" y1="0" y2="0" spreadMethod="reflect"><stop offset="0" stop-color="#6868ff"/><stop offset="0.05" stop-color="#6868ff"/><stop offset="0.1" stop-color="#6868ff"/><stop offset="0.15" stop-color="#6a6aff"/><stop offset="0.2" stop-color="#6d6dff"/><stop offset="0.25" stop-color="#7373ff"/><stop offset="0.3" stop-color="#7c7cff"/><stop offset="0.35" stop-color="#8888ff"/><stop offset="0.4" stop-color="#9595ff"/><stop offset="0.45" stop-color="#a4a4ff"/><stop offset="0.5" stop-color="#b3b3ff"/><stop offset="0.55" stop-color="#c1c1ff"/><stop offset="0.6" stop-color="#cdcdff"/><stop offset="0.65" stop-color="#d8d8ff"/><stop offset="0.7" stop-color="#e3e3ff"/><stop offset="0.75" stop-color="#ececff"/><stop offset="0.8" stop-color="#f5f5ff"/><stop offset="0.85" stop-color="#fdfdff"/><stop offset="0.865" stop-color="#ffffff"/><stop offset="0.9" stop-color="#fffbfb"/><stop offset="0.95" stop-color="#fff7f7"/><stop offset="1" stop-color="#fff5f5"/></linearGradient><linearGradient id="d21" gradientUnits="userSpaceOnUse" x1="959.10" x2="1165.60" y1="0" y2="0" spreadMethod="reflect"><stop offset="0" stop-color="#6969ff"/><stop offset="0.05" stop-color="#6969ff"/><stop offset="0.1" stop-color="#6a6aff"/><stop offset="0.15" stop-color="#6b6bff"/><stop offset="0.2" stop-color="#6f6fff"/><stop offset="0.25" stop-color="#7676ff"/><stop offset="0.3" stop-color="#7f7fff"/><stop offset="0.35" stop-color="#8b8bff"/><stop offset="0.4" stop-color="#9999ff"/><stop offset="0.45" stop-color="#a8a8ff"/><stop offset="0.5" stop-color="#b7b7ff"/><stop offset="0.55" stop-color="#c5c5ff"/><stop offset="0.6" stop-color="#d2d2ff"/><stop offset="0.65" stop-color="#ddddff"/><stop offset="0.7" stop-color="#e8e8ff"/><stop offset="0.75" stop-color="#f1f1ff"/><stop offset="0.8" stop-color="#fafaff"/><stop offset="0.8313" stop-color="#ffffff"/><stop offset="0.85" stop-color="#fffcfc"/><stop offset="0.9" stop-color="#fff6f6"/><stop offset="0.95" stop-color="#fff2f2"/><stop offset="1" stop-color="#fff0f0"/></linearGradient><linearGradient id="d22" gradientUnits="userSpaceOnUse" x1="959.10" x2="1165.60" y1="0" y2="0" spreadMethod="reflect"><stop offset="0" stop-color="#6a6aff"/><stop offset="0.05" stop-color="#6a6aff"/><stop offset="0.1" stop-color="#6b6bff"/><stop offset="0.15" stop-color="#6d6dff"/><stop offset="0.2" stop-color="#7171ff"/><stop offset="0.25" stop-color="#7878ff"/><stop offset="0.3" stop-color="#8282ff"/><stop offset="0.35" stop-color="#8f8fff"/><stop offset="0.4" stop-color="#9d9dff"/><stop offset="0.45" stop-color="#adadff"/><stop offset="0.5" stop-color="#bcbcff"/><stop offset="0.55" stop-color="#cacaff"/><stop offset="0.6" stop-color="#d7d7ff"/><stop offset="0.65" stop-color="#e2e2ff"/><stop offset="0.7" stop-color="#ececff"/><stop offset="0.75" stop-color="#f6f6ff"/><stop offset="0.8" stop-color="#ffffff"/><stop offset="0.8008" stop-color="#ffffff"/><stop offset="0.85" stop-color="#fff7f7"/><stop offset="0.9" stop-color="#fff1f1"/><stop offset="0.95" stop-color="#ffeded"/><stop offset="1" stop-color="#ffecec"/></linearGradient><linearGradient id="d23" gradientUnits="userSpaceOnUse" x1="959.10" x2="1165.60" y1="0" y2="0" spreadMethod="reflect"><stop offset="0" stop-color="#6b6bff"/><stop offset="0.05" stop-color="#6b6bff"/><stop offset="0.1" stop-color="#6c6cff"/><stop offset="0.15" stop-color="#6f6fff"/><stop offset="0.2" stop-color="#7474ff"/><stop offset="0.25" stop-color="#7b7bff"/><stop offset="0.3" stop-color="#8686ff"/><stop offset="0.35" stop-color="#9393ff"/><stop offset="0.4" stop-color="#a1a1ff"/><stop offset="0.45" stop-color="#b1b1ff"/><stop offset="0.5" stop-color="#c0c0ff"/><stop offset="0.55" stop-color="#ceceff"/><stop offset="0.6" stop-color="#dbdbff"/><stop offset="0.65" stop-color="#e7e7ff"/><stop offset="0.7" stop-color="#f1f1ff"/><stop offset="0.75" stop-color="#fbfbff"/><stop offset="0.772" stop-color="#ffffff"/><stop offset="0.8" stop-color="#fffafa"/><stop offset="0.85" stop-color="#fff2f2"/><stop offset="0.9" stop-color="#ffecec"/><stop offset="0.95" stop-color="#ffe8e8"/><stop offset="1" stop-color="#ffe7e7"/></linearGradient><linearGradient id="d24" gradientUnits="userSpaceOnUse" x1="959.10" x2="1165.60" y1="0" y2="0" spreadMethod="reflect"><stop offset="0" stop-color="#6c6cff"/><stop offset="0.05" stop-color="#6c6cff"/><stop offset="0.1" stop-color="#6e6eff"/><stop offset="0.15" stop-color="#7171ff"/><stop offset="0.2" stop-color="#7676ff"/><stop offset="0.25" stop-color="#7e7eff"/><stop offset="0.3" stop-color="#8989ff"/><stop offset="0.35" stop-color="#9696ff"/><stop offset="0.4" stop-color="#a5a5ff"/><stop offset="0.45" stop-color="#b5b5ff"/><stop offset="0.5" stop-color="#c5c5ff"/><stop offset="0.55" stop-color="#d3d3ff"/><stop offset="0.6" stop-color="#e0e0ff"/><stop offset="0.65" stop-color="#ececff"/><stop offset="0.7" stop-color="#f6f6ff"/><stop offset="0.7442" stop-color="#ffffff"/><stop offset="0.75" stop-color="#fffefe"/><stop offset="0.8" stop-color="#fff5f5"/><stop offset="0.85" stop-color="#ffeded"/><stop offset="0.9" stop-color="#ffe7e7"/><stop offset="0.95" stop-color="#ffe3e3"/><stop offset="1" stop-color="#ffe1e1"/></linearGradient><linearGradient id="d25" gradientUnits="userSpaceOnUse" x1="959.10" x2="1165.60" y1="0" y2="0" spreadMethod="reflect"><stop offset="0" stop-color="#6d6dff"/><stop offset="0.05" stop-color="#6d6dff"/><stop offset="0.1" stop-color="#6f6fff"/><stop offset="0.15" stop-color="#7373ff"/><stop offset="0.2" stop-color="#7878ff"/><stop offset="0.25" stop-color="#8181ff"/><stop offset="0.3" stop-color="#8c8cff"/><stop offset="0.35" stop-color="#9a9aff"/><stop offset="0.4" stop-color="#a9a9ff"/><stop offset="0.45" stop-color="#b9b9ff"/><stop offset="0.5" stop-color="#c9c9ff"/><stop offset="0.55" stop-color="#d8d8ff"/><stop offset="0.6" stop-color="#e5e5ff"/><stop offset="0.65" stop-color="#f1f1ff"/><stop offset="0.7" stop-color="#fbfbff"/><stop offset="0.7175" stop-color="#ffffff"/><stop offset="0.75" stop-color="#fff9f9"/><stop offset="0.8" stop-color="#fff0f0"/><stop offset="0.85" stop-color="#ffe8e8"/><stop offset="0.9" stop-color="#ffe2e2"/><stop offset="0.95" stop-color="#ffdede"/><stop offset="1" stop-color="#ffdcdc"/></linearGradient><linearGradient id="d26" gradientUnits="userSpaceOnUse" x1="959.10" x2="1165.60" y1="0" y2="0" spreadMethod="reflect"><stop offset="0" stop-color="#6e6eff"/><stop offset="0.05" stop-color="#6f6fff"/><stop offset="0.1" stop-color="#7171ff"/><stop offset="0.15" stop-color="#7575ff"/><stop offset="0.2" stop-color="#7b7bff"/><stop offset="0.25" stop-color="#8484ff"/><stop offset="0.3" stop-color="#9090ff"/><stop offset="0.35" stop-color="#9e9eff"/><stop offset="0.4" stop-color="#aeaeff"/><stop offset="0.45" stop-color="#bebeff"/><stop offset="0.5" stop-color="#ceceff"/><stop offset="0.55" stop-color="#dcdcff"/><stop offset="0.6" stop-color="#eaeaff"/><stop offset="0.65" stop-color="#f6f6ff"/><stop offset="0.6923" stop-color="#ffffff"/><stop offset="0.7" stop-color="#fffdfd"/><stop offset="0.75" stop-color="#fff3f3"/><stop offset="0.8" stop-color="#ffeaea"/><stop offset="0.85" stop-color="#ffe2e2"/><stop offset="0.9" stop-color="#ffdcdc"/><stop offset="0.95" stop-color="#ffd8d8"/><stop offset="1" stop-color="#ffd7d7"/></linearGradient><linearGradient id="d27" gradientUnits="userSpaceOnUse" x1="959.10" x2="1165.60" y1="0" y2="0" spreadMethod="reflect"><stop offset="0" stop-color="#6f6fff"/><stop offset="0.05" stop-color="#7070ff"/><stop offset="0.1" stop-color="#7272ff"/><stop offset="0.15" stop-color="#7777ff"/><stop offset="0.2" stop-color="#7d7dff"/><stop offset="0.25" stop-color="#8787ff"/><stop offset="0.3" stop-color="#9393ff"/><stop offset="0.35" stop-color="#a2a2ff"/><stop offset="0.4" stop-color="#b2b2ff"/><stop offset="0.45" stop-color="#c2c2ff"/><stop offset="0.5" stop-color="#d2d2ff"/><stop offset="0.55" stop-color="#e1e1ff"/><stop offset="0.6" stop-color="#eeeeff"/><stop offset="0.65" stop-color="#fbfbff"/><stop offset="0.6686" stop-color="#ffffff"/><stop offset="0.7" stop-color="#fff8f8"/><stop offset="0.75" stop-color="#ffeeee"/><stop offset="0.8" stop-color="#ffe5e5"/><stop offset="0.85" stop-color="#ffdddd"/><stop offset="0.9" stop-color="#ffd7d7"/><stop offset="0.95" stop-color="#ffd3d3"/><stop offset="1" stop-color="#ffd1d1"/></linearGradient><linearGradient id="d28" gradientUnits="userSpaceOnUse" x1="959.10" x2="1165.60" y1="0" y2="0" spreadMethod="reflect"><stop offset="0" stop-color="#7070ff"/><stop offset="0.05" stop-color="#7171ff"/><stop offset="0.1" stop-color="#7474ff"/><stop offset="0.15" stop-color="#7979ff"/><stop offset="0.2" stop-color="#8080ff"/><stop offset="0.25" stop-color="#8a8aff"/><stop offset="0.3" stop-color="#9797ff"/><stop offset="0.35" stop-color="#a6a6ff"/><stop offset="0.4" stop-color="#b6b6ff"/><stop offset="0.45" stop-color="#c6c6ff"/><stop offset="0.5" stop-color="#d6d6ff"/><stop offset="0.55" stop-color="#e5e5ff"/><stop offset="0.6" stop-color="#f3f3ff"/><stop offset="0.6467" stop-color="#ffffff"/><stop offset="0.65" stop-color="#fffefe"/><stop offset="0.7" stop-color="#fff3f3"/><stop offset="0.75" stop-color="#ffe9e9"/><stop offset="0.8" stop-color="#ffdfdf"/><stop offset="0.85" stop-color="#ffd7d7"/><stop offset="0.9" stop-color="#ffd1d1"/><stop offset="0.95" stop-color="#ffcdcd"/><stop offset="1" stop-color="#ffcccc"/></linearGradient><linearGradient id="d29" gradientUnits="userSpaceOnUse" x1="959.10" x2="1165.60" y1="0" y2="0" spreadMethod="reflect"><stop offset="0" stop-color="#7272ff"/><stop offset="0.05" stop-color="#7373ff"/><stop offset="0.1" stop-color="#7676ff"/><stop offset="0.15" stop-color="#7b7bff"/><stop offset="0.2" stop-color="#8383ff"/><stop offset="0.25" stop-color="#8e8eff"/><stop offset="0.3" stop-color="#9b9bff"/><stop offset="0.35" stop-color="#aaaaff"/><stop offset="0.4" stop-color="#babaff"/><stop offset="0.45" stop-color="#cbcbff"/><stop offset="0.5" stop-color="#dbdbff"/><stop offset="0.55" stop-color="#eaeaff"/><stop offset="0.6" stop-color="#f8f8ff"/><stop offset="0.6264" stop-color="#ffffff"/><stop offset="0.65" stop-color="#fff9f9"/><stop offset="0.7" stop-color="#ffeeee"/><stop offset="0.75" stop-color="#ffe3e3"/><stop offset="0.8" stop-color="#ffdada"/><stop offset="0.85" stop-color="#ffd2d2"/><stop offset="0.9" stop-color="#ffcbcb"/><stop offset="0.95" stop-color="#ffc7c7"/><stop offset="1" stop-color="#ffc6c6"/></linearGradient><linearGradient id="d30" gradientUnits="userSpaceOnUse" x1="959.10" x2="1165.60" y1="0" y2="0" spreadMethod="reflect"><stop offset="0" stop-color="#7474ff"/><stop offset="0.05" stop-color="#7575ff"/><stop offset="0.1" stop-color="#7878ff"/><stop offset="0.15" stop-color="#7e7eff"/><stop offset="0.2" stop-color="#8686ff"/><stop offset="0.25" stop-color="#9191ff"/><stop offset="0.3" stop-color="#9f9fff"/><stop offset="0.35" stop-color="#aeaeff"/><stop offset="0.4" stop-color="#bebeff"/><stop offset="0.45" stop-color="#cfcfff"/><stop offset="0.5" stop-color="#dfdfff"/><stop offset="0.55" stop-color="#efefff"/><stop offset="0.6" stop-color="#fdfdff"/><stop offset="0.6073" stop-color="#ffffff"/><stop offset="0.65" stop-color="#fff4f4"/><stop offset="0.7" stop-color="#ffe8e8"/><stop offset="0.75" stop-color="#ffdede"/><stop offset="0.8" stop-color="#ffd4d4"/><stop offset="0.85" stop-color="#ffcccc"/><stop offset="0.9" stop-color="#ffc6c6"/><stop offset="0.95" stop-color="#ffc2c2"/><stop offset="1" stop-color="#ffc1c1"/></linearGradient><linearGradient id="d31" gradientUnits="userSpaceOnUse" x1="959.10" x2="1165.60" y1="0" y2="0" spreadMethod="reflect"><stop offset="0" stop-color="#7676ff"/><stop offset="0.05" stop-color="#7777ff"/><stop offset="0.1" stop-color="#7b7bff"/><stop offset="0.15" stop-color="#8181ff"/><stop offset="0.2" stop-color="#8a8aff"/><stop offset="0.25" stop-color="#9595ff"/><stop offset="0.3" stop-color="#a3a3ff"/><stop offset="0.35" stop-color="#b2b2ff"/><stop offset="0.4" stop-color="#c3c3ff"/><stop offset="0.45" stop-color="#d4d4ff"/><stop offset="0.5" stop-color="#e4e4ff"/><stop offset="0.55" stop-color="#f4f4ff"/><stop offset="0.5894" stop-color="#ffffff"/><stop offset="0.6" stop-color="#fffcfc"/><stop offset="0.65" stop-color="#ffefef"/><stop offset="0.7" stop-color="#ffe3e3"/><stop offset="0.75" stop-color="#ffd8d8"/><stop offset="0.8" stop-color="#ffcece"/><stop offset="0.85" stop-color="#ffc6c6"/><stop offset="0.9" stop-color="#ffc0c0"/><stop offset="0.95" stop-color="#ffbcbc"/><stop offset="1" stop-color="#ffbbbb"/></linearGradient><linearGradient id="d32" gradientUnits="userSpaceOnUse" x1="959.10" x2="1165.60" y1="0" y2="0" spreadMethod="reflect"><stop offset="0" stop-color="#7878ff"/><stop offset="0.05" stop-color="#7a7aff"/><stop offset="0.1" stop-color="#7e7eff"/><stop offset="0.15" stop-color="#8484ff"/><stop offset="0.2" stop-color="#8d8dff"/><stop offset="0.25" stop-color="#9999ff"/><stop offset="0.3" stop-color="#a7a7ff"/><stop offset="0.35" stop-color="#b7b7ff"/><stop offset="0.4" stop-color="#c7c7ff"/><stop offset="0.45" stop-color="#d8d8ff"/><stop offset="0.5" stop-color="#e9e9ff"/><stop offset="0.55" stop-color="#f8f8ff"/><stop offset="0.5721" stop-color="#ffffff"/><stop offset="0.6" stop-color="#fff7f7"/><stop offset="0.65" stop-color="#ffeaea"/><stop offset="0.7" stop-color="#ffdede"/><stop offset="0.75" stop-color="#ffd3d3"/><stop offset="0.8" stop-color="#ffc9c9"/><stop offset="0.85" stop-color="#ffc1c1"/><stop offset="0.9" stop-color="#ffbbbb"/><stop offset="0.95" stop-color="#ffb7b7"/><stop offset="1" stop-color="#ffb5b5"/></linearGradient><linearGradient id="d33" gradientUnits="userSpaceOnUse" x1="959.10" x2="1165.60" y1="0" y2="0" spreadMethod="reflect"><stop offset="0" stop-color="#7c7cff"/><stop offset="0.05" stop-color="#7d7dff"/><stop offset="0.1" stop-color="#8181ff"/><stop offset="0.15" stop-color="#8888ff"/><stop offset="0.2" stop-color="#9191ff"/><stop offset="0.25" stop-color="#9d9dff"/><stop offset="0.3" stop-color="#ababff"/><stop offset="0.35" stop-color="#bbbbff"/><stop offset="0.4" stop-color="#ccccff"/><stop offset="0.45" stop-color="#ddddff"/><stop offset="0.5" stop-color="#eeeeff"/><stop offset="0.55" stop-color="#fdfdff"/><stop offset="0.5553" stop-color="#ffffff"/><stop offset="0.6" stop-color="#fff2f2"/><stop offset="0.65" stop-color="#ffe5e5"/><stop offset="0.7" stop-color="#ffd8d8"/><stop offset="0.75" stop-color="#ffcdcd"/><stop offset="0.8" stop-color="#ffc4c4"/><stop offset="0.85" stop-color="#ffbcbc"/><stop offset="0.9" stop-color="#ffb5b5"/><stop offset="0.95" stop-color="#ffb2b2"/><stop offset="1" stop-color="#ffb0b0"/></linearGradient><linearGradient id="d34" gradientUnits="userSpaceOnUse" x1="959.10" x2="1165.60" y1="0" y2="0" spreadMethod="reflect"><stop offset="0" stop-color="#7f7fff"/><stop offset="0.05" stop-color="#8181ff"/><stop offset="0.1" stop-color="#8585ff"/><stop offset="0.15" stop-color="#8c8cff"/><stop offset="0.2" stop-color="#9595ff"/><stop offset="0.25" stop-color="#a2a2ff"/><stop offset="0.3" stop-color="#b0b0ff"/><stop offset="0.35" stop-color="#c0c0ff"/><stop offset="0.4" stop-color="#d1d1ff"/><stop offset="0.45" stop-color="#e2e2ff"/><stop offset="0.5" stop-color="#f3f3ff"/><stop offset="0.5386" stop-color="#ffffff"/><stop offset="0.55" stop-color="#fffcfc"/><stop offset="0.6" stop-color="#ffeded"/><stop offset="0.65" stop-color="#ffe0e0"/><stop offset="0.7" stop-color="#ffd3d3"/><stop offset="0.75" stop-color="#ffc8c8"/><stop offset="0.8" stop-color="#ffbfbf"/><stop offset="0.85" stop-color="#ffb7b7"/><stop offset="0.9" stop-color="#ffb0b0"/><stop offset="0.95" stop-color="#ffacac"/><stop offset="1" stop-color="#ffabab"/></linearGradient><linearGradient id="d35" gradientUnits="userSpaceOnUse" x1="959.10" x2="1165.60" y1="0" y2="0" spreadMethod="reflect"><stop offset="0" stop-color="#8484ff"/><stop offset="0.05" stop-color="#8585ff"/><stop offset="0.1" stop-color="#8989ff"/><stop offset="0.15" stop-color="#9090ff"/><stop offset="0.2" stop-color="#9a9aff"/><stop offset="0.25" stop-color="#a6a6ff"/><stop offset="0.3" stop-color="#b5b5ff"/><stop offset="0.35" stop-color="#c5c5ff"/><stop offset="0.4" stop-color="#d6d6ff"/><stop offset="0.45" stop-color="#e7e7ff"/><stop offset="0.5" stop-color="#f8f8ff"/><stop offset="0.522" stop-color="#ffffff"/><stop offset="0.55" stop-color="#fff6f6"/><stop offset="0.6" stop-color="#ffe8e8"/><stop offset="0.65" stop-color="#ffdada"/><stop offset="0.7" stop-color="#ffcece"/><stop offset="0.75" stop-color="#ffc3c3"/><stop offset="0.8" stop-color="#ffbaba"/><stop offset="0.85" stop-color="#ffb2b2"/><stop offset="0.9" stop-color="#ffacac"/><stop offset="0.95" stop-color="#ffa8a8"/><stop offset="1" stop-color="#ffa6a6"/></linearGradient><linearGradient id="d36" gradientUnits="userSpaceOnUse" x1="959.10" x2="1165.60" y1="0" y2="0" spreadMethod="reflect"><stop offset="0" stop-color="#8888ff"/><stop offset="0.05" stop-color="#8a8aff"/><stop offset="0.1" stop-color="#8e8eff"/><stop offset="0.15" stop-color="#9595ff"/><stop offset="0.2" stop-color="#9f9fff"/><stop offset="0.25" stop-color="#ababff"/><stop offset="0.3" stop-color="#babaff"/><stop offset="0.35" stop-color="#cacaff"/><stop offset="0.4" stop-color="#dbdbff"/><stop offset="0.45" stop-color="#ededff"/><stop offset="0.5" stop-color="#fdfdff"/><stop offset="0.5052" stop-color="#ffffff"/><stop offset="0.55" stop-color="#fff1f1"/><stop offset="0.6" stop-color="#ffe3e3"/><stop offset="0.65" stop-color="#ffd6d6"/><stop offset="0.7" stop-color="#ffcaca"/><stop offset="0.75" stop-color="#ffbfbf"/><stop offset="0.8" stop-color="#ffb5b5"/><stop offset="0.85" stop-color="#ffadad"/><stop offset="0.9" stop-color="#ffa7a7"/><stop offset="0.95" stop-color="#ffa3a3"/><stop offset="1" stop-color="#ffa2a2"/></linearGradient><linearGradient id="d37" gradientUnits="userSpaceOnUse" x1="959.10" x2="1165.60" y1="0" y2="0" spreadMethod="reflect"><stop offset="0" stop-color="#8e8eff"/><stop offset="0.05" stop-color="#8f8fff"/><stop offset="0.1" stop-color="#9393ff"/><stop offset="0.15" stop-color="#9a9aff"/><stop offset="0.2" stop-color="#a4a4ff"/><stop offset="0.25" stop-color="#b1b1ff"/><stop offset="0.3" stop-color="#bfbfff"/><stop offset="0.35" stop-color="#d0d0ff"/><stop offset="0.4" stop-color="#e1e1ff"/><stop offset="0.45" stop-color="#f2f2ff"/><stop offset="0.4884" stop-color="#ffffff"/><stop offset="0.5" stop-color="#fffbfb"/><stop offset="0.55" stop-color="#ffecec"/><stop offset="0.6" stop-color="#ffdede"/><stop offset="0.65" stop-color="#ffd1d1"/><stop offset="0.7" stop-color="#ffc5c5"/><stop offset="0.75" stop-color="#ffbbbb"/><stop offset="0.8" stop-color="#ffb1b1"/><stop offset="0.85" stop-color="#ffa9a9"/><stop offset="0.9" stop-color="#ffa3a3"/><stop offset="0.95" stop-color="#ff9f9f"/><stop offset="1" stop-color="#ff9e9e"/></linearGradient><linearGradient id="d38" gradientUnits="userSpaceOnUse" x1="959.10" x2="1165.60" y1="0" y2="0" spreadMethod="reflect"><stop offset="0" stop-color="#9393ff"/><stop offset="0.05" stop-color="#9595ff"/><stop offset="0.1" stop-color="#9999ff"/><stop offset="0.15" stop-color="#a0a0ff"/><stop offset="0.2" stop-color="#aaaaff"/><stop offset="0.25" stop-color="#b6b6ff"/><stop offset="0.3" stop-color="#c5c5ff"/><stop offset="0.35" stop-color="#d5d5ff"/><stop offset="0.4" stop-color="#e6e6ff"/><stop offset="0.45" stop-color="#f8f8ff"/><stop offset="0.4717" stop-color="#ffffff"/><stop offset="0.5" stop-color="#fff6f6"/><stop offset="0.55" stop-color="#ffe6e6"/><stop offset="0.6" stop-color="#ffd9d9"/><stop offset="0.65" stop-color="#ffcccc"/><stop offset="0.7" stop-color="#ffc1c1"/><stop offset="0.75" stop-color="#ffb7b7"/><stop offset="0.8" stop-color="#ffadad"/><stop offset="0.85" stop-color="#ffa6a6"/><stop offset="0.9" stop-color="#ffa0a0"/><stop offset="0.95" stop-color="#ff9c9c"/><stop offset="1" stop-color="#ff9a9a"/></linearGradient><linearGradient id="d39" gradientUnits="userSpaceOnUse" x1="959.10" x2="1165.60" y1="0" y2="0" spreadMethod="reflect"><stop offset="0" stop-color="#9a9aff"/><stop offset="0.05" stop-color="#9b9bff"/><stop offset="0.1" stop-color="#9f9fff"/><stop offset="0.15" stop-color="#a5a5ff"/><stop offset="0.2" stop-color="#afafff"/><stop offset="0.25" stop-color="#bbbbff"/><stop offset="0.3" stop-color="#cacaff"/><stop offset="0.35" stop-color="#dbdbff"/><stop offset="0.4" stop-color="#ececff"/><stop offset="0.45" stop-color="#fdfdff"/><stop offset="0.4552" stop-color="#ffffff"/><stop offset="0.5" stop-color="#fff0f0"/><stop offset="0.55" stop-color="#ffe1e1"/><stop offset="0.6" stop-color="#ffd4d4"/><stop offset="0.65" stop-color="#ffc8c8"/><stop offset="0.7" stop-color="#ffbdbd"/><stop offset="0.75" stop-color="#ffb3b3"/><stop offset="0.8" stop-color="#ffaaaa"/><stop offset="0.85" stop-color="#ffa2a2"/><stop offset="0.9" stop-color="#ff9c9c"/><stop offset="0.95" stop-color="#ff9898"/><stop offset="1" stop-color="#ff9797"/></linearGradient><linearGradient id="d40" gradientUnits="userSpaceOnUse" x1="959.10" x2="1165.60" y1="0" y2="0" spreadMethod="reflect"><stop offset="0" stop-color="#a0a0ff"/><stop offset="0.05" stop-color="#a1a1ff"/><stop offset="0.1" stop-color="#a5a5ff"/><stop offset="0.15" stop-color="#ababff"/><stop offset="0.2" stop-color="#b5b5ff"/><stop offset="0.25" stop-color="#c1c1ff"/><stop offset="0.3" stop-color="#cfcfff"/><stop offset="0.35" stop-color="#e0e0ff"/><stop offset="0.4" stop-color="#f1f1ff"/><stop offset="0.4391" stop-color="#ffffff"/><stop offset="0.45" stop-color="#fffbfb"/><stop offset="0.5" stop-color="#ffebeb"/><stop offset="0.55" stop-color="#ffdcdc"/><stop offset="0.6" stop-color="#ffcfcf"/><stop offset="0.65" stop-color="#ffc3c3"/><stop offset="0.7" stop-color="#ffb9b9"/><stop offset="0.75" stop-color="#ffb0b0"/><stop offset="0.8" stop-color="#ffa7a7"/><stop offset="0.85" stop-color="#ffa0a0"/><stop offset="0.9" stop-color="#ff9a9a"/><stop offset="0.95" stop-color="#ff9696"/><stop offset="1" stop-color="#ff9494"/></linearGradient><linearGradient id="d41" gradientUnits="userSpaceOnUse" x1="959.10" x2="1165.60" y1="0" y2="0" spreadMethod="reflect"><stop offset="0" stop-color="#a6a6ff"/><stop offset="0.05" stop-color="#a7a7ff"/><stop offset="0.1" stop-color="#ababff"/><stop offset="0.15" stop-color="#b1b1ff"/><stop offset="0.2" stop-color="#babaff"/><stop offset="0.25" stop-color="#c6c6ff"/><stop offset="0.3" stop-color="#d5d5ff"/><stop offset="0.35" stop-color="#e5e5ff"/><stop offset="0.4" stop-color="#f7f7ff"/><stop offset="0.4237" stop-color="#ffffff"/><stop offset="0.45" stop-color="#fff6f6"/><stop offset="0.5" stop-color="#ffe6e6"/><stop offset="0.55" stop-color="#ffd7d7"/><stop offset="0.6" stop-color="#ffcbcb"/><stop offset="0.65" stop-color="#ffbfbf"/><stop offset="0.7" stop-color="#ffb6b6"/><stop offset="0.75" stop-color="#ffadad"/><stop offset="0.8" stop-color="#ffa4a4"/><stop offset="0.85" stop-color="#ff9d9d"/><stop offset="0.9" stop-color="#ff9797"/><stop offset="0.95" stop-color="#ff9393"/><stop offset="1" stop-color="#ff9292"/></linearGradient><linearGradient id="d42" gradientUnits="userSpaceOnUse" x1="959.10" x2="1165.60" y1="0" y2="0" spreadMethod="reflect"><stop offset="0" stop-color="#adadff"/><stop offset="0.05" stop-color="#aeaeff"/><stop offset="0.1" stop-color="#b1b1ff"/><stop offset="0.15" stop-color="#b7b7ff"/><stop offset="0.2" stop-color="#bfbfff"/><stop offset="0.25" stop-color="#cbcbff"/><stop offset="0.3" stop-color="#dadaff"/><stop offset="0.35" stop-color="#eaeaff"/><stop offset="0.4" stop-color="#fcfcff"/><stop offset="0.4092" stop-color="#ffffff"/><stop offset="0.45" stop-color="#fff1f1"/><stop offset="0.5" stop-color="#ffe1e1"/><stop offset="0.55" stop-color="#ffd3d3"/><stop offset="0.6" stop-color="#ffc6c6"/><stop offset="0.65" stop-color="#ffbcbc"/><stop offset="0.7" stop-color="#ffb3b3"/><stop offset="0.75" stop-color="#ffaaaa"/><stop offset="0.8" stop-color="#ffa2a2"/><stop offset="0.85" stop-color="#ff9b9b"/><stop offset="0.9" stop-color="#ff9595"/><stop offset="0.95" stop-color="#ff9191"/><stop offset="1" stop-color="#ff9090"/></linearGradient><linearGradient id="d43" gradientUnits="userSpaceOnUse" x1="959.10" x2="1165.60" y1="0" y2="0" spreadMethod="reflect"><stop offset="0" stop-color="#b3b3ff"/><stop offset="0.05" stop-color="#b4b4ff"/><stop offset="0.1" stop-color="#b6b6ff"/><stop offset="0.15" stop-color="#bcbcff"/><stop offset="0.2" stop-color="#c4c4ff"/><stop offset="0.25" stop-color="#d0d0ff"/><stop offset="0.3" stop-color="#dedeff"/><stop offset="0.35" stop-color="#efefff"/><stop offset="0.396" stop-color="#ffffff"/><stop offset="0.4" stop-color="#fffefe"/><stop offset="0.45" stop-color="#ffecec"/><stop offset="0.5" stop-color="#ffdcdc"/><stop offset="0.55" stop-color="#ffcece"/><stop offset="0.6" stop-color="#ffc2c2"/><stop offset="0.65" stop-color="#ffb9b9"/><stop offset="0.7" stop-color="#ffb0b0"/><stop offset="0.75" stop-color="#ffa8a8"/><stop offset="0.8" stop-color="#ffa0a0"/><stop offset="0.85" stop-color="#ff9999"/><stop offset="0.9" stop-color="#ff9494"/><stop offset="0.95" stop-color="#ff9090"/><stop offset="1" stop-color="#ff8e8e"/></linearGradient><linearGradient id="d44" gradientUnits="userSpaceOnUse" x1="959.10" x2="1165.60" y1="0" y2="0" spreadMethod="reflect"><stop offset="0" stop-color="#b8b8ff"/><stop offset="0.05" stop-color="#b9b9ff"/><stop offset="0.1" stop-color="#bcbcff"/><stop offset="0.15" stop-color="#c1c1ff"/><stop offset="0.2" stop-color="#c9c9ff"/><stop offset="0.25" stop-color="#d4d4ff"/><stop offset="0.3" stop-color="#e2e2ff"/><stop offset="0.35" stop-color="#f3f3ff"/><stop offset="0.3841" stop-color="#ffffff"/><stop offset="0.4" stop-color="#fff9f9"/><stop offset="0.45" stop-color="#ffe8e8"/><stop offset="0.5" stop-color="#ffd8d8"/><stop offset="0.55" stop-color="#ffcaca"/><stop offset="0.6" stop-color="#ffbfbf"/><stop offset="0.65" stop-color="#ffb6b6"/><stop offset="0.7" stop-color="#ffadad"/><stop offset="0.75" stop-color="#ffa6a6"/><stop offset="0.8" stop-color="#ff9f9f"/><stop offset="0.85" stop-color="#ff9898"/><stop offset="0.9" stop-color="#ff9292"/><stop offset="0.95" stop-color="#ff8e8e"/><stop offset="1" stop-color="#ff8d8d"/></linearGradient><linearGradient id="d45" gradientUnits="userSpaceOnUse" x1="959.10" x2="1165.60" y1="0" y2="0" spreadMethod="reflect"><stop offset="0" stop-color="#bdbdff"/><stop offset="0.05" stop-color="#bebeff"/><stop offset="0.1" stop-color="#c0c0ff"/><stop offset="0.15" stop-color="#c5c5ff"/><stop offset="0.2" stop-color="#cdcdff"/><stop offset="0.25" stop-color="#d8d8ff"/><stop offset="0.3" stop-color="#e6e6ff"/><stop offset="0.35" stop-color="#f7f7ff"/><stop offset="0.3737" stop-color="#ffffff"/><stop offset="0.4" stop-color="#fff6f6"/><stop offset="0.45" stop-color="#ffe4e4"/><stop offset="0.5" stop-color="#ffd4d4"/><stop offset="0.55" stop-color="#ffc7c7"/><stop offset="0.6" stop-color="#ffbcbc"/><stop offset="0.65" stop-color="#ffb3b3"/><stop offset="0.7" stop-color="#ffacac"/><stop offset="0.75" stop-color="#ffa4a4"/><stop offset="0.8" stop-color="#ff9d9d"/><stop offset="0.85" stop-color="#ff9797"/><stop offset="0.9" stop-color="#ff9191"/><stop offset="0.95" stop-color="#ff8e8e"/><stop offset="1" stop-color="#ff8c8c"/></linearGradient><linearGradient id="d46" gradientUnits="userSpaceOnUse" x1="959.10" x2="1165.60" y1="0" y2="0" spreadMethod="reflect"><stop offset="0" stop-color="#c1c1ff"/><stop offset="0.05" stop-color="#c2c2ff"/><stop offset="0.1" stop-color="#c4c4ff"/><stop offset="0.15" stop-color="#c9c9ff"/><stop offset="0.2" stop-color="#d0d0ff"/><stop offset="0.25" stop-color="#dbdbff"/><stop offset="0.3" stop-color="#e9e9ff"/><stop offset="0.35" stop-color="#fafaff"/><stop offset="0.3651" stop-color="#ffffff"/><stop offset="0.4" stop-color="#fff3f3"/><stop offset="0.45" stop-color="#ffe1e1"/><stop offset="0.5" stop-color="#ffd1d1"/><stop offset="0.55" stop-color="#ffc4c4"/><stop offset="0.6" stop-color="#ffbaba"/><stop offset="0.65" stop-color="#ffb1b1"/><stop offset="0.7" stop-color="#ffaaaa"/><stop offset="0.75" stop-color="#ffa3a3"/><stop offset="0.8" stop-color="#ff9c9c"/><stop offset="0.85" stop-color="#ff9696"/><stop offset="0.9" stop-color="#ff9191"/><stop offset="0.95" stop-color="#ff8d8d"/><stop offset="1" stop-color="#ff8b8b"/></linearGradient><linearGradient id="d47" gradientUnits="userSpaceOnUse" x1="959.10" x2="1165.60" y1="0" y2="0" spreadMethod="reflect"><stop offset="0" stop-color="#c5c5ff"/><stop offset="0.05" stop-color="#c5c5ff"/><stop offset="0.1" stop-color="#c7c7ff"/><stop offset="0.15" stop-color="#cbcbff"/><stop offset="0.2" stop-color="#d3d3ff"/><stop offset="0.25" stop-color="#ddddff"/><stop offset="0.3" stop-color="#ebebff"/><stop offset="0.35" stop-color="#fcfcff"/><stop offset="0.3585" stop-color="#ffffff"/><stop offset="0.4" stop-color="#fff0f0"/><stop offset="0.45" stop-color="#ffdfdf"/><stop offset="0.5" stop-color="#ffcfcf"/><stop offset="0.55" stop-color="#ffc2c2"/><stop offset="0.6" stop-color="#ffb8b8"/><stop offset="0.65" stop-color="#ffb0b0"/><stop offset="0.7" stop-color="#ffa9a9"/><stop offset="0.75" stop-color="#ffa2a2"/><stop offset="0.8" stop-color="#ff9c9c"/><stop offset="0.85" stop-color="#ff9595"/><stop offset="0.9" stop-color="#ff9090"/><stop offset="0.95" stop-color="#ff8c8c"/><stop offset="1" stop-color="#ff8b8b"/></linearGradient><linearGradient id="d48" gradientUnits="userSpaceOnUse" x1="959.10" x2="1165.60" y1="0" y2="0" spreadMethod="reflect"><stop offset="0" stop-color="#c7c7ff"/><stop offset="0.05" stop-color="#c7c7ff"/><stop offset="0.1" stop-color="#c9c9ff"/><stop offset="0.15" stop-color="#cdcdff"/><stop offset="0.2" stop-color="#d4d4ff"/><stop offset="0.25" stop-color="#dfdfff"/><stop offset="0.3" stop-color="#ededff"/><stop offset="0.35" stop-color="#fefeff"/><stop offset="0.354" stop-color="#ffffff"/><stop offset="0.4" stop-color="#ffefef"/><stop offset="0.45" stop-color="#ffdddd"/><stop offset="0.5" stop-color="#ffcece"/><stop offset="0.55" stop-color="#ffc1c1"/><stop offset="0.6" stop-color="#ffb7b7"/><stop offset="0.65" stop-color="#ffafaf"/><stop offset="0.7" stop-color="#ffa8a8"/><stop offset="0.75" stop-color="#ffa2a2"/><stop offset="0.8" stop-color="#ff9b9b"/><stop offset="0.85" stop-color="#ff9595"/><stop offset="0.9" stop-color="#ff9090"/><stop offset="0.95" stop-color="#ff8c8c"/><stop offset="1" stop-color="#ff8b8b"/></linearGradient><linearGradient id="d49" gradientUnits="userSpaceOnUse" x1="959.10" x2="1165.60" y1="0" y2="0" spreadMethod="reflect"><stop offset="0" stop-color="#c8c8ff"/><stop offset="0.05" stop-color="#c8c8ff"/><stop offset="0.1" stop-color="#cacaff"/><stop offset="0.15" stop-color="#ceceff"/><stop offset="0.2" stop-color="#d5d5ff"/><stop offset="0.25" stop-color="#e0e0ff"/><stop offset="0.3" stop-color="#eeeeff"/><stop offset="0.35" stop-color="#fefeff"/><stop offset="0.3517" stop-color="#ffffff"/><stop offset="0.4" stop-color="#ffeeee"/><stop offset="0.45" stop-color="#ffdcdc"/><stop offset="0.5" stop-color="#ffcdcd"/><stop offset="0.55" stop-color="#ffc0c0"/><stop offset="0.6" stop-color="#ffb6b6"/><stop offset="0.65" stop-color="#ffaeae"/><stop offset="0.7" stop-color="#ffa8a8"/><stop offset="0.75" stop-color="#ffa1a1"/><stop offset="0.8" stop-color="#ff9b9b"/><stop offset="0.85" stop-color="#ff9595"/><stop offset="0.9" stop-color="#ff9090"/><stop offset="0.95" stop-color="#ff8c8c"/><stop offset="1" stop-color="#ff8a8a"/></linearGradient><linearGradient id="cb" x1="0" y1="0" x2="0" y2="1"><stop offset="0" stop-color="#f00"/><stop offset=".5" stop-color="#fff"/><stop offset="1" stop-color="#00f"/></linearGradient></defs><path d="M258.5 539.6v-7M258.5 18.5v7M388.7 539.6v-7M388.7 18.5v7M519.0 539.6v-7M519.0 18.5v7M128.2 465.2h7M649.3 465.2h-7M128.2 390.7h7M649.3 390.7h-7M128.2 316.3h7M649.3 316.3h-7M128.2 241.8h7M649.3 241.8h-7M128.2 167.4h7M649.3 167.4h-7M128.2 92.9h7M649.3 92.9h-7" stroke="#222" stroke-width="1.1" fill="none"/>
<rect x="128.2" y="18.5" width="521.1" height="521.1" fill="none" stroke="#111" stroke-width="1.7"/>
<path d="M462.6 489.0v-3M462.6 293.8v3M511.4 489.0v-3M511.4 293.8v3M560.2 489.0v-3M560.2 293.8v3M413.7 450.0h3M609.1 450.0h-3M413.7 410.9h3M609.1 410.9h-3M413.7 371.9h3M609.1 371.9h-3M413.7 332.8h3M609.1 332.8h-3" stroke="#222" stroke-width="1" fill="none"/>
<rect x="413.7" y="293.8" width="195.4" height="195.2" fill="none" stroke="#000" stroke-width="1.6"/>
<polyline points="413.6,367.7 438.1,371.9 462.2,414 486.7,378.6 511.4,314.8 535.9,359.2 560,380.5 584.3,330.7 602.4,299.5 609.2,293.7" fill="none" stroke="#ff0000" stroke-width="2" stroke-linejoin="round"/>
<g fill="#ff0000"><circle cx="413.6" cy="367.7" r="2.8"/><circle cx="438.1" cy="371.9" r="2.8"/><circle cx="462.2" cy="414" r="2.8"/><circle cx="486.7" cy="378.6" r="2.8"/><circle cx="511.4" cy="314.8" r="2.8"/><circle cx="535.9" cy="359.2" r="2.8"/><circle cx="560" cy="380.5" r="2.8"/><circle cx="584.3" cy="330.7" r="2.8"/><circle cx="602.4" cy="299.5" r="2.8"/><circle cx="609.2" cy="293.7" r="2.8"/></g>
<polyline points="128.1,264.4 190.6,296.8 263.6,468.4 326,235.6 388.5,144.1 451,200 513.4,269.7 586.3,249.9 649.3,23" fill="none" stroke="#ff0000" stroke-width="6.4" stroke-linejoin="round"/>
<g fill="#ff0000"><circle cx="128.1" cy="264.4" r="7.1"/><circle cx="190.6" cy="296.8" r="7.1"/><circle cx="263.6" cy="468.4" r="7.1"/><circle cx="326" cy="235.6" r="7.1"/><circle cx="388.5" cy="144.1" r="7.1"/><circle cx="451" cy="200" r="7.1"/><circle cx="513.4" cy="269.7" r="7.1"/><circle cx="586.3" cy="249.9" r="7.1"/><circle cx="649.3" cy="23" r="7.1"/></g>
<g shape-rendering="crispEdges"><rect x="787.00" y="98.60" width="412.80" height="4.83" fill="url(#b0)"/><rect x="787.00" y="506.97" width="412.80" height="4.83" fill="url(#b0)"/><rect x="787.00" y="102.73" width="412.80" height="4.83" fill="url(#b1)"/><rect x="787.00" y="502.84" width="412.80" height="4.83" fill="url(#b1)"/><rect x="787.00" y="106.86" width="412.80" height="4.83" fill="url(#b2)"/><rect x="787.00" y="498.70" width="412.80" height="4.83" fill="url(#b2)"/><rect x="787.00" y="111.00" width="412.80" height="4.83" fill="url(#b3)"/><rect x="787.00" y="494.57" width="412.80" height="4.83" fill="url(#b3)"/><rect x="787.00" y="115.13" width="412.80" height="4.83" fill="url(#b4)"/><rect x="787.00" y="490.44" width="412.80" height="4.83" fill="url(#b4)"/><rect x="787.00" y="119.26" width="412.80" height="4.83" fill="url(#b5)"/><rect x="787.00" y="486.31" width="412.80" height="4.83" fill="url(#b5)"/><rect x="787.00" y="123.39" width="412.80" height="4.83" fill="url(#b6)"/><rect x="787.00" y="482.18" width="412.80" height="4.83" fill="url(#b6)"/><rect x="787.00" y="127.52" width="412.80" height="4.83" fill="url(#b7)"/><rect x="787.00" y="478.04" width="412.80" height="4.83" fill="url(#b7)"/><rect x="787.00" y="131.66" width="412.80" height="4.83" fill="url(#b8)"/><rect x="787.00" y="473.91" width="412.80" height="4.83" fill="url(#b8)"/><rect x="787.00" y="135.79" width="412.80" height="4.83" fill="url(#b9)"/><rect x="787.00" y="469.78" width="412.80" height="4.83" fill="url(#b9)"/><rect x="787.00" y="139.92" width="412.80" height="4.83" fill="url(#b10)"/><rect x="787.00" y="465.65" width="412.80" height="4.83" fill="url(#b10)"/><rect x="787.00" y="144.05" width="412.80" height="4.83" fill="url(#b11)"/><rect x="787.00" y="461.52" width="412.80" height="4.83" fill="url(#b11)"/><rect x="787.00" y="148.18" width="412.80" height="4.83" fill="url(#b12)"/><rect x="787.00" y="457.38" width="412.80" height="4.83" fill="url(#b12)"/><rect x="787.00" y="152.32" width="412.80" height="4.83" fill="url(#b13)"/><rect x="787.00" y="453.25" width="412.80" height="4.83" fill="url(#b13)"/><rect x="787.00" y="156.45" width="412.80" height="4.83" fill="url(#b14)"/><rect x="787.00" y="449.12" width="412.80" height="4.83" fill="url(#b14)"/><rect x="787.00" y="160.58" width="412.80" height="4.83" fill="url(#b15)"/><rect x="787.00" y="444.99" width="412.80" height="4.83" fill="url(#b15)"/><rect x="787.00" y="164.71" width="412.80" height="4.83" fill="url(#b16)"/><rect x="787.00" y="440.86" width="412.80" height="4.83" fill="url(#b16)"/><rect x="787.00" y="168.84" width="412.80" height="4.83" fill="url(#b17)"/><rect x="787.00" y="436.72" width="412.80" height="4.83" fill="url(#b17)"/><rect x="787.00" y="172.98" width="412.80" height="4.83" fill="url(#b18)"/><rect x="787.00" y="432.59" width="412.80" height="4.83" fill="url(#b18)"/><rect x="787.00" y="177.11" width="412.80" height="4.83" fill="url(#b19)"/><rect x="787.00" y="428.46" width="412.80" height="4.83" fill="url(#b19)"/><rect x="787.00" y="181.24" width="412.80" height="4.83" fill="url(#b20)"/><rect x="787.00" y="424.33" width="412.80" height="4.83" fill="url(#b20)"/><rect x="787.00" y="185.37" width="412.80" height="4.83" fill="url(#b21)"/><rect x="787.00" y="420.20" width="412.80" height="4.83" fill="url(#b21)"/><rect x="787.00" y="189.50" width="412.80" height="4.83" fill="url(#b22)"/><rect x="787.00" y="416.06" width="412.80" height="4.83" fill="url(#b22)"/><rect x="787.00" y="193.64" width="412.80" height="4.83" fill="url(#b23)"/><rect x="787.00" y="411.93" width="412.80" height="4.83" fill="url(#b23)"/><rect x="787.00" y="197.77" width="412.80" height="4.83" fill="url(#b24)"/><rect x="787.00" y="407.80" width="412.80" height="4.83" fill="url(#b24)"/><rect x="787.00" y="201.90" width="412.80" height="4.83" fill="url(#b25)"/><rect x="787.00" y="403.67" width="412.80" height="4.83" fill="url(#b25)"/><rect x="787.00" y="206.03" width="412.80" height="4.83" fill="url(#b26)"/><rect x="787.00" y="399.54" width="412.80" height="4.83" fill="url(#b26)"/><rect x="787.00" y="210.16" width="412.80" height="4.83" fill="url(#b27)"/><rect x="787.00" y="395.40" width="412.80" height="4.83" fill="url(#b27)"/><rect x="787.00" y="214.30" width="412.80" height="4.83" fill="url(#b28)"/><rect x="787.00" y="391.27" width="412.80" height="4.83" fill="url(#b28)"/><rect x="787.00" y="218.43" width="412.80" height="4.83" fill="url(#b29)"/><rect x="787.00" y="387.14" width="412.80" height="4.83" fill="url(#b29)"/><rect x="787.00" y="222.56" width="412.80" height="4.83" fill="url(#b30)"/><rect x="787.00" y="383.01" width="412.80" height="4.83" fill="url(#b30)"/><rect x="787.00" y="226.69" width="412.80" height="4.83" fill="url(#b31)"/><rect x="787.00" y="378.88" width="412.80" height="4.83" fill="url(#b31)"/><rect x="787.00" y="230.82" width="412.80" height="4.83" fill="url(#b32)"/><rect x="787.00" y="374.74" width="412.80" height="4.83" fill="url(#b32)"/><rect x="787.00" y="234.96" width="412.80" height="4.83" fill="url(#b33)"/><rect x="787.00" y="370.61" width="412.80" height="4.83" fill="url(#b33)"/><rect x="787.00" y="239.09" width="412.80" height="4.83" fill="url(#b34)"/><rect x="787.00" y="366.48" width="412.80" height="4.83" fill="url(#b34)"/><rect x="787.00" y="243.22" width="412.80" height="4.83" fill="url(#b35)"/><rect x="787.00" y="362.35" width="412.80" height="4.83" fill="url(#b35)"/><rect x="787.00" y="247.35" width="412.80" height="4.83" fill="url(#b36)"/><rect x="787.00" y="358.22" width="412.80" height="4.83" fill="url(#b36)"/><rect x="787.00" y="251.48" width="412.80" height="4.83" fill="url(#b37)"/><rect x="787.00" y="354.08" width="412.80" height="4.83" fill="url(#b37)"/><rect x="787.00" y="255.62" width="412.80" height="4.83" fill="url(#b38)"/><rect x="787.00" y="349.95" width="412.80" height="4.83" fill="url(#b38)"/><rect x="787.00" y="259.75" width="412.80" height="4.83" fill="url(#b39)"/><rect x="787.00" y="345.82" width="412.80" height="4.83" fill="url(#b39)"/><rect x="787.00" y="263.88" width="412.80" height="4.83" fill="url(#b40)"/><rect x="787.00" y="341.69" width="412.80" height="4.83" fill="url(#b40)"/><rect x="787.00" y="268.01" width="412.80" height="4.83" fill="url(#b41)"/><rect x="787.00" y="337.56" width="412.80" height="4.83" fill="url(#b41)"/><rect x="787.00" y="272.14" width="412.80" height="4.83" fill="url(#b42)"/><rect x="787.00" y="333.42" width="412.80" height="4.83" fill="url(#b42)"/><rect x="787.00" y="276.28" width="412.80" height="4.83" fill="url(#b43)"/><rect x="787.00" y="329.29" width="412.80" height="4.83" fill="url(#b43)"/><rect x="787.00" y="280.41" width="412.80" height="4.83" fill="url(#b44)"/><rect x="787.00" y="325.16" width="412.80" height="4.83" fill="url(#b44)"/><rect x="787.00" y="284.54" width="412.80" height="4.83" fill="url(#b45)"/><rect x="787.00" y="321.03" width="412.80" height="4.83" fill="url(#b45)"/><rect x="787.00" y="288.67" width="412.80" height="4.83" fill="url(#b46)"/><rect x="787.00" y="316.90" width="412.80" height="4.83" fill="url(#b46)"/><rect x="787.00" y="292.80" width="412.80" height="4.83" fill="url(#b47)"/><rect x="787.00" y="312.76" width="412.80" height="4.83" fill="url(#b47)"/><rect x="787.00" y="296.94" width="412.80" height="4.83" fill="url(#b48)"/><rect x="787.00" y="308.63" width="412.80" height="4.83" fill="url(#b48)"/><rect x="787.00" y="301.07" width="412.80" height="4.83" fill="url(#b49)"/><rect x="787.00" y="304.50" width="412.80" height="4.83" fill="url(#b49)"/></g>
<use href="#fs" transform="translate(787.00 98.60) scale(0.9995 1.0005)"/>
<path d="M993.4 98.6v11.5M993.4 511.8v-11.5M787.0 305.2h11.5M1199.8 305.2h-11.5" stroke="#000" stroke-width="1.5" fill="none"/>
<rect x="787.0" y="98.6" width="412.8" height="413.2" fill="none" stroke="#000" stroke-width="2"/>
<path d="M1173.7 134.8L1195.1000000000001 156H1181.1000000000001V316.6H1195.1000000000001L1173.7 337.8L1152.3 316.6H1166.3V156H1152.3Z" fill="#000"/>
<g shape-rendering="crispEdges"><rect x="165.10" y="772.50" width="413.50" height="4.83" fill="url(#c0)"/><rect x="165.10" y="1180.37" width="413.50" height="4.83" fill="url(#c0)"/><rect x="165.10" y="776.63" width="413.50" height="4.83" fill="url(#c1)"/><rect x="165.10" y="1176.25" width="413.50" height="4.83" fill="url(#c1)"/><rect x="165.10" y="780.75" width="413.50" height="4.83" fill="url(#c2)"/><rect x="165.10" y="1172.12" width="413.50" height="4.83" fill="url(#c2)"/><rect x="165.10" y="784.88" width="413.50" height="4.83" fill="url(#c3)"/><rect x="165.10" y="1167.99" width="413.50" height="4.83" fill="url(#c3)"/><rect x="165.10" y="789.01" width="413.50" height="4.83" fill="url(#c4)"/><rect x="165.10" y="1163.87" width="413.50" height="4.83" fill="url(#c4)"/><rect x="165.10" y="793.13" width="413.50" height="4.83" fill="url(#c5)"/><rect x="165.10" y="1159.74" width="413.50" height="4.83" fill="url(#c5)"/><rect x="165.10" y="797.26" width="413.50" height="4.83" fill="url(#c6)"/><rect x="165.10" y="1155.61" width="413.50" height="4.83" fill="url(#c6)"/><rect x="165.10" y="801.39" width="413.50" height="4.83" fill="url(#c7)"/><rect x="165.10" y="1151.48" width="413.50" height="4.83" fill="url(#c7)"/><rect x="165.10" y="805.52" width="413.50" height="4.83" fill="url(#c8)"/><rect x="165.10" y="1147.36" width="413.50" height="4.83" fill="url(#c8)"/><rect x="165.10" y="809.64" width="413.50" height="4.83" fill="url(#c9)"/><rect x="165.10" y="1143.23" width="413.50" height="4.83" fill="url(#c9)"/><rect x="165.10" y="813.77" width="413.50" height="4.83" fill="url(#c10)"/><rect x="165.10" y="1139.10" width="413.50" height="4.83" fill="url(#c10)"/><rect x="165.10" y="817.90" width="413.50" height="4.83" fill="url(#c11)"/><rect x="165.10" y="1134.98" width="413.50" height="4.83" fill="url(#c11)"/><rect x="165.10" y="822.02" width="413.50" height="4.83" fill="url(#c12)"/><rect x="165.10" y="1130.85" width="413.50" height="4.83" fill="url(#c12)"/><rect x="165.10" y="826.15" width="413.50" height="4.83" fill="url(#c13)"/><rect x="165.10" y="1126.72" width="413.50" height="4.83" fill="url(#c13)"/><rect x="165.10" y="830.28" width="413.50" height="4.83" fill="url(#c14)"/><rect x="165.10" y="1122.60" width="413.50" height="4.83" fill="url(#c14)"/><rect x="165.10" y="834.40" width="413.50" height="4.83" fill="url(#c15)"/><rect x="165.10" y="1118.47" width="413.50" height="4.83" fill="url(#c15)"/><rect x="165.10" y="838.53" width="413.50" height="4.83" fill="url(#c16)"/><rect x="165.10" y="1114.34" width="413.50" height="4.83" fill="url(#c16)"/><rect x="165.10" y="842.66" width="413.50" height="4.83" fill="url(#c17)"/><rect x="165.10" y="1110.21" width="413.50" height="4.83" fill="url(#c17)"/><rect x="165.10" y="846.79" width="413.50" height="4.83" fill="url(#c18)"/><rect x="165.10" y="1106.09" width="413.50" height="4.83" fill="url(#c18)"/><rect x="165.10" y="850.91" width="413.50" height="4.83" fill="url(#c19)"/><rect x="165.10" y="1101.96" width="413.50" height="4.83" fill="url(#c19)"/><rect x="165.10" y="855.04" width="413.50" height="4.83" fill="url(#c20)"/><rect x="165.10" y="1097.83" width="413.50" height="4.83" fill="url(#c20)"/><rect x="165.10" y="859.17" width="413.50" height="4.83" fill="url(#c21)"/><rect x="165.10" y="1093.71" width="413.50" height="4.83" fill="url(#c21)"/><rect x="165.10" y="863.29" width="413.50" height="4.83" fill="url(#c22)"/><rect x="165.10" y="1089.58" width="413.50" height="4.83" fill="url(#c22)"/><rect x="165.10" y="867.42" width="413.50" height="4.83" fill="url(#c23)"/><rect x="165.10" y="1085.45" width="413.50" height="4.83" fill="url(#c23)"/><rect x="165.10" y="871.55" width="413.50" height="4.83" fill="url(#c24)"/><rect x="165.10" y="1081.33" width="413.50" height="4.83" fill="url(#c24)"/><rect x="165.10" y="875.67" width="413.50" height="4.83" fill="url(#c25)"/><rect x="165.10" y="1077.20" width="413.50" height="4.83" fill="url(#c25)"/><rect x="165.10" y="879.80" width="413.50" height="4.83" fill="url(#c26)"/><rect x="165.10" y="1073.07" width="413.50" height="4.83" fill="url(#c26)"/><rect x="165.10" y="883.93" width="413.50" height="4.83" fill="url(#c27)"/><rect x="165.10" y="1068.94" width="413.50" height="4.83" fill="url(#c27)"/><rect x="165.10" y="888.06" width="413.50" height="4.83" fill="url(#c28)"/><rect x="165.10" y="1064.82" width="413.50" height="4.83" fill="url(#c28)"/><rect x="165.10" y="892.18" width="413.50" height="4.83" fill="url(#c29)"/><rect x="165.10" y="1060.69" width="413.50" height="4.83" fill="url(#c29)"/><rect x="165.10" y="896.31" width="413.50" height="4.83" fill="url(#c30)"/><rect x="165.10" y="1056.56" width="413.50" height="4.83" fill="url(#c30)"/><rect x="165.10" y="900.44" width="413.50" height="4.83" fill="url(#c31)"/><rect x="165.10" y="1052.44" width="413.50" height="4.83" fill="url(#c31)"/><rect x="165.10" y="904.56" width="413.50" height="4.83" fill="url(#c32)"/><rect x="165.10" y="1048.31" width="413.50" height="4.83" fill="url(#c32)"/><rect x="165.10" y="908.69" width="413.50" height="4.83" fill="url(#c33)"/><rect x="165.10" y="1044.18" width="413.50" height="4.83" fill="url(#c33)"/><rect x="165.10" y="912.82" width="413.50" height="4.83" fill="url(#c34)"/><rect x="165.10" y="1040.06" width="413.50" height="4.83" fill="url(#c34)"/><rect x="165.10" y="916.95" width="413.50" height="4.83" fill="url(#c35)"/><rect x="165.10" y="1035.93" width="413.50" height="4.83" fill="url(#c35)"/><rect x="165.10" y="921.07" width="413.50" height="4.83" fill="url(#c36)"/><rect x="165.10" y="1031.80" width="413.50" height="4.83" fill="url(#c36)"/><rect x="165.10" y="925.20" width="413.50" height="4.83" fill="url(#c37)"/><rect x="165.10" y="1027.67" width="413.50" height="4.83" fill="url(#c37)"/><rect x="165.10" y="929.33" width="413.50" height="4.83" fill="url(#c38)"/><rect x="165.10" y="1023.55" width="413.50" height="4.83" fill="url(#c38)"/><rect x="165.10" y="933.45" width="413.50" height="4.83" fill="url(#c39)"/><rect x="165.10" y="1019.42" width="413.50" height="4.83" fill="url(#c39)"/><rect x="165.10" y="937.58" width="413.50" height="4.83" fill="url(#c40)"/><rect x="165.10" y="1015.29" width="413.50" height="4.83" fill="url(#c40)"/><rect x="165.10" y="941.71" width="413.50" height="4.83" fill="url(#c41)"/><rect x="165.10" y="1011.17" width="413.50" height="4.83" fill="url(#c41)"/><rect x="165.10" y="945.83" width="413.50" height="4.83" fill="url(#c42)"/><rect x="165.10" y="1007.04" width="413.50" height="4.83" fill="url(#c42)"/><rect x="165.10" y="949.96" width="413.50" height="4.83" fill="url(#c43)"/><rect x="165.10" y="1002.91" width="413.50" height="4.83" fill="url(#c43)"/><rect x="165.10" y="954.09" width="413.50" height="4.83" fill="url(#c44)"/><rect x="165.10" y="998.78" width="413.50" height="4.83" fill="url(#c44)"/><rect x="165.10" y="958.22" width="413.50" height="4.83" fill="url(#c45)"/><rect x="165.10" y="994.66" width="413.50" height="4.83" fill="url(#c45)"/><rect x="165.10" y="962.34" width="413.50" height="4.83" fill="url(#c46)"/><rect x="165.10" y="990.53" width="413.50" height="4.83" fill="url(#c46)"/><rect x="165.10" y="966.47" width="413.50" height="4.83" fill="url(#c47)"/><rect x="165.10" y="986.40" width="413.50" height="4.83" fill="url(#c47)"/><rect x="165.10" y="970.60" width="413.50" height="4.83" fill="url(#c48)"/><rect x="165.10" y="982.28" width="413.50" height="4.83" fill="url(#c48)"/><rect x="165.10" y="974.72" width="413.50" height="4.83" fill="url(#c49)"/><rect x="165.10" y="978.15" width="413.50" height="4.83" fill="url(#c49)"/></g>
<use href="#fs" transform="translate(165.10 772.50) scale(1.0012 0.9993)"/>
<path d="M371.9 772.5v11.5M371.9 1185.2v-11.5M165.1 978.9h11.5M578.6 978.9h-11.5" stroke="#000" stroke-width="1.5" fill="none"/>
<rect x="165.1" y="772.5" width="413.5" height="412.7" fill="none" stroke="#000" stroke-width="2"/>
<g shape-rendering="crispEdges"><rect x="752.60" y="772.40" width="413.00" height="4.83" fill="url(#d0)"/><rect x="752.60" y="1180.37" width="413.00" height="4.83" fill="url(#d0)"/><rect x="752.60" y="776.53" width="413.00" height="4.83" fill="url(#d1)"/><rect x="752.60" y="1176.24" width="413.00" height="4.83" fill="url(#d1)"/><rect x="752.60" y="780.66" width="413.00" height="4.83" fill="url(#d2)"/><rect x="752.60" y="1172.12" width="413.00" height="4.83" fill="url(#d2)"/><rect x="752.60" y="784.78" width="413.00" height="4.83" fill="url(#d3)"/><rect x="752.60" y="1167.99" width="413.00" height="4.83" fill="url(#d3)"/><rect x="752.60" y="788.91" width="413.00" height="4.83" fill="url(#d4)"/><rect x="752.60" y="1163.86" width="413.00" height="4.83" fill="url(#d4)"/><rect x="752.60" y="793.04" width="413.00" height="4.83" fill="url(#d5)"/><rect x="752.60" y="1159.73" width="413.00" height="4.83" fill="url(#d5)"/><rect x="752.60" y="797.17" width="413.00" height="4.83" fill="url(#d6)"/><rect x="752.60" y="1155.60" width="413.00" height="4.83" fill="url(#d6)"/><rect x="752.60" y="801.30" width="413.00" height="4.83" fill="url(#d7)"/><rect x="752.60" y="1151.48" width="413.00" height="4.83" fill="url(#d7)"/><rect x="752.60" y="805.42" width="413.00" height="4.83" fill="url(#d8)"/><rect x="752.60" y="1147.35" width="413.00" height="4.83" fill="url(#d8)"/><rect x="752.60" y="809.55" width="413.00" height="4.83" fill="url(#d9)"/><rect x="752.60" y="1143.22" width="413.00" height="4.83" fill="url(#d9)"/><rect x="752.60" y="813.68" width="413.00" height="4.83" fill="url(#d10)"/><rect x="752.60" y="1139.09" width="413.00" height="4.83" fill="url(#d10)"/><rect x="752.60" y="817.81" width="413.00" height="4.83" fill="url(#d11)"/><rect x="752.60" y="1134.96" width="413.00" height="4.83" fill="url(#d11)"/><rect x="752.60" y="821.94" width="413.00" height="4.83" fill="url(#d12)"/><rect x="752.60" y="1130.84" width="413.00" height="4.83" fill="url(#d12)"/><rect x="752.60" y="826.06" width="413.00" height="4.83" fill="url(#d13)"/><rect x="752.60" y="1126.71" width="413.00" height="4.83" fill="url(#d13)"/><rect x="752.60" y="830.19" width="413.00" height="4.83" fill="url(#d14)"/><rect x="752.60" y="1122.58" width="413.00" height="4.83" fill="url(#d14)"/><rect x="752.60" y="834.32" width="413.00" height="4.83" fill="url(#d15)"/><rect x="752.60" y="1118.45" width="413.00" height="4.83" fill="url(#d15)"/><rect x="752.60" y="838.45" width="413.00" height="4.83" fill="url(#d16)"/><rect x="752.60" y="1114.32" width="413.00" height="4.83" fill="url(#d16)"/><rect x="752.60" y="842.58" width="413.00" height="4.83" fill="url(#d17)"/><rect x="752.60" y="1110.20" width="413.00" height="4.83" fill="url(#d17)"/><rect x="752.60" y="846.70" width="413.00" height="4.83" fill="url(#d18)"/><rect x="752.60" y="1106.07" width="413.00" height="4.83" fill="url(#d18)"/><rect x="752.60" y="850.83" width="413.00" height="4.83" fill="url(#d19)"/><rect x="752.60" y="1101.94" width="413.00" height="4.83" fill="url(#d19)"/><rect x="752.60" y="854.96" width="413.00" height="4.83" fill="url(#d20)"/><rect x="752.60" y="1097.81" width="413.00" height="4.83" fill="url(#d20)"/><rect x="752.60" y="859.09" width="413.00" height="4.83" fill="url(#d21)"/><rect x="752.60" y="1093.68" width="413.00" height="4.83" fill="url(#d21)"/><rect x="752.60" y="863.22" width="413.00" height="4.83" fill="url(#d22)"/><rect x="752.60" y="1089.56" width="413.00" height="4.83" fill="url(#d22)"/><rect x="752.60" y="867.34" width="413.00" height="4.83" fill="url(#d23)"/><rect x="752.60" y="1085.43" width="413.00" height="4.83" fill="url(#d23)"/><rect x="752.60" y="871.47" width="413.00" height="4.83" fill="url(#d24)"/><rect x="752.60" y="1081.30" width="413.00" height="4.83" fill="url(#d24)"/><rect x="752.60" y="875.60" width="413.00" height="4.83" fill="url(#d25)"/><rect x="752.60" y="1077.17" width="413.00" height="4.83" fill="url(#d25)"/><rect x="752.60" y="879.73" width="413.00" height="4.83" fill="url(#d26)"/><rect x="752.60" y="1073.04" width="413.00" height="4.83" fill="url(#d26)"/><rect x="752.60" y="883.86" width="413.00" height="4.83" fill="url(#d27)"/><rect x="752.60" y="1068.92" width="413.00" height="4.83" fill="url(#d27)"/><rect x="752.60" y="887.98" width="413.00" height="4.83" fill="url(#d28)"/><rect x="752.60" y="1064.79" width="413.00" height="4.83" fill="url(#d28)"/><rect x="752.60" y="892.11" width="413.00" height="4.83" fill="url(#d29)"/><rect x="752.60" y="1060.66" width="413.00" height="4.83" fill="url(#d29)"/><rect x="752.60" y="896.24" width="413.00" height="4.83" fill="url(#d30)"/><rect x="752.60" y="1056.53" width="413.00" height="4.83" fill="url(#d30)"/><rect x="752.60" y="900.37" width="413.00" height="4.83" fill="url(#d31)"/><rect x="752.60" y="1052.40" width="413.00" height="4.83" fill="url(#d31)"/><rect x="752.60" y="904.50" width="413.00" height="4.83" fill="url(#d32)"/><rect x="752.60" y="1048.28" width="413.00" height="4.83" fill="url(#d32)"/><rect x="752.60" y="908.62" width="413.00" height="4.83" fill="url(#d33)"/><rect x="752.60" y="1044.15" width="413.00" height="4.83" fill="url(#d33)"/><rect x="752.60" y="912.75" width="413.00" height="4.83" fill="url(#d34)"/><rect x="752.60" y="1040.02" width="413.00" height="4.83" fill="url(#d34)"/><rect x="752.60" y="916.88" width="413.00" height="4.83" fill="url(#d35)"/><rect x="752.60" y="1035.89" width="413.00" height="4.83" fill="url(#d35)"/><rect x="752.60" y="921.01" width="413.00" height="4.83" fill="url(#d36)"/><rect x="752.60" y="1031.76" width="413.00" height="4.83" fill="url(#d36)"/><rect x="752.60" y="925.14" width="413.00" height="4.83" fill="url(#d37)"/><rect x="752.60" y="1027.64" width="413.00" height="4.83" fill="url(#d37)"/><rect x="752.60" y="929.26" width="413.00" height="4.83" fill="url(#d38)"/><rect x="752.60" y="1023.51" width="413.00" height="4.83" fill="url(#d38)"/><rect x="752.60" y="933.39" width="413.00" height="4.83" fill="url(#d39)"/><rect x="752.60" y="1019.38" width="413.00" height="4.83" fill="url(#d39)"/><rect x="752.60" y="937.52" width="413.00" height="4.83" fill="url(#d40)"/><rect x="752.60" y="1015.25" width="413.00" height="4.83" fill="url(#d40)"/><rect x="752.60" y="941.65" width="413.00" height="4.83" fill="url(#d41)"/><rect x="752.60" y="1011.12" width="413.00" height="4.83" fill="url(#d41)"/><rect x="752.60" y="945.78" width="413.00" height="4.83" fill="url(#d42)"/><rect x="752.60" y="1007.00" width="413.00" height="4.83" fill="url(#d42)"/><rect x="752.60" y="949.90" width="413.00" height="4.83" fill="url(#d43)"/><rect x="752.60" y="1002.87" width="413.00" height="4.83" fill="url(#d43)"/><rect x="752.60" y="954.03" width="413.00" height="4.83" fill="url(#d44)"/><rect x="752.60" y="998.74" width="413.00" height="4.83" fill="url(#d44)"/><rect x="752.60" y="958.16" width="413.00" height="4.83" fill="url(#d45)"/><rect x="752.60" y="994.61" width="413.00" height="4.83" fill="url(#d45)"/><rect x="752.60" y="962.29" width="413.00" height="4.83" fill="url(#d46)"/><rect x="752.60" y="990.48" width="413.00" height="4.83" fill="url(#d46)"/><rect x="752.60" y="966.42" width="413.00" height="4.83" fill="url(#d47)"/><rect x="752.60" y="986.36" width="413.00" height="4.83" fill="url(#d47)"/><rect x="752.60" y="970.54" width="413.00" height="4.83" fill="url(#d48)"/><rect x="752.60" y="982.23" width="413.00" height="4.83" fill="url(#d48)"/><rect x="752.60" y="974.67" width="413.00" height="4.83" fill="url(#d49)"/><rect x="752.60" y="978.10" width="413.00" height="4.83" fill="url(#d49)"/></g>
<use href="#fs" transform="translate(752.60 772.40) scale(1.0000 0.9995)"/>
<path d="M959.1 772.4v11.5M959.1 1185.2v-11.5M752.6 978.8h11.5M1165.6 978.8h-11.5" stroke="#000" stroke-width="1.5" fill="none"/>
<rect x="752.6" y="772.4" width="413.0" height="412.8" fill="none" stroke="#000" stroke-width="2"/>
<rect x="1177.6" y="773.0" width="21.1" height="412.6" fill="url(#cb)" stroke="#000" stroke-width="1.6"/>
<path d="M1177.6 876.1h9.3M1198.7 876.1h-9.7M1177.6 979.3h9.3M1198.7 979.3h-9.7M1177.6 1082.4h9.3M1198.7 1082.4h-9.7" stroke="#000" stroke-width="1.3" fill="none"/>
<g opacity=".999"><text transform="translate(13.98 46.34) scale(0.4394 0.4382)" font-family='"Liberation Sans",sans-serif' font-size="100" font-weight="bold">A</text>
<text transform="translate(61.63 110.63) scale(0.5186 0.5373)" font-family='"Liberation Serif",serif' font-size="100">0.6</text>
<text transform="translate(61.94 408.73) scale(0.5143 0.5343)" font-family='"Liberation Serif",serif' font-size="100">0.4</text>
<text transform="translate(-1.93 310.00) scale(0.7422 0.6857)" font-family='"Liberation Serif",serif' font-size="100">λ</text>
<text transform="translate(34.13 318.10) scale(0.4739 0.4618)" font-family='"Liberation Serif",serif' font-size="100" font-style="italic" font-weight="bold">q</text>
<text transform="translate(106.21 590.00) scale(0.5301 0.5231)" font-family='"Liberation Serif",serif' font-size="100">M</text>
<text transform="translate(373.37 593.20) scale(0.5769 0.5400)" font-family='"Liberation Serif",serif' font-size="100">Γ</text>
<text transform="translate(632.08 589.90) scale(0.5174 0.5338)" font-family='"Liberation Serif",serif' font-size="100">Y</text>
<text transform="translate(373.98 633.32) scale(0.6217 0.5941)" font-family='"Liberation Serif",serif' font-size="100" font-style="italic" font-weight="bold">q</text>
<text transform="translate(393.74 305.10) scale(0.3400 0.4136)" font-family='"Liberation Serif",serif' font-size="100">1</text>
<text transform="translate(391.15 496.87) scale(0.4381 0.4164)" font-family='"Liberation Serif",serif' font-size="100">0</text>
<text transform="translate(397.87 526.50) scale(0.4096 0.4092)" font-family='"Liberation Serif",serif' font-size="100">M</text>
<text transform="translate(499.86 526.70) scale(0.4462 0.4154)" font-family='"Liberation Serif",serif' font-size="100">Γ</text>
<text transform="translate(593.80 525.10) scale(0.4043 0.4169)" font-family='"Liberation Serif",serif' font-size="100">Y</text>
<text transform="translate(726.50 45.40) scale(0.4279 0.4116)" font-family='"Liberation Sans",sans-serif' font-size="100" font-weight="bold">B</text>
<text transform="translate(1114.81 246.65) scale(0.6215 0.6593)" font-family='"Liberation Serif",serif' font-size="100" font-style="italic" font-weight="bold">Q</text>
<text transform="translate(972.30 142.30) scale(0.6043 0.6169)" font-family='"Liberation Serif",serif' font-size="100">Y</text>
<text transform="translate(975.57 325.60) scale(0.5769 0.5385)" font-family='"Liberation Serif",serif' font-size="100">Γ</text>
<text transform="translate(1194.85 113.70) scale(0.5154 0.5154)" font-family='"Liberation Serif",serif' font-size="100">M</text>
<text transform="translate(1203.17 321.60) scale(0.5162 0.5169)" font-family='"Liberation Serif",serif' font-size="100">X</text>
<text transform="translate(757.47 109.71) scale(0.5292 0.4936)" font-family='"Liberation Serif",serif' font-size="100" stroke="#000" stroke-width="1.56" stroke-linejoin="round">π</text>
<text transform="translate(692.70 326.50) scale(0.7651 0.6913)" font-family='"Liberation Serif",serif' font-size="100" font-style="italic">k</text>
<text transform="translate(724.38 338.15) scale(0.4731 0.4642)" font-family='"Liberation Serif",serif' font-size="100" font-style="italic">y</text>
<text transform="translate(755.43 321.72) scale(0.5429 0.5388)" font-family='"Liberation Serif",serif' font-size="100">0</text>
<text transform="translate(726.48 528.36) scale(0.5638 0.5600)" font-family='"Liberation Serif",serif' font-size="100">−</text>
<text transform="translate(757.78 523.30) scale(0.5167 0.5021)" font-family='"Liberation Serif",serif' font-size="100" stroke="#000" stroke-width="1.57" stroke-linejoin="round">π</text>
<text transform="translate(755.11 552.26) scale(0.5574 0.5600)" font-family='"Liberation Serif",serif' font-size="100">−</text>
<text transform="translate(785.88 547.19) scale(0.5167 0.5085)" font-family='"Liberation Serif",serif' font-size="100" stroke="#000" stroke-width="1.56" stroke-linejoin="round">π</text>
<text transform="translate(980.28 553.44) scale(0.5548 0.5299)" font-family='"Liberation Serif",serif' font-size="100">0</text>
<text transform="translate(1188.47 545.98) scale(0.5292 0.5170)" font-family='"Liberation Serif",serif' font-size="100" stroke="#000" stroke-width="1.53" stroke-linejoin="round">π</text>
<text transform="translate(971.02 614.40) scale(0.7605 0.6971)" font-family='"Liberation Serif",serif' font-size="100" font-style="italic">k</text>
<text transform="translate(1001.40 626.40) scale(0.4956 0.4848)" font-family='"Liberation Serif",serif' font-size="100" font-style="italic">x</text>
<text transform="translate(925.17 81.15) skewX(-14) scale(0.7933 0.8022)" font-family='"Liberation Serif",serif' font-size="100" font-style="italic">f</text>
<text transform="translate(967.58 85.40) scale(0.4034 0.4462)" font-family='"Liberation Serif",serif' font-size="100">3,4</text>
<text transform="translate(983.28 35.29) scale(0.5293 0.5150)" font-family='"Liberation Serif",serif' font-size="100" stroke="#000" stroke-width="1.53" stroke-linejoin="round">(0,π)</text>
<text transform="translate(14.73 738.15) scale(0.4169 0.4451)" font-family='"Liberation Sans",sans-serif' font-size="100" font-weight="bold">C</text>
<text transform="translate(135.27 782.38) scale(0.5292 0.5170)" font-family='"Liberation Serif",serif' font-size="100" stroke="#000" stroke-width="1.53" stroke-linejoin="round">π</text>
<text transform="translate(68.29 997.50) scale(0.7698 0.6652)" font-family='"Liberation Serif",serif' font-size="100" font-style="italic">k</text>
<text transform="translate(100.12 1009.91) scale(0.4654 0.4806)" font-family='"Liberation Serif",serif' font-size="100" font-style="italic">y</text>
<text transform="translate(133.67 995.35) scale(0.5571 0.5254)" font-family='"Liberation Serif",serif' font-size="100">0</text>
<text transform="translate(104.70 1200.56) scale(0.5596 0.5600)" font-family='"Liberation Serif",serif' font-size="100">−</text>
<text transform="translate(135.88 1195.69) scale(0.5167 0.5085)" font-family='"Liberation Serif",serif' font-size="100" stroke="#000" stroke-width="1.56" stroke-linejoin="round">π</text>
<text transform="translate(133.00 1224.46) scale(0.5596 0.5600)" font-family='"Liberation Serif",serif' font-size="100">−</text>
<text transform="translate(163.98 1219.40) scale(0.5167 0.5043)" font-family='"Liberation Serif",serif' font-size="100" stroke="#000" stroke-width="1.57" stroke-linejoin="round">π</text>
<text transform="translate(357.69 1225.93) scale(0.5524 0.5328)" font-family='"Liberation Serif",serif' font-size="100">0</text>
<text transform="translate(561.98 1217.79) scale(0.5250 0.5064)" font-family='"Liberation Serif",serif' font-size="100" stroke="#000" stroke-width="1.55" stroke-linejoin="round">π</text>
<text transform="translate(349.00 1286.00) scale(0.7651 0.6812)" font-family='"Liberation Serif",serif' font-size="100" font-style="italic">k</text>
<text transform="translate(379.89 1298.00) scale(0.4867 0.4696)" font-family='"Liberation Serif",serif' font-size="100" font-style="italic">x</text>
<text transform="translate(303.27 754.17) skewX(-14) scale(0.7933 0.8110)" font-family='"Liberation Serif",serif' font-size="100" font-style="italic">f</text>
<text transform="translate(346.09 757.80) scale(0.4033 0.4631)" font-family='"Liberation Serif",serif' font-size="100">4,4</text>
<text transform="translate(350.35 707.65) scale(0.5381 0.5254)" font-family='"Liberation Serif",serif' font-size="100" font-weight="bold">0</text>
<text transform="translate(685.15 737.40) scale(0.4213 0.4290)" font-family='"Liberation Sans",sans-serif' font-size="100" font-weight="bold">D</text>
<text transform="translate(723.57 782.99) scale(0.5312 0.5128)" font-family='"Liberation Serif",serif' font-size="100" stroke="#000" stroke-width="1.53" stroke-linejoin="round">π</text>
<text transform="translate(663.68 999.80) scale(0.7721 0.6928)" font-family='"Liberation Serif",serif' font-size="100" font-style="italic">k</text>
<text transform="translate(695.75 1011.18) scale(0.4692 0.4627)" font-family='"Liberation Serif",serif' font-size="100" font-style="italic">y</text>
<text transform="translate(722.22 996.33) scale(0.5452 0.5328)" font-family='"Liberation Serif",serif' font-size="100">0</text>
<text transform="translate(693.00 1201.66) scale(0.5596 0.5600)" font-family='"Liberation Serif",serif' font-size="100">−</text>
<text transform="translate(724.39 1196.59) scale(0.5146 0.5085)" font-family='"Liberation Serif",serif' font-size="100" stroke="#000" stroke-width="1.56" stroke-linejoin="round">π</text>
<text transform="translate(725.44 1222.96) scale(0.5723 0.5600)" font-family='"Liberation Serif",serif' font-size="100">−</text>
<text transform="translate(756.78 1217.79) scale(0.5188 0.5064)" font-family='"Liberation Serif",serif' font-size="100" stroke="#000" stroke-width="1.56" stroke-linejoin="round">π</text>
<text transform="translate(947.39 1224.34) scale(0.5524 0.5284)" font-family='"Liberation Serif",serif' font-size="100">0</text>
<text transform="translate(1151.97 1216.49) scale(0.5271 0.5106)" font-family='"Liberation Serif",serif' font-size="100" stroke="#000" stroke-width="1.54" stroke-linejoin="round">π</text>
<text transform="translate(938.72 1284.75) scale(0.7616 0.6920)" font-family='"Liberation Serif",serif' font-size="100" font-style="italic">k</text>
<text transform="translate(969.49 1297.00) scale(0.4867 0.4761)" font-family='"Liberation Serif",serif' font-size="100" font-style="italic">x</text>
<text transform="translate(894.17 755.01) skewX(-14) scale(0.7917 0.8044)" font-family='"Liberation Serif",serif' font-size="100" font-style="italic">f</text>
<text transform="translate(937.03 759.40) scale(0.3940 0.4631)" font-family='"Liberation Serif",serif' font-size="100">3,3</text>
<text transform="translate(943.55 708.46) scale(0.5381 0.5179)" font-family='"Liberation Serif",serif' font-size="100" font-weight="bold">0</text>
<text transform="translate(1214.69 786.40) scale(0.3343 0.4167)" font-family='"Liberation Serif",serif' font-size="100">1</text>
<text transform="translate(1212.32 992.27) scale(0.4452 0.4164)" font-family='"Liberation Serif",serif' font-size="100">0</text>
<text transform="translate(1201.77 1204.08) scale(0.4468 0.4800)" font-family='"Liberation Serif",serif' font-size="100">−</text>
<text transform="translate(1226.43 1198.90) scale(0.3970 0.3970)" font-family='"Liberation Serif",serif' font-size="100">1</text></g></svg></body></html>
